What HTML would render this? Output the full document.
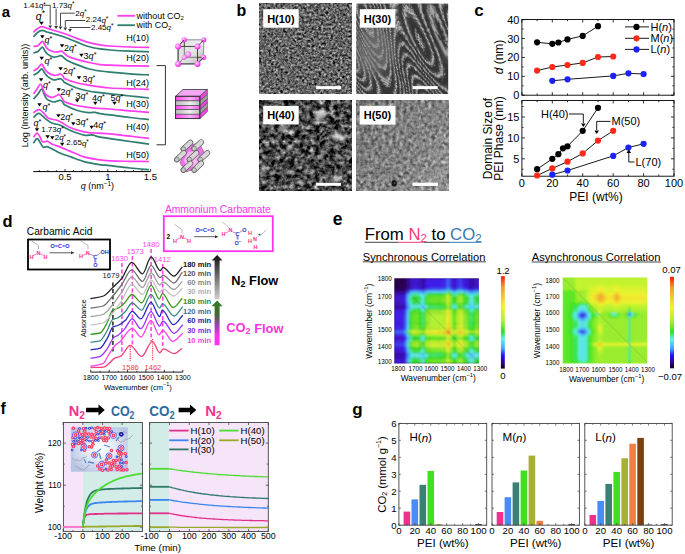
<!DOCTYPE html><html><head><meta charset="utf-8"><style>html,body{margin:0;padding:0;background:#fff}svg{display:block;font-family:"Liberation Sans",sans-serif}</style></head><body><svg width="685" height="554" viewBox="0 0 685 554"><text x="1.8" y="11.6" font-size="15" text-anchor="start" fill="#000" font-weight="bold" font-style="normal" dominant-baseline="central" >a</text><path d="M33.40,37.00 C34.00,36.33 35.62,34.10 37.00,33.00 C38.38,31.90 40.03,30.57 41.70,30.40 C43.37,30.23 45.05,31.45 47.00,32.00 C48.95,32.55 50.40,32.83 53.40,33.70 C56.40,34.57 61.12,35.83 65.00,37.20 C68.88,38.57 72.80,40.35 76.70,41.90 C80.60,43.45 84.52,45.33 88.40,46.50 C92.28,47.67 96.40,48.32 100.00,48.90 C103.60,49.48 105.00,49.62 110.00,50.00 C115.00,50.38 123.50,50.90 130.00,51.20 C136.50,51.50 145.83,51.70 149.00,51.80" stroke="#2e7d70" stroke-width="1.7" fill="none" stroke-linejoin="round"/><path d="M33.40,32.50 C34.00,31.92 35.62,29.98 37.00,29.00 C38.38,28.02 40.03,26.73 41.70,26.60 C43.37,26.47 45.05,27.60 47.00,28.20 C48.95,28.80 50.40,29.28 53.40,30.20 C56.40,31.12 61.12,32.33 65.00,33.70 C68.88,35.07 72.80,36.95 76.70,38.40 C80.60,39.85 84.52,41.33 88.40,42.40 C92.28,43.47 96.40,44.20 100.00,44.80 C103.60,45.40 105.00,45.63 110.00,46.00 C115.00,46.37 123.50,46.77 130.00,47.00 C136.50,47.23 145.83,47.33 149.00,47.40" stroke="#ff3cf0" stroke-width="1.7" fill="none" stroke-linejoin="round"/><path d="M33.40,53.00 C34.17,52.75 36.52,52.48 38.00,51.50 C39.48,50.52 41.13,47.18 42.30,47.10 C43.47,47.02 44.13,49.83 45.00,51.00 C45.87,52.17 46.10,53.10 47.50,54.10 C48.90,55.10 51.65,56.60 53.40,57.00 C55.15,57.40 56.65,56.68 58.00,56.50 C59.35,56.32 59.93,55.23 61.50,55.90 C63.07,56.57 64.87,59.05 67.40,60.50 C69.93,61.95 73.20,63.23 76.70,64.60 C80.20,65.97 84.52,67.63 88.40,68.70 C92.28,69.77 96.40,70.42 100.00,71.00 C103.60,71.58 105.00,71.73 110.00,72.20 C115.00,72.67 123.50,73.35 130.00,73.80 C136.50,74.25 145.83,74.72 149.00,74.90" stroke="#2e7d70" stroke-width="1.7" fill="none" stroke-linejoin="round"/><path d="M33.40,46.50 C34.20,46.32 36.72,46.27 38.20,45.40 C39.68,44.53 41.17,41.37 42.30,41.30 C43.43,41.23 44.13,43.73 45.00,45.00 C45.87,46.27 46.10,47.77 47.50,48.90 C48.90,50.03 51.65,51.32 53.40,51.80 C55.15,52.28 56.65,51.93 58.00,51.80 C59.35,51.67 60.75,51.05 61.50,51.00 C62.25,50.95 61.52,50.68 62.50,51.50 C63.48,52.32 65.03,54.58 67.40,55.90 C69.77,57.22 73.20,58.33 76.70,59.40 C80.20,60.47 84.52,61.43 88.40,62.30 C92.28,63.17 96.40,64.12 100.00,64.60 C103.60,65.08 105.00,65.00 110.00,65.20 C115.00,65.40 123.50,65.63 130.00,65.80 C136.50,65.97 145.83,66.13 149.00,66.20" stroke="#ff3cf0" stroke-width="1.7" fill="none" stroke-linejoin="round"/><path d="M33.50,75.20 C34.25,74.75 36.63,73.57 38.00,72.50 C39.37,71.43 40.62,68.75 41.70,68.80 C42.78,68.85 43.53,71.53 44.50,72.80 C45.47,74.07 46.02,75.22 47.50,76.40 C48.98,77.58 51.65,79.43 53.40,79.90 C55.15,80.37 56.83,79.40 58.00,79.20 C59.17,79.00 59.57,78.48 60.40,78.70 C61.23,78.92 62.23,79.82 63.00,80.50 C63.77,81.18 62.72,81.55 65.00,82.80 C67.28,84.05 72.80,86.63 76.70,88.00 C80.60,89.37 84.52,90.22 88.40,91.00 C92.28,91.78 96.40,92.22 100.00,92.70 C103.60,93.18 105.00,93.35 110.00,93.90 C115.00,94.45 123.50,95.32 130.00,96.00 C136.50,96.68 145.83,97.67 149.00,98.00" stroke="#2e7d70" stroke-width="1.7" fill="none" stroke-linejoin="round"/><path d="M33.50,71.10 C34.25,70.58 36.63,69.17 38.00,68.00 C39.37,66.83 40.62,64.02 41.70,64.10 C42.78,64.18 43.53,67.13 44.50,68.50 C45.47,69.87 46.02,71.18 47.50,72.30 C48.98,73.42 51.65,74.78 53.40,75.20 C55.15,75.62 56.83,75.00 58.00,74.80 C59.17,74.60 59.57,73.80 60.40,74.00 C61.23,74.20 62.23,75.22 63.00,76.00 C63.77,76.78 62.72,77.57 65.00,78.70 C67.28,79.83 72.80,81.73 76.70,82.80 C80.60,83.87 84.52,84.42 88.40,85.10 C92.28,85.78 96.40,86.42 100.00,86.90 C103.60,87.38 105.00,87.68 110.00,88.00 C115.00,88.32 123.50,88.58 130.00,88.80 C136.50,89.02 145.83,89.22 149.00,89.30" stroke="#ff3cf0" stroke-width="1.7" fill="none" stroke-linejoin="round"/><path d="M33.50,99.10 C34.25,98.25 36.63,95.65 38.00,94.00 C39.37,92.35 40.62,89.03 41.70,89.20 C42.78,89.37 43.53,93.25 44.50,95.00 C45.47,96.75 46.02,98.53 47.50,99.70 C48.98,100.87 51.73,101.78 53.40,102.00 C55.07,102.22 56.33,101.28 57.50,101.00 C58.67,100.72 59.48,100.05 60.40,100.30 C61.32,100.55 62.23,101.72 63.00,102.50 C63.77,103.28 62.72,103.72 65.00,105.00 C67.28,106.28 72.80,108.93 76.70,110.20 C80.60,111.47 85.35,112.25 88.40,112.60 C91.45,112.95 93.07,112.12 95.00,112.30 C96.93,112.48 97.50,113.27 100.00,113.70 C102.50,114.13 105.00,114.27 110.00,114.90 C115.00,115.53 123.50,116.72 130.00,117.50 C136.50,118.28 145.83,119.25 149.00,119.60" stroke="#2e7d70" stroke-width="1.7" fill="none" stroke-linejoin="round"/><path d="M33.50,93.90 C34.08,93.08 35.83,90.65 37.00,89.00 C38.17,87.35 39.50,84.00 40.50,84.00 C41.50,84.00 42.22,87.35 43.00,89.00 C43.78,90.65 43.87,92.50 45.20,93.90 C46.53,95.30 49.20,97.05 51.00,97.40 C52.80,97.75 54.63,96.48 56.00,96.00 C57.37,95.52 58.20,94.17 59.20,94.50 C60.20,94.83 61.03,96.75 62.00,98.00 C62.97,99.25 62.55,100.75 65.00,102.00 C67.45,103.25 72.80,104.62 76.70,105.50 C80.60,106.38 84.52,106.80 88.40,107.30 C92.28,107.80 96.40,108.22 100.00,108.50 C103.60,108.78 105.00,108.62 110.00,109.00 C115.00,109.38 123.50,110.23 130.00,110.80 C136.50,111.37 145.83,112.13 149.00,112.40" stroke="#ff3cf0" stroke-width="1.7" fill="none" stroke-linejoin="round"/><path d="M33.40,117.60 C33.92,117.08 35.48,115.18 36.50,114.50 C37.52,113.82 38.10,112.87 39.50,113.50 C40.90,114.13 43.10,116.83 44.90,118.30 C46.70,119.77 48.62,121.35 50.30,122.30 C51.98,123.25 53.42,123.55 55.00,124.00 C56.58,124.45 57.20,123.92 59.80,125.00 C62.40,126.08 66.55,128.80 70.60,130.50 C74.65,132.20 80.53,134.48 84.10,135.20 C87.67,135.92 89.73,134.57 92.00,134.80 C94.27,135.03 94.70,135.97 97.70,136.60 C100.70,137.23 104.62,137.78 110.00,138.60 C115.38,139.42 123.50,140.57 130.00,141.50 C136.50,142.43 145.83,143.75 149.00,144.20" stroke="#2e7d70" stroke-width="1.7" fill="none" stroke-linejoin="round"/><path d="M33.40,112.90 C33.92,112.50 35.48,111.03 36.50,110.50 C37.52,109.97 38.33,109.30 39.50,109.70 C40.67,110.10 42.15,111.58 43.50,112.90 C44.85,114.22 46.18,116.53 47.60,117.60 C49.02,118.67 50.42,118.85 52.00,119.30 C53.58,119.75 55.58,119.80 57.10,120.30 C58.62,120.80 58.85,121.07 61.10,122.30 C63.35,123.53 66.77,126.12 70.60,127.70 C74.43,129.28 79.58,130.88 84.10,131.80 C88.62,132.72 93.38,132.87 97.70,133.20 C102.02,133.53 104.62,133.30 110.00,133.80 C115.38,134.30 123.50,135.43 130.00,136.20 C136.50,136.97 145.83,138.03 149.00,138.40" stroke="#ff3cf0" stroke-width="1.7" fill="none" stroke-linejoin="round"/><path d="M33.40,143.30 C33.75,142.75 34.83,140.78 35.50,140.00 C36.17,139.22 36.73,138.35 37.40,138.60 C38.07,138.85 38.58,140.10 39.50,141.50 C40.42,142.90 42.07,146.05 42.90,147.00 C43.73,147.95 43.83,147.25 44.50,147.20 C45.17,147.15 45.70,146.45 46.90,146.70 C48.10,146.95 50.18,147.98 51.70,148.70 C53.22,149.42 54.43,150.20 56.00,151.00 C57.57,151.80 58.67,152.52 61.10,153.50 C63.53,154.48 66.77,155.55 70.60,156.90 C74.43,158.25 79.58,160.37 84.10,161.60 C88.62,162.83 93.38,163.62 97.70,164.30 C102.02,164.98 104.62,165.08 110.00,165.70 C115.38,166.32 123.50,167.35 130.00,168.00 C136.50,168.65 145.83,169.33 149.00,169.60" stroke="#2e7d70" stroke-width="1.7" fill="none" stroke-linejoin="round"/><path d="M33.40,137.20 C33.75,136.75 34.83,135.17 35.50,134.50 C36.17,133.83 36.73,132.95 37.40,133.20 C38.07,133.45 38.70,134.62 39.50,136.00 C40.30,137.38 41.37,140.53 42.20,141.50 C43.03,142.47 43.60,141.83 44.50,141.80 C45.40,141.77 46.40,140.93 47.60,141.30 C48.80,141.67 50.30,143.30 51.70,144.00 C53.10,144.70 54.43,144.93 56.00,145.50 C57.57,146.07 58.67,146.42 61.10,147.40 C63.53,148.38 66.77,149.82 70.60,151.40 C74.43,152.98 79.58,155.53 84.10,156.90 C88.62,158.27 93.38,158.93 97.70,159.60 C102.02,160.27 104.62,160.62 110.00,160.90 C115.38,161.18 123.50,161.20 130.00,161.30 C136.50,161.40 145.83,161.47 149.00,161.50" stroke="#ff3cf0" stroke-width="1.7" fill="none" stroke-linejoin="round"/><text x="149.0" y="37.5" font-size="9.1" text-anchor="end" fill="#000" font-weight="normal" font-style="normal" dominant-baseline="central" >H(10)</text><text x="149.0" y="58.0" font-size="9.1" text-anchor="end" fill="#000" font-weight="normal" font-style="normal" dominant-baseline="central" >H(20)</text><text x="149.0" y="82.5" font-size="9.1" text-anchor="end" fill="#000" font-weight="normal" font-style="normal" dominant-baseline="central" >H(24)</text><text x="149.0" y="104.0" font-size="9.1" text-anchor="end" fill="#000" font-weight="normal" font-style="normal" dominant-baseline="central" >H(30)</text><text x="149.0" y="127.0" font-size="9.1" text-anchor="end" fill="#000" font-weight="normal" font-style="normal" dominant-baseline="central" >H(40)</text><text x="149.0" y="154.5" font-size="9.1" text-anchor="end" fill="#000" font-weight="normal" font-style="normal" dominant-baseline="central" >H(50)</text><line x1="33.3" y1="171.6" x2="150.3" y2="171.6" stroke="#000" stroke-width="1" /><line x1="39.3" y1="171.6" x2="39.3" y2="170.1" stroke="#000" stroke-width="0.8" /><line x1="47.9" y1="171.6" x2="47.9" y2="170.1" stroke="#000" stroke-width="0.8" /><line x1="56.4" y1="171.6" x2="56.4" y2="170.1" stroke="#000" stroke-width="0.8" /><line x1="65.0" y1="171.6" x2="65.0" y2="169.1" stroke="#000" stroke-width="0.8" /><line x1="73.6" y1="171.6" x2="73.6" y2="170.1" stroke="#000" stroke-width="0.8" /><line x1="82.1" y1="171.6" x2="82.1" y2="170.1" stroke="#000" stroke-width="0.8" /><line x1="90.7" y1="171.6" x2="90.7" y2="170.1" stroke="#000" stroke-width="0.8" /><line x1="99.2" y1="171.6" x2="99.2" y2="170.1" stroke="#000" stroke-width="0.8" /><line x1="107.8" y1="171.6" x2="107.8" y2="169.1" stroke="#000" stroke-width="0.8" /><line x1="116.4" y1="171.6" x2="116.4" y2="170.1" stroke="#000" stroke-width="0.8" /><line x1="124.9" y1="171.6" x2="124.9" y2="170.1" stroke="#000" stroke-width="0.8" /><line x1="133.5" y1="171.6" x2="133.5" y2="170.1" stroke="#000" stroke-width="0.8" /><line x1="142.0" y1="171.6" x2="142.0" y2="170.1" stroke="#000" stroke-width="0.8" /><line x1="150.6" y1="171.6" x2="150.6" y2="169.1" stroke="#000" stroke-width="0.8" /><text x="65.0" y="176.6" font-size="9.5" text-anchor="middle" fill="#000" font-weight="normal" font-style="normal" dominant-baseline="central" >0.5</text><text x="107.8" y="176.6" font-size="9.5" text-anchor="middle" fill="#000" font-weight="normal" font-style="normal" dominant-baseline="central" >1</text><text x="150.4" y="176.6" font-size="9.5" text-anchor="middle" fill="#000" font-weight="normal" font-style="normal" dominant-baseline="central" >1.5</text><text x="97.4" y="186" font-size="9" text-anchor="middle" dominant-baseline="central"><tspan font-style="italic">q</tspan> (nm<tspan font-size="6.5" dy="-3.5">−1</tspan><tspan dy="3.5">)</tspan></text><text transform="translate(24.5,95.5) rotate(-90)" font-size="9.1" text-anchor="middle" dominant-baseline="central">Log (Intensity (arb. units))</text><line x1="117.4" y1="15.8" x2="135.0" y2="15.8" stroke="#ff3cf0" stroke-width="1.8" /><text x="136.5" y="15.8" font-size="8.9" text-anchor="start" fill="#000" font-weight="normal" font-style="normal" dominant-baseline="central" >without CO<tspan font-size="6" dy="2.5">2</tspan></text><line x1="117.4" y1="25.2" x2="135.0" y2="25.2" stroke="#2e7d70" stroke-width="1.8" /><text x="136.5" y="25.2" font-size="8.9" text-anchor="start" fill="#000" font-weight="normal" font-style="normal" dominant-baseline="central" >with CO<tspan font-size="6" dy="2.5">2</tspan></text><text x="35.8" y="15.5" font-size="10.5" dominant-baseline="central"><tspan font-style="italic">q</tspan><tspan font-size="8.4" dy="-2.3">*</tspan></text><path d="M39.3,21.7 L43.7,21.7 L41.5,25.0Z" fill="#000"/><g fill="#555" font-size="8.5"></g><text x="23.3" y="5.3" font-size="8" dominant-baseline="central">1.41<tspan font-style="italic">q</tspan><tspan font-size="6.4" dy="-1.8">*</tspan></text><text x="52.0" y="5.0" font-size="8" dominant-baseline="central">1.73<tspan font-style="italic">q</tspan><tspan font-size="6.4" dy="-1.8">*</tspan></text><text x="75.3" y="13.2" font-size="8" dominant-baseline="central">2<tspan font-style="italic">q</tspan><tspan font-size="6.4" dy="-1.8">*</tspan></text><text x="85.8" y="19.6" font-size="8" dominant-baseline="central">2.24<tspan font-style="italic">q</tspan><tspan font-size="6.4" dy="-1.8">*</tspan></text><text x="91.0" y="27.2" font-size="8" dominant-baseline="central">2.45<tspan font-style="italic">q</tspan><tspan font-size="6.4" dy="-1.8">*</tspan></text><line x1="44.0" y1="5.3" x2="50.2" y2="5.3" stroke="#333" stroke-width="0.9" /><line x1="50.2" y1="5.3" x2="50.2" y2="24.5" stroke="#333" stroke-width="0.9" /><path d="M48.3,25.4 L52.1,25.4 L50.2,28.2Z" fill="#333"/><line x1="56.1" y1="8.5" x2="56.1" y2="25.5" stroke="#333" stroke-width="0.9" /><path d="M54.2,26.1 L58.0,26.1 L56.1,29.0Z" fill="#333"/><line x1="60.5" y1="13.2" x2="74.8" y2="13.2" stroke="#333" stroke-width="0.9" /><line x1="60.5" y1="13.2" x2="60.5" y2="26.0" stroke="#333" stroke-width="0.9" /><path d="M58.6,26.6 L62.4,26.6 L60.5,29.5Z" fill="#333"/><line x1="65.3" y1="20.5" x2="85.2" y2="20.5" stroke="#333" stroke-width="0.9" /><line x1="65.3" y1="20.5" x2="65.3" y2="27.0" stroke="#333" stroke-width="0.9" /><path d="M63.4,27.6 L67.2,27.6 L65.3,30.5Z" fill="#333"/><line x1="70.0" y1="27.5" x2="90.5" y2="27.5" stroke="#333" stroke-width="0.9" /><line x1="70.0" y1="27.5" x2="70.0" y2="28.5" stroke="#333" stroke-width="0.9" /><path d="M68.1,29.1 L71.9,29.1 L70.0,32.0Z" fill="#333"/><path d="M40.1,35.2 L44.5,35.2 L42.3,38.5Z" fill="#000"/><text x="44.6" y="39.5" font-size="9" dominant-baseline="central"><tspan font-style="italic">q</tspan><tspan font-size="7.2" dy="-2.0">*</tspan></text><path d="M59.9,44.2 L64.3,44.2 L62.1,47.5Z" fill="#000"/><text x="64.0" y="47.5" font-size="9" dominant-baseline="central">2<tspan font-style="italic">q</tspan><tspan font-size="7.2" dy="-2.0">*</tspan></text><path d="M79.2,53.7 L83.6,53.7 L81.4,57.0Z" fill="#000"/><text x="83.6" y="56.0" font-size="9" dominant-baseline="central">3<tspan font-style="italic">q</tspan><tspan font-size="7.2" dy="-2.0">*</tspan></text><path d="M39.5,56.7 L43.9,56.7 L41.7,60.0Z" fill="#000"/><text x="44.6" y="61.0" font-size="9" dominant-baseline="central"><tspan font-style="italic">q</tspan><tspan font-size="7.2" dy="-2.0">*</tspan></text><path d="M58.4,67.2 L62.8,67.2 L60.6,70.5Z" fill="#000"/><text x="63.0" y="71.0" font-size="9" dominant-baseline="central">2<tspan font-style="italic">q</tspan><tspan font-size="7.2" dy="-2.0">*</tspan></text><path d="M76.8,76.2 L81.2,76.2 L79.0,79.5Z" fill="#000"/><text x="82.5" y="78.5" font-size="9" dominant-baseline="central">3<tspan font-style="italic">q</tspan><tspan font-size="7.2" dy="-2.0">*</tspan></text><path d="M38.9,78.2 L43.3,78.2 L41.1,81.5Z" fill="#000"/><text x="43.0" y="84.5" font-size="9" dominant-baseline="central"><tspan font-style="italic">q</tspan><tspan font-size="7.2" dy="-2.0">*</tspan></text><path d="M56.6,88.2 L61.0,88.2 L58.8,91.5Z" fill="#000"/><text x="60.5" y="92.0" font-size="9" dominant-baseline="central">2<tspan font-style="italic">q</tspan><tspan font-size="7.2" dy="-2.0">*</tspan></text><text x="75.5" y="95.5" font-size="9" dominant-baseline="central">3<tspan font-style="italic">q</tspan><tspan font-size="7.2" dy="-2.0">*</tspan></text><path d="M75.0,99.2 L79.4,99.2 L77.2,102.5Z" fill="#000"/><text x="92.0" y="98.0" font-size="9" dominant-baseline="central">4<tspan font-style="italic">q</tspan><tspan font-size="7.2" dy="-2.0">*</tspan></text><path d="M93.1,101.7 L97.5,101.7 L95.3,105.0Z" fill="#000"/><text x="110.5" y="97.5" font-size="9" dominant-baseline="central">5<tspan font-style="italic">q</tspan><tspan font-size="7.2" dy="-2.0">*</tspan></text><path d="M112.3,101.7 L116.7,101.7 L114.5,105.0Z" fill="#000"/><path d="M37.3,103.2 L41.7,103.2 L39.5,106.5Z" fill="#000"/><text x="42.4" y="107.0" font-size="9" dominant-baseline="central"><tspan font-style="italic">q</tspan><tspan font-size="7.2" dy="-2.0">*</tspan></text><path d="M56.2,114.2 L60.6,114.2 L58.4,117.5Z" fill="#000"/><text x="60.3" y="116.5" font-size="9" dominant-baseline="central">2<tspan font-style="italic">q</tspan><tspan font-size="7.2" dy="-2.0">*</tspan></text><path d="M71.1,122.2 L75.5,122.2 L73.3,125.5Z" fill="#000"/><text x="75.6" y="121.7" font-size="9" dominant-baseline="central">3<tspan font-style="italic">q</tspan><tspan font-size="7.2" dy="-2.0">*</tspan></text><path d="M89.4,125.7 L93.8,125.7 L91.6,129.0Z" fill="#000"/><text x="93.2" y="125.0" font-size="9" dominant-baseline="central">4<tspan font-style="italic">q</tspan><tspan font-size="7.2" dy="-2.0">*</tspan></text><text x="33.6" y="123.0" font-size="9" dominant-baseline="central"><tspan font-style="italic">q</tspan><tspan font-size="7.2" dy="-2.0">*</tspan></text><path d="M34.8,128.2 L39.2,128.2 L37.0,131.5Z" fill="#000"/><text x="41.2" y="129.3" font-size="8" dominant-baseline="central">1.73<tspan font-style="italic">q</tspan><tspan font-size="6.4" dy="-1.8">*</tspan></text><path d="M45.4,135.2 L49.8,135.2 L47.6,138.5Z" fill="#000"/><path d="M50.1,136.2 L54.5,136.2 L52.3,139.5Z" fill="#000"/><text x="54.7" y="137.3" font-size="8" dominant-baseline="central">2<tspan font-style="italic">q</tspan><tspan font-size="6.4" dy="-1.8">*</tspan></text><text x="66.3" y="142.6" font-size="8" dominant-baseline="central">2.65<tspan font-style="italic">q</tspan><tspan font-size="6.4" dy="-1.8">*</tspan></text><path d="M60.0,142.7 L64.4,142.7 L62.2,146.0Z" fill="#000"/><line x1="156.5" y1="65.6" x2="165.4" y2="65.6" stroke="#333" stroke-width="1" /><line x1="165.4" y1="65.6" x2="165.4" y2="144.8" stroke="#333" stroke-width="1" /><line x1="156.5" y1="144.8" x2="165.4" y2="144.8" stroke="#333" stroke-width="1" /><defs><radialGradient id="sph" cx="40%" cy="40%" r="60%"><stop offset="0" stop-color="#ffe6ff"/><stop offset="0.5" stop-color="#ff7af5"/><stop offset="1" stop-color="#ee22e6"/></radialGradient><linearGradient id="cubeg" x1="0" y1="0" x2="1" y2="1"><stop offset="0" stop-color="#d8d8d8"/><stop offset="0.5" stop-color="#f0f0f0"/><stop offset="1" stop-color="#a8a8a8"/></linearGradient><linearGradient id="lamp" x1="0" y1="0" x2="1" y2="0"><stop offset="0" stop-color="#ff44ee"/><stop offset="0.6" stop-color="#f8b0f4"/><stop offset="1" stop-color="#ff55ee"/></linearGradient><linearGradient id="lamg" x1="0" y1="0" x2="1" y2="0"><stop offset="0" stop-color="#b8b8b8"/><stop offset="0.6" stop-color="#eeeeee"/><stop offset="1" stop-color="#c0c0c0"/></linearGradient><linearGradient id="cylg" x1="0" y1="0" x2="1" y2="1"><stop offset="0" stop-color="#f4f4f4"/><stop offset="1" stop-color="#a8a8a8"/></linearGradient></defs><path d="M178.1,46.4 L184.29999999999998,39.8 L203.7,39.8 L203.7,57.3 L197.5,63.9 L178.1,63.9Z" fill="url(#cubeg)" stroke="#777" stroke-width="0.8"/><line x1="184.3" y1="39.8" x2="184.3" y2="57.3" stroke="#333" stroke-width="0.9" /><line x1="184.3" y1="57.3" x2="203.7" y2="57.3" stroke="#333" stroke-width="0.9" /><line x1="184.3" y1="57.3" x2="178.1" y2="63.9" stroke="#333" stroke-width="0.9" /><circle cx="184.3" cy="39.8" r="2.6" fill="url(#sph)" stroke="none" stroke-width="1" /><circle cx="203.7" cy="39.8" r="2.6" fill="url(#sph)" stroke="none" stroke-width="1" /><circle cx="203.7" cy="57.3" r="2.6" fill="url(#sph)" stroke="none" stroke-width="1" /><circle cx="184.3" cy="57.3" r="2.6" fill="url(#sph)" stroke="none" stroke-width="1" /><circle cx="188.2" cy="54.3" r="3.1" fill="url(#sph)" stroke="none" stroke-width="1" /><rect x="178.1" y="46.4" width="19.4" height="17.5" fill="#d8d8d8" fill-opacity="0.35" stroke="#333" stroke-width="0.9"/><line x1="197.5" y1="46.4" x2="203.7" y2="39.8" stroke="#333" stroke-width="0.9" /><line x1="178.1" y1="46.4" x2="184.3" y2="39.8" stroke="#333" stroke-width="0.9" /><line x1="197.5" y1="63.9" x2="203.7" y2="57.3" stroke="#333" stroke-width="0.9" /><circle cx="178.1" cy="46.4" r="3.0" fill="url(#sph)" stroke="none" stroke-width="1" /><circle cx="197.5" cy="46.4" r="3.0" fill="url(#sph)" stroke="none" stroke-width="1" /><circle cx="178.1" cy="63.9" r="3.0" fill="url(#sph)" stroke="none" stroke-width="1" /><circle cx="197.5" cy="63.9" r="3.0" fill="url(#sph)" stroke="none" stroke-width="1" /><path d="M175.5,96.3 L183.0,89.5 L207.4,89.5 L199.9,96.3Z" fill="#f6a6f2" stroke="#333" stroke-width="0.8"/><rect x="175.5" y="96.3" width="24.4" height="4.6" fill="url(#lamp)" stroke="#444" stroke-width="0.6" /><path d="M199.9,96.3 L207.4,89.5 L207.4,94.10000000000001 L199.9,100.9Z" fill="#ee44e8" stroke="#444" stroke-width="0.6"/><rect x="175.5" y="100.9" width="24.4" height="4.7" fill="url(#lamg)" stroke="#444" stroke-width="0.6" /><path d="M199.9,100.9 L207.4,94.10000000000001 L207.4,98.8 L199.9,105.6Z" fill="#a0a0a0" stroke="#444" stroke-width="0.6"/><rect x="175.5" y="105.6" width="24.4" height="4.1" fill="url(#lamp)" stroke="#444" stroke-width="0.6" /><path d="M199.9,105.6 L207.4,98.8 L207.4,102.9 L199.9,109.7Z" fill="#ee44e8" stroke="#444" stroke-width="0.6"/><rect x="175.5" y="109.7" width="24.4" height="4.5" fill="url(#lamg)" stroke="#444" stroke-width="0.6" /><path d="M199.9,109.7 L207.4,102.9 L207.4,107.4 L199.9,114.2Z" fill="#a0a0a0" stroke="#444" stroke-width="0.6"/><rect x="175.5" y="114.2" width="24.4" height="4.4" fill="url(#lamp)" stroke="#444" stroke-width="0.6" /><path d="M199.9,114.2 L207.4,107.4 L207.4,111.8 L199.9,118.6Z" fill="#ee44e8" stroke="#444" stroke-width="0.6"/><rect x="175.5" y="96.3" width="24.4" height="22.3" fill="none" stroke="#333" stroke-width="0.9" /><path d="M186,146 L199,143 L204,152 L199,167 L186,172 L180,163Z" fill="#f070ec" stroke="#555" stroke-width="0.5"/><path d="M188,152 L197,150 L200,158 L196,166 L187,168 L184,160Z" fill="#f8b4f4"/><line x1="183.4" y1="149.0" x2="190.4" y2="142.5" stroke="#555" stroke-width="5.6" stroke-linecap="round"/><line x1="183.4" y1="149.0" x2="190.4" y2="142.5" stroke="#d8d8d8" stroke-width="4.4" stroke-linecap="round"/><circle cx="183.4" cy="149.0" r="2.3" fill="#c8c8c8" stroke="#555" stroke-width="0.6" /><line x1="194.2" y1="148.6" x2="201.2" y2="142.1" stroke="#555" stroke-width="5.6" stroke-linecap="round"/><line x1="194.2" y1="148.6" x2="201.2" y2="142.1" stroke="#d8d8d8" stroke-width="4.4" stroke-linecap="round"/><circle cx="194.2" cy="148.6" r="2.3" fill="#c8c8c8" stroke="#555" stroke-width="0.6" /><line x1="176.9" y1="159.5" x2="183.9" y2="153.0" stroke="#555" stroke-width="5.6" stroke-linecap="round"/><line x1="176.9" y1="159.5" x2="183.9" y2="153.0" stroke="#d8d8d8" stroke-width="4.4" stroke-linecap="round"/><circle cx="176.9" cy="159.5" r="2.3" fill="#c8c8c8" stroke="#555" stroke-width="0.6" /><line x1="189.5" y1="159.5" x2="196.5" y2="153.0" stroke="#555" stroke-width="5.6" stroke-linecap="round"/><line x1="189.5" y1="159.5" x2="196.5" y2="153.0" stroke="#d8d8d8" stroke-width="4.4" stroke-linecap="round"/><circle cx="189.5" cy="159.5" r="2.3" fill="#c8c8c8" stroke="#555" stroke-width="0.6" /><line x1="200.3" y1="159.5" x2="207.3" y2="153.0" stroke="#555" stroke-width="5.6" stroke-linecap="round"/><line x1="200.3" y1="159.5" x2="207.3" y2="153.0" stroke="#d8d8d8" stroke-width="4.4" stroke-linecap="round"/><circle cx="200.3" cy="159.5" r="2.3" fill="#c8c8c8" stroke="#555" stroke-width="0.6" /><line x1="183.4" y1="170.0" x2="190.4" y2="163.5" stroke="#555" stroke-width="5.6" stroke-linecap="round"/><line x1="183.4" y1="170.0" x2="190.4" y2="163.5" stroke="#d8d8d8" stroke-width="4.4" stroke-linecap="round"/><circle cx="183.4" cy="170.0" r="2.3" fill="#c8c8c8" stroke="#555" stroke-width="0.6" /><line x1="194.2" y1="170.0" x2="201.2" y2="163.5" stroke="#555" stroke-width="5.6" stroke-linecap="round"/><line x1="194.2" y1="170.0" x2="201.2" y2="163.5" stroke="#d8d8d8" stroke-width="4.4" stroke-linecap="round"/><circle cx="194.2" cy="170.0" r="2.3" fill="#c8c8c8" stroke="#555" stroke-width="0.6" /><text x="236.5" y="10.5" font-size="16" text-anchor="start" fill="#000" font-weight="bold" font-style="normal" dominant-baseline="central" >b</text><defs><filter id="tem1" x="0" y="0" width="1" height="1" color-interpolation-filters="sRGB"><feTurbulence type="fractalNoise" baseFrequency="0.42" numOctaves="2" seed="4"/><feColorMatrix type="matrix" values="0.33 0.33 0.33 0 0 0.33 0.33 0.33 0 0 0.33 0.33 0.33 0 0 0 0 0 0 1"/><feComponentTransfer><feFuncR type="linear" slope="1.8" intercept="-0.5"/><feFuncG type="linear" slope="1.8" intercept="-0.5"/><feFuncB type="linear" slope="1.8" intercept="-0.5"/></feComponentTransfer></filter><filter id="tem3" x="0" y="0" width="1" height="1" color-interpolation-filters="sRGB"><feTurbulence type="fractalNoise" baseFrequency="0.007 0.03" numOctaves="1" seed="9"/><feColorMatrix type="matrix" values="1 0 0 0 0 1 0 0 0 0 1 0 0 0 0 0 0 0 0 1"/><feComponentTransfer><feFuncR type="table" tableValues="0.2 0.74 0.3 0.2 0.2 0.74 0.3 0.2 0.2 0.74 0.3 0.2 0.2 0.74 0.3 0.2 0.2 0.74 0.3 0.2 0.2 0.74 0.3 0.2 0.2 0.74 0.3 0.2 0.2 0.74 0.3 0.2 0.2 0.74 0.3 0.2 0.2 0.74 0.3 0.2 0.2 0.74 0.3 0.2 0.2 0.74 0.3 0.2 0.2 0.74 0.3 0.2 0.2 0.74 0.3 0.2 0.2 0.74 0.3 0.2 0.2 0.74 0.3 0.2 0.2 0.74 0.3 0.2 0.2 0.74 0.3 0.2 0.2 0.74 0.3 0.2 0.2 0.74 0.3 0.2 0.2 0.74 0.3 0.2 0.2 0.74 0.3 0.2 0.2 0.74 0.3 0.2 0.2 0.74 0.3 0.2 0.2 0.74 0.3 0.2 0.2 0.74 0.3 0.2 0.2 0.74 0.3 0.2 0.2 0.74 0.3 0.2"/><feFuncG type="table" tableValues="0.2 0.74 0.3 0.2 0.2 0.74 0.3 0.2 0.2 0.74 0.3 0.2 0.2 0.74 0.3 0.2 0.2 0.74 0.3 0.2 0.2 0.74 0.3 0.2 0.2 0.74 0.3 0.2 0.2 0.74 0.3 0.2 0.2 0.74 0.3 0.2 0.2 0.74 0.3 0.2 0.2 0.74 0.3 0.2 0.2 0.74 0.3 0.2 0.2 0.74 0.3 0.2 0.2 0.74 0.3 0.2 0.2 0.74 0.3 0.2 0.2 0.74 0.3 0.2 0.2 0.74 0.3 0.2 0.2 0.74 0.3 0.2 0.2 0.74 0.3 0.2 0.2 0.74 0.3 0.2 0.2 0.74 0.3 0.2 0.2 0.74 0.3 0.2 0.2 0.74 0.3 0.2 0.2 0.74 0.3 0.2 0.2 0.74 0.3 0.2 0.2 0.74 0.3 0.2 0.2 0.74 0.3 0.2 0.2 0.74 0.3 0.2"/><feFuncB type="table" tableValues="0.2 0.74 0.3 0.2 0.2 0.74 0.3 0.2 0.2 0.74 0.3 0.2 0.2 0.74 0.3 0.2 0.2 0.74 0.3 0.2 0.2 0.74 0.3 0.2 0.2 0.74 0.3 0.2 0.2 0.74 0.3 0.2 0.2 0.74 0.3 0.2 0.2 0.74 0.3 0.2 0.2 0.74 0.3 0.2 0.2 0.74 0.3 0.2 0.2 0.74 0.3 0.2 0.2 0.74 0.3 0.2 0.2 0.74 0.3 0.2 0.2 0.74 0.3 0.2 0.2 0.74 0.3 0.2 0.2 0.74 0.3 0.2 0.2 0.74 0.3 0.2 0.2 0.74 0.3 0.2 0.2 0.74 0.3 0.2 0.2 0.74 0.3 0.2 0.2 0.74 0.3 0.2 0.2 0.74 0.3 0.2 0.2 0.74 0.3 0.2 0.2 0.74 0.3 0.2 0.2 0.74 0.3 0.2 0.2 0.74 0.3 0.2"/></feComponentTransfer><feGaussianBlur stdDeviation="0.4"/></filter><filter id="tem4" x="0" y="0" width="1" height="1" color-interpolation-filters="sRGB"><feTurbulence type="fractalNoise" baseFrequency="0.2" numOctaves="3" seed="12"/><feColorMatrix type="matrix" values="0.33 0.33 0.33 0 0 0.33 0.33 0.33 0 0 0.33 0.33 0.33 0 0 0 0 0 0 1"/><feComponentTransfer><feFuncR type="linear" slope="2.4" intercept="-0.9"/><feFuncG type="linear" slope="2.4" intercept="-0.9"/><feFuncB type="linear" slope="2.4" intercept="-0.9"/></feComponentTransfer></filter><filter id="tem5" x="0" y="0" width="1" height="1" color-interpolation-filters="sRGB"><feTurbulence type="fractalNoise" baseFrequency="0.28" numOctaves="2" seed="21"/><feColorMatrix type="matrix" values="0.33 0.33 0.33 0 0 0.33 0.33 0.33 0 0 0.33 0.33 0.33 0 0 0 0 0 0 1"/><feComponentTransfer><feFuncR type="linear" slope="1.3" intercept="-0.12"/><feFuncG type="linear" slope="1.3" intercept="-0.12"/><feFuncB type="linear" slope="1.3" intercept="-0.12"/></feComponentTransfer></filter></defs><clipPath id="cp30"><rect x="356.2" y="3.4" width="92" height="90.6"/></clipPath><rect x="259.6" y="3.4" width="92.0" height="90.6" fill="#888" stroke="none" stroke-width="1" filter="url(#tem1)"/><rect x="263.2" y="9.2" width="35.5" height="18.5" fill="#fff" stroke="none" stroke-width="1" /><text x="280.9" y="18.7" font-size="11" text-anchor="middle" fill="#000" font-weight="bold" font-style="normal" dominant-baseline="central" >H(10)</text><rect x="316.1" y="86.1" width="25.0" height="3.0" fill="#fff" stroke="none" stroke-width="1" /><g clip-path="url(#cp30)"><g transform="rotate(64 402 48)"><rect x="330.0" y="-25.0" width="150.0" height="150.0" fill="#888" stroke="none" stroke-width="1" filter="url(#tem3)"/></g><defs><filter id="sb2" x="-60%" y="-60%" width="220%" height="220%"><feGaussianBlur stdDeviation="6"/></filter></defs><ellipse cx="374" cy="50" rx="20" ry="26" fill="#8a8a8a" fill-opacity="0.55" filter="url(#sb2)"/></g><rect x="359.8" y="9.2" width="35.5" height="18.5" fill="#fff" stroke="none" stroke-width="1" /><text x="377.5" y="18.7" font-size="11" text-anchor="middle" fill="#000" font-weight="bold" font-style="normal" dominant-baseline="central" >H(30)</text><rect x="412.7" y="86.1" width="25.0" height="3.0" fill="#fff" stroke="none" stroke-width="1" /><rect x="259.6" y="100.1" width="92.0" height="90.6" fill="#888" stroke="none" stroke-width="1" filter="url(#tem4)"/><rect x="263.2" y="105.9" width="35.5" height="18.5" fill="#fff" stroke="none" stroke-width="1" /><text x="280.9" y="115.4" font-size="11" text-anchor="middle" fill="#000" font-weight="bold" font-style="normal" dominant-baseline="central" >H(40)</text><rect x="316.1" y="182.8" width="25.0" height="3.0" fill="#fff" stroke="none" stroke-width="1" /><rect x="356.2" y="100.1" width="92.0" height="90.6" fill="#888" stroke="none" stroke-width="1" filter="url(#tem5)"/><rect x="359.8" y="105.9" width="35.5" height="18.5" fill="#fff" stroke="none" stroke-width="1" /><text x="377.5" y="115.4" font-size="11" text-anchor="middle" fill="#000" font-weight="bold" font-style="normal" dominant-baseline="central" >H(50)</text><rect x="412.7" y="182.8" width="25.0" height="3.0" fill="#fff" stroke="none" stroke-width="1" /><defs><linearGradient id="h50g" x1="0" y1="0" x2="1" y2="0.6"><stop offset="0" stop-color="#000" stop-opacity="0.14"/><stop offset="0.55" stop-color="#000" stop-opacity="0.03"/><stop offset="1" stop-color="#fff" stop-opacity="0.1"/></linearGradient></defs><rect x="356.2" y="100.1" width="92.0" height="90.6" fill="url(#h50g)" stroke="none" stroke-width="1" /><rect x="359.8" y="105.9" width="35.5" height="18.5" fill="#fff" stroke="none" stroke-width="1" /><text x="377.5" y="115.4" font-size="11" text-anchor="middle" fill="#000" font-weight="bold" font-style="normal" dominant-baseline="central" >H(50)</text><rect x="412.7" y="182.8" width="25.0" height="3.0" fill="#fff" stroke="none" stroke-width="1" /><ellipse cx="394.2" cy="183.3" rx="2.6" ry="3.2" fill="#151515"/><circle cx="394.6" cy="183" r="0.8" fill="#777"/><defs><filter id="sb" x="-50%" y="-50%" width="200%" height="200%"><feGaussianBlur stdDeviation="1.5"/></filter></defs><ellipse cx="321" cy="115" rx="7" ry="4" transform="rotate(-30 321 115)" fill="#f0f0f0" fill-opacity="0.75" filter="url(#sb)"/><ellipse cx="339" cy="137" rx="7" ry="3.5" transform="rotate(10 339 137)" fill="#f0f0f0" fill-opacity="0.7" filter="url(#sb)"/><ellipse cx="337" cy="179" rx="4" ry="3" transform="rotate(0 337 179)" fill="#f0f0f0" fill-opacity="0.75" filter="url(#sb)"/><ellipse cx="284" cy="128" rx="6" ry="3" transform="rotate(-20 284 128)" fill="#f0f0f0" fill-opacity="0.6" filter="url(#sb)"/><ellipse cx="290" cy="148" rx="4" ry="2.5" transform="rotate(0 290 148)" fill="#f0f0f0" fill-opacity="0.5" filter="url(#sb)"/><ellipse cx="264" cy="170" rx="3" ry="4" transform="rotate(0 264 170)" fill="#f0f0f0" fill-opacity="0.5" filter="url(#sb)"/><ellipse cx="300" cy="182" rx="3" ry="2" transform="rotate(0 300 182)" fill="#f0f0f0" fill-opacity="0.5" filter="url(#sb)"/><ellipse cx="290" cy="163" rx="4" ry="3" fill="#111" fill-opacity="0.7" filter="url(#sb)"/><text x="474.3" y="10.6" font-size="17" text-anchor="start" fill="#000" font-weight="bold" font-style="normal" dominant-baseline="central" >c</text><rect x="521.9" y="19.5" width="152.1" height="75.7" fill="none" stroke="#000" stroke-width="0.9" /><line x1="521.9" y1="95.2" x2="524.9" y2="95.2" stroke="#000" stroke-width="0.8" /><line x1="674.0" y1="95.2" x2="671.0" y2="95.2" stroke="#000" stroke-width="0.8" /><text x="519.4" y="95.2" font-size="11" text-anchor="end" fill="#000" font-weight="normal" font-style="normal" dominant-baseline="central" >0</text><line x1="521.9" y1="76.3" x2="524.9" y2="76.3" stroke="#000" stroke-width="0.8" /><line x1="674.0" y1="76.3" x2="671.0" y2="76.3" stroke="#000" stroke-width="0.8" /><text x="519.4" y="76.3" font-size="11" text-anchor="end" fill="#000" font-weight="normal" font-style="normal" dominant-baseline="central" >10</text><line x1="521.9" y1="57.4" x2="524.9" y2="57.4" stroke="#000" stroke-width="0.8" /><line x1="674.0" y1="57.4" x2="671.0" y2="57.4" stroke="#000" stroke-width="0.8" /><text x="519.4" y="57.4" font-size="11" text-anchor="end" fill="#000" font-weight="normal" font-style="normal" dominant-baseline="central" >20</text><line x1="521.9" y1="38.5" x2="524.9" y2="38.5" stroke="#000" stroke-width="0.8" /><line x1="674.0" y1="38.5" x2="671.0" y2="38.5" stroke="#000" stroke-width="0.8" /><text x="519.4" y="38.5" font-size="11" text-anchor="end" fill="#000" font-weight="normal" font-style="normal" dominant-baseline="central" >30</text><line x1="521.9" y1="19.6" x2="524.9" y2="19.6" stroke="#000" stroke-width="0.8" /><line x1="674.0" y1="19.6" x2="671.0" y2="19.6" stroke="#000" stroke-width="0.8" /><text x="519.4" y="19.6" font-size="11" text-anchor="end" fill="#000" font-weight="normal" font-style="normal" dominant-baseline="central" >40</text><line x1="521.9" y1="85.8" x2="523.6" y2="85.8" stroke="#000" stroke-width="0.7" /><line x1="674.0" y1="85.8" x2="672.3" y2="85.8" stroke="#000" stroke-width="0.7" /><line x1="521.9" y1="66.9" x2="523.6" y2="66.9" stroke="#000" stroke-width="0.7" /><line x1="674.0" y1="66.9" x2="672.3" y2="66.9" stroke="#000" stroke-width="0.7" /><line x1="521.9" y1="48.0" x2="523.6" y2="48.0" stroke="#000" stroke-width="0.7" /><line x1="674.0" y1="48.0" x2="672.3" y2="48.0" stroke="#000" stroke-width="0.7" /><line x1="521.9" y1="29.1" x2="523.6" y2="29.1" stroke="#000" stroke-width="0.7" /><line x1="674.0" y1="29.1" x2="672.3" y2="29.1" stroke="#000" stroke-width="0.7" /><line x1="521.9" y1="95.2" x2="521.9" y2="92.2" stroke="#000" stroke-width="0.8" /><line x1="521.9" y1="19.5" x2="521.9" y2="22.5" stroke="#000" stroke-width="0.8" /><line x1="537.1" y1="95.2" x2="537.1" y2="93.5" stroke="#000" stroke-width="0.8" /><line x1="537.1" y1="19.5" x2="537.1" y2="21.2" stroke="#000" stroke-width="0.8" /><line x1="552.3" y1="95.2" x2="552.3" y2="92.2" stroke="#000" stroke-width="0.8" /><line x1="552.3" y1="19.5" x2="552.3" y2="22.5" stroke="#000" stroke-width="0.8" /><line x1="567.5" y1="95.2" x2="567.5" y2="93.5" stroke="#000" stroke-width="0.8" /><line x1="567.5" y1="19.5" x2="567.5" y2="21.2" stroke="#000" stroke-width="0.8" /><line x1="582.7" y1="95.2" x2="582.7" y2="92.2" stroke="#000" stroke-width="0.8" /><line x1="582.7" y1="19.5" x2="582.7" y2="22.5" stroke="#000" stroke-width="0.8" /><line x1="598.0" y1="95.2" x2="598.0" y2="93.5" stroke="#000" stroke-width="0.8" /><line x1="598.0" y1="19.5" x2="598.0" y2="21.2" stroke="#000" stroke-width="0.8" /><line x1="613.2" y1="95.2" x2="613.2" y2="92.2" stroke="#000" stroke-width="0.8" /><line x1="613.2" y1="19.5" x2="613.2" y2="22.5" stroke="#000" stroke-width="0.8" /><line x1="628.4" y1="95.2" x2="628.4" y2="93.5" stroke="#000" stroke-width="0.8" /><line x1="628.4" y1="19.5" x2="628.4" y2="21.2" stroke="#000" stroke-width="0.8" /><line x1="643.6" y1="95.2" x2="643.6" y2="92.2" stroke="#000" stroke-width="0.8" /><line x1="643.6" y1="19.5" x2="643.6" y2="22.5" stroke="#000" stroke-width="0.8" /><line x1="658.8" y1="95.2" x2="658.8" y2="93.5" stroke="#000" stroke-width="0.8" /><line x1="658.8" y1="19.5" x2="658.8" y2="21.2" stroke="#000" stroke-width="0.8" /><line x1="674.0" y1="95.2" x2="674.0" y2="92.2" stroke="#000" stroke-width="0.8" /><line x1="674.0" y1="19.5" x2="674.0" y2="22.5" stroke="#000" stroke-width="0.8" /><polyline points="537.1,42.3 552.3,43.8 558.4,42.5 567.5,39.4 582.7,35.9 598.0,26.2" fill="none" stroke="#000" stroke-width="0.9"/><circle cx="537.1" cy="42.3" r="3.1" fill="#000" stroke="none" stroke-width="1" /><circle cx="552.3" cy="43.8" r="3.1" fill="#000" stroke="none" stroke-width="1" /><circle cx="558.4" cy="42.5" r="3.1" fill="#000" stroke="none" stroke-width="1" /><circle cx="567.5" cy="39.4" r="3.1" fill="#000" stroke="none" stroke-width="1" /><circle cx="582.7" cy="35.9" r="3.1" fill="#000" stroke="none" stroke-width="1" /><circle cx="598.0" cy="26.2" r="3.1" fill="#000" stroke="none" stroke-width="1" /><polyline points="537.1,70.6 552.3,67.0 567.5,65.0 582.7,62.9 598.0,57.0 613.2,56.5" fill="none" stroke="#000" stroke-width="0.9"/><circle cx="537.1" cy="70.6" r="3.1" fill="#ff2a1a" stroke="none" stroke-width="1" /><circle cx="552.3" cy="67.0" r="3.1" fill="#ff2a1a" stroke="none" stroke-width="1" /><circle cx="567.5" cy="65.0" r="3.1" fill="#ff2a1a" stroke="none" stroke-width="1" /><circle cx="582.7" cy="62.9" r="3.1" fill="#ff2a1a" stroke="none" stroke-width="1" /><circle cx="598.0" cy="57.0" r="3.1" fill="#ff2a1a" stroke="none" stroke-width="1" /><circle cx="613.2" cy="56.5" r="3.1" fill="#ff2a1a" stroke="none" stroke-width="1" /><polyline points="552.3,80.8 567.5,79.3 613.2,75.9 628.4,73.3 643.6,74.0" fill="none" stroke="#000" stroke-width="0.9"/><circle cx="552.3" cy="80.8" r="3.1" fill="#1a22ff" stroke="none" stroke-width="1" /><circle cx="567.5" cy="79.3" r="3.1" fill="#1a22ff" stroke="none" stroke-width="1" /><circle cx="613.2" cy="75.9" r="3.1" fill="#1a22ff" stroke="none" stroke-width="1" /><circle cx="628.4" cy="73.3" r="3.1" fill="#1a22ff" stroke="none" stroke-width="1" /><circle cx="643.6" cy="74.0" r="3.1" fill="#1a22ff" stroke="none" stroke-width="1" /><line x1="625.0" y1="26.9" x2="649.0" y2="26.9" stroke="#000" stroke-width="0.9" /><circle cx="636.5" cy="26.9" r="3.1" fill="#000" stroke="none" stroke-width="1" /><text x="650.5" y="26.9" font-size="11" text-anchor="start" fill="#000" font-weight="normal" font-style="normal" dominant-baseline="central" >H(<tspan font-style="italic">n</tspan>)</text><line x1="625.0" y1="38.3" x2="649.0" y2="38.3" stroke="#000" stroke-width="0.9" /><circle cx="636.5" cy="38.3" r="3.1" fill="#ff2a1a" stroke="none" stroke-width="1" /><text x="650.5" y="38.3" font-size="11" text-anchor="start" fill="#000" font-weight="normal" font-style="normal" dominant-baseline="central" >M(<tspan font-style="italic">n</tspan>)</text><line x1="625.0" y1="49.4" x2="649.0" y2="49.4" stroke="#000" stroke-width="0.9" /><circle cx="636.5" cy="49.4" r="3.1" fill="#1a22ff" stroke="none" stroke-width="1" /><text x="650.5" y="49.4" font-size="11" text-anchor="start" fill="#000" font-weight="normal" font-style="normal" dominant-baseline="central" >L(<tspan font-style="italic">n</tspan>)</text><text transform="translate(499,57) rotate(-90)" font-size="12" text-anchor="middle" dominant-baseline="central"><tspan font-style="italic">d</tspan> (nm)</text><rect x="521.9" y="100.5" width="152.1" height="75.7" fill="none" stroke="#000" stroke-width="0.9" /><line x1="521.9" y1="158.8" x2="524.9" y2="158.8" stroke="#000" stroke-width="0.8" /><line x1="674.0" y1="158.8" x2="671.0" y2="158.8" stroke="#000" stroke-width="0.8" /><text x="519.4" y="158.8" font-size="11" text-anchor="end" fill="#000" font-weight="normal" font-style="normal" dominant-baseline="central" >5</text><line x1="521.9" y1="137.9" x2="524.9" y2="137.9" stroke="#000" stroke-width="0.8" /><line x1="674.0" y1="137.9" x2="671.0" y2="137.9" stroke="#000" stroke-width="0.8" /><text x="519.4" y="137.9" font-size="11" text-anchor="end" fill="#000" font-weight="normal" font-style="normal" dominant-baseline="central" >10</text><line x1="521.9" y1="117.0" x2="524.9" y2="117.0" stroke="#000" stroke-width="0.8" /><line x1="674.0" y1="117.0" x2="671.0" y2="117.0" stroke="#000" stroke-width="0.8" /><text x="519.4" y="117.0" font-size="11" text-anchor="end" fill="#000" font-weight="normal" font-style="normal" dominant-baseline="central" >15</text><line x1="521.9" y1="169.2" x2="523.6" y2="169.2" stroke="#000" stroke-width="0.7" /><line x1="674.0" y1="169.2" x2="672.3" y2="169.2" stroke="#000" stroke-width="0.7" /><line x1="521.9" y1="148.3" x2="523.6" y2="148.3" stroke="#000" stroke-width="0.7" /><line x1="674.0" y1="148.3" x2="672.3" y2="148.3" stroke="#000" stroke-width="0.7" /><line x1="521.9" y1="127.4" x2="523.6" y2="127.4" stroke="#000" stroke-width="0.7" /><line x1="674.0" y1="127.4" x2="672.3" y2="127.4" stroke="#000" stroke-width="0.7" /><line x1="521.9" y1="106.5" x2="523.6" y2="106.5" stroke="#000" stroke-width="0.7" /><line x1="674.0" y1="106.5" x2="672.3" y2="106.5" stroke="#000" stroke-width="0.7" /><line x1="521.9" y1="176.2" x2="521.9" y2="173.2" stroke="#000" stroke-width="0.8" /><line x1="521.9" y1="100.5" x2="521.9" y2="103.5" stroke="#000" stroke-width="0.8" /><text x="521.9" y="182.6" font-size="11" text-anchor="middle" fill="#000" font-weight="normal" font-style="normal" dominant-baseline="central" >0</text><line x1="537.1" y1="176.2" x2="537.1" y2="174.5" stroke="#000" stroke-width="0.8" /><line x1="537.1" y1="100.5" x2="537.1" y2="102.2" stroke="#000" stroke-width="0.8" /><line x1="552.3" y1="176.2" x2="552.3" y2="173.2" stroke="#000" stroke-width="0.8" /><line x1="552.3" y1="100.5" x2="552.3" y2="103.5" stroke="#000" stroke-width="0.8" /><text x="552.3" y="182.6" font-size="11" text-anchor="middle" fill="#000" font-weight="normal" font-style="normal" dominant-baseline="central" >20</text><line x1="567.5" y1="176.2" x2="567.5" y2="174.5" stroke="#000" stroke-width="0.8" /><line x1="567.5" y1="100.5" x2="567.5" y2="102.2" stroke="#000" stroke-width="0.8" /><line x1="582.7" y1="176.2" x2="582.7" y2="173.2" stroke="#000" stroke-width="0.8" /><line x1="582.7" y1="100.5" x2="582.7" y2="103.5" stroke="#000" stroke-width="0.8" /><text x="582.7" y="182.6" font-size="11" text-anchor="middle" fill="#000" font-weight="normal" font-style="normal" dominant-baseline="central" >40</text><line x1="598.0" y1="176.2" x2="598.0" y2="174.5" stroke="#000" stroke-width="0.8" /><line x1="598.0" y1="100.5" x2="598.0" y2="102.2" stroke="#000" stroke-width="0.8" /><line x1="613.2" y1="176.2" x2="613.2" y2="173.2" stroke="#000" stroke-width="0.8" /><line x1="613.2" y1="100.5" x2="613.2" y2="103.5" stroke="#000" stroke-width="0.8" /><text x="613.2" y="182.6" font-size="11" text-anchor="middle" fill="#000" font-weight="normal" font-style="normal" dominant-baseline="central" >60</text><line x1="628.4" y1="176.2" x2="628.4" y2="174.5" stroke="#000" stroke-width="0.8" /><line x1="628.4" y1="100.5" x2="628.4" y2="102.2" stroke="#000" stroke-width="0.8" /><line x1="643.6" y1="176.2" x2="643.6" y2="173.2" stroke="#000" stroke-width="0.8" /><line x1="643.6" y1="100.5" x2="643.6" y2="103.5" stroke="#000" stroke-width="0.8" /><text x="643.6" y="182.6" font-size="11" text-anchor="middle" fill="#000" font-weight="normal" font-style="normal" dominant-baseline="central" >80</text><line x1="658.8" y1="176.2" x2="658.8" y2="174.5" stroke="#000" stroke-width="0.8" /><line x1="658.8" y1="100.5" x2="658.8" y2="102.2" stroke="#000" stroke-width="0.8" /><line x1="674.0" y1="176.2" x2="674.0" y2="173.2" stroke="#000" stroke-width="0.8" /><line x1="674.0" y1="100.5" x2="674.0" y2="103.5" stroke="#000" stroke-width="0.8" /><text x="674.0" y="182.6" font-size="11" text-anchor="middle" fill="#000" font-weight="normal" font-style="normal" dominant-baseline="central" >100</text><polyline points="537.1,169.2 552.3,158.8 558.4,154.2 563.0,148.3 567.5,146.3 582.7,130.8 598.0,107.8" fill="none" stroke="#000" stroke-width="0.9"/><circle cx="537.1" cy="169.2" r="3.1" fill="#000" stroke="none" stroke-width="1" /><circle cx="552.3" cy="158.8" r="3.1" fill="#000" stroke="none" stroke-width="1" /><circle cx="558.4" cy="154.2" r="3.1" fill="#000" stroke="none" stroke-width="1" /><circle cx="563.0" cy="148.3" r="3.1" fill="#000" stroke="none" stroke-width="1" /><circle cx="567.5" cy="146.3" r="3.1" fill="#000" stroke="none" stroke-width="1" /><circle cx="582.7" cy="130.8" r="3.1" fill="#000" stroke="none" stroke-width="1" /><circle cx="598.0" cy="107.8" r="3.1" fill="#000" stroke="none" stroke-width="1" /><polyline points="537.1,175.5 552.3,168.4 567.5,161.7 582.7,153.4 598.0,140.6 613.2,130.8" fill="none" stroke="#000" stroke-width="0.9"/><circle cx="537.1" cy="175.5" r="3.1" fill="#ff2a1a" stroke="none" stroke-width="1" /><circle cx="552.3" cy="168.4" r="3.1" fill="#ff2a1a" stroke="none" stroke-width="1" /><circle cx="567.5" cy="161.7" r="3.1" fill="#ff2a1a" stroke="none" stroke-width="1" /><circle cx="582.7" cy="153.4" r="3.1" fill="#ff2a1a" stroke="none" stroke-width="1" /><circle cx="598.0" cy="140.6" r="3.1" fill="#ff2a1a" stroke="none" stroke-width="1" /><circle cx="613.2" cy="130.8" r="3.1" fill="#ff2a1a" stroke="none" stroke-width="1" /><polyline points="552.3,174.7 567.5,170.5 613.2,155.9 628.4,147.5 643.6,143.8" fill="none" stroke="#000" stroke-width="0.9"/><circle cx="552.3" cy="174.7" r="3.1" fill="#1a22ff" stroke="none" stroke-width="1" /><circle cx="567.5" cy="170.5" r="3.1" fill="#1a22ff" stroke="none" stroke-width="1" /><circle cx="613.2" cy="155.9" r="3.1" fill="#1a22ff" stroke="none" stroke-width="1" /><circle cx="628.4" cy="147.5" r="3.1" fill="#1a22ff" stroke="none" stroke-width="1" /><circle cx="643.6" cy="143.8" r="3.1" fill="#1a22ff" stroke="none" stroke-width="1" /><text x="541.0" y="114.0" font-size="11" text-anchor="start" fill="#000" font-weight="normal" font-style="normal" dominant-baseline="central" >H(40)</text><line x1="569.0" y1="114.0" x2="583.3" y2="114.0" stroke="#000" stroke-width="0.9" /><line x1="583.3" y1="114.0" x2="583.3" y2="123.0" stroke="#000" stroke-width="0.9" /><path d="M581.0,123.5 L585.6,123.5 L583.3,127.0Z" fill="#000"/><text x="611.5" y="121.4" font-size="11" text-anchor="start" fill="#000" font-weight="normal" font-style="normal" dominant-baseline="central" >M(50)</text><line x1="596.7" y1="121.4" x2="610.5" y2="121.4" stroke="#000" stroke-width="0.9" /><line x1="596.7" y1="121.4" x2="596.7" y2="130.0" stroke="#000" stroke-width="0.9" /><path d="M594.4,130.6 L599.0,130.6 L596.7,134.0Z" fill="#000"/><text x="635.5" y="162.0" font-size="11" text-anchor="start" fill="#000" font-weight="normal" font-style="normal" dominant-baseline="central" >L(70)</text><line x1="628.8" y1="162.0" x2="634.5" y2="162.0" stroke="#000" stroke-width="0.9" /><line x1="628.8" y1="162.0" x2="628.8" y2="153.0" stroke="#000" stroke-width="0.9" /><path d="M626.5,152.9 L631.1,152.9 L628.8,149.5Z" fill="#000"/><text transform="translate(487.5,138.5) rotate(-90)" font-size="12" text-anchor="middle" dominant-baseline="central">Domain Size of</text><text transform="translate(499,138.5) rotate(-90)" font-size="12" text-anchor="middle" dominant-baseline="central">PEI Phase (nm)</text><text x="596.0" y="196.5" font-size="12" text-anchor="middle" fill="#000" font-weight="normal" font-style="normal" dominant-baseline="central" >PEI (wt%)</text><text x="2.4" y="221.0" font-size="16.5" text-anchor="start" fill="#000" font-weight="bold" font-style="normal" dominant-baseline="central" >d</text><text x="26.8" y="231.7" font-size="10.2" text-anchor="start" fill="#000" font-weight="normal" font-style="normal" dominant-baseline="central" >Carbamic Acid</text><rect x="28.0" y="239.5" width="82.0" height="30.0" fill="#fff" stroke="#000" stroke-width="1.8" /><path d="M31.0,240.5 L38.5,245.5 L38.5,249.5" stroke="#888" stroke-width="0.6" fill="none"/><text x="38.5" y="252.5" font-size="5.5" text-anchor="middle" fill="#ff2a8a" font-weight="bold" font-style="normal" dominant-baseline="central" >N</text><text x="31.5" y="256.5" font-size="5.5" text-anchor="middle" fill="#ff2a8a" font-weight="bold" font-style="normal" dominant-baseline="central" >H</text><text x="45.5" y="256.5" font-size="5.5" text-anchor="middle" fill="#ff2a8a" font-weight="bold" font-style="normal" dominant-baseline="central" >H</text><line x1="36.7" y1="254.0" x2="33.0" y2="255.5" stroke="#ff2a8a" stroke-width="0.6" /><line x1="40.3" y1="254.0" x2="44.0" y2="255.5" stroke="#ff2a8a" stroke-width="0.6" /><text x="60.0" y="246.4" font-size="5.5" text-anchor="middle" fill="#2a2ad0" font-weight="bold" font-style="normal" dominant-baseline="central" >O=C=O</text><line x1="49.5" y1="252.8" x2="72.0" y2="252.8" stroke="#333" stroke-width="0.8" /><path d="M74.5,252.8 L71,251.3 L71,254.3Z" fill="#333"/><path d="M80.3,240.5 L88,245.4 L88,249.5" stroke="#888" stroke-width="0.6" fill="none"/><text x="87.8" y="252.5" font-size="5.5" text-anchor="middle" fill="#ff2a8a" font-weight="bold" font-style="normal" dominant-baseline="central" >N</text><text x="81.0" y="256.0" font-size="5.5" text-anchor="middle" fill="#ff2a8a" font-weight="bold" font-style="normal" dominant-baseline="central" >H</text><line x1="86.0" y1="254.0" x2="82.5" y2="255.5" stroke="#ff2a8a" stroke-width="0.6" /><line x1="89.5" y1="254.0" x2="94.0" y2="256.0" stroke="#555" stroke-width="0.6" /><text x="95.3" y="257.0" font-size="5.5" text-anchor="middle" fill="#2a2ad0" font-weight="bold" font-style="normal" dominant-baseline="central" >C</text><line x1="97.0" y1="255.5" x2="100.5" y2="253.0" stroke="#555" stroke-width="0.6" /><text x="104.5" y="252.0" font-size="5.5" text-anchor="middle" fill="#2a2ad0" font-weight="bold" font-style="normal" dominant-baseline="central" >OH</text><line x1="94.8" y1="259.0" x2="94.8" y2="262.5" stroke="#2a2ad0" stroke-width="0.6" /><line x1="95.8" y1="259.0" x2="95.8" y2="262.5" stroke="#2a2ad0" stroke-width="0.6" /><text x="95.3" y="265.0" font-size="5.5" text-anchor="middle" fill="#2a2ad0" font-weight="bold" font-style="normal" dominant-baseline="central" >O</text><text x="164.9" y="209.3" font-size="10.3" text-anchor="start" fill="#ff33ee" font-weight="normal" font-style="normal" dominant-baseline="central" >Ammonium Carbamate</text><rect x="163.8" y="216.2" width="109.0" height="35.0" fill="#fff" stroke="#ff33ee" stroke-width="1.8" /><text x="166.5" y="236.7" font-size="6.5" text-anchor="start" fill="#000" font-weight="bold" font-style="normal" dominant-baseline="central" >2</text><path d="M174.5,224.5 L182,229.5 L182,233.5" stroke="#888" stroke-width="0.6" fill="none"/><text x="182.0" y="236.5" font-size="5.5" text-anchor="middle" fill="#ff2a8a" font-weight="bold" font-style="normal" dominant-baseline="central" >N</text><text x="175.0" y="240.5" font-size="5.5" text-anchor="middle" fill="#ff2a8a" font-weight="bold" font-style="normal" dominant-baseline="central" >H</text><text x="189.0" y="240.5" font-size="5.5" text-anchor="middle" fill="#ff2a8a" font-weight="bold" font-style="normal" dominant-baseline="central" >H</text><line x1="180.2" y1="238.0" x2="176.5" y2="239.5" stroke="#ff2a8a" stroke-width="0.6" /><line x1="183.8" y1="238.0" x2="187.5" y2="239.5" stroke="#ff2a8a" stroke-width="0.6" /><text x="205.0" y="230.2" font-size="5.5" text-anchor="middle" fill="#2a2ad0" font-weight="bold" font-style="normal" dominant-baseline="central" >O=C=O</text><line x1="194.2" y1="236.7" x2="215.5" y2="236.7" stroke="#333" stroke-width="0.8" /><path d="M218.5,236.7 L215,235.2 L215,238.2Z" fill="#333"/><path d="M222,222 L226.5,225 L230,229" stroke="#999" stroke-width="0.6" fill="none"/><text x="230.5" y="230.0" font-size="5.5" text-anchor="middle" fill="#ff2a8a" font-weight="bold" font-style="normal" dominant-baseline="central" >N</text><text x="223.5" y="233.5" font-size="5.5" text-anchor="middle" fill="#ff2a8a" font-weight="bold" font-style="normal" dominant-baseline="central" >H</text><line x1="228.5" y1="231.5" x2="225.5" y2="233.0" stroke="#ff2a8a" stroke-width="0.6" /><line x1="232.5" y1="231.8" x2="236.0" y2="233.0" stroke="#555" stroke-width="0.6" /><text x="237.5" y="233.8" font-size="5.5" text-anchor="middle" fill="#2a2ad0" font-weight="bold" font-style="normal" dominant-baseline="central" >C</text><line x1="239.5" y1="232.5" x2="242.5" y2="230.5" stroke="#555" stroke-width="0.6" /><text x="244.5" y="229.5" font-size="5.5" text-anchor="middle" fill="#2a2ad0" font-weight="bold" font-style="normal" dominant-baseline="central" >O</text><line x1="237.1" y1="236.0" x2="237.1" y2="239.5" stroke="#2a2ad0" stroke-width="0.6" /><line x1="238.0" y1="236.0" x2="238.0" y2="239.5" stroke="#2a2ad0" stroke-width="0.6" /><text x="238.0" y="242.5" font-size="5.5" text-anchor="middle" fill="#2a2ad0" font-weight="bold" font-style="normal" dominant-baseline="central" >O<tspan font-size="4.5" dy="-2">−</tspan></text><text x="255.0" y="238.5" font-size="5.5" text-anchor="middle" fill="#ff2a8a" font-weight="bold" font-style="normal" dominant-baseline="central" >N</text><text x="250.0" y="233.0" font-size="5.5" text-anchor="middle" fill="#ff2a8a" font-weight="bold" font-style="normal" dominant-baseline="central" >H</text><text x="250.0" y="240.5" font-size="5.5" text-anchor="middle" fill="#ff2a8a" font-weight="bold" font-style="normal" dominant-baseline="central" >H</text><text x="255.5" y="246.5" font-size="5.5" text-anchor="middle" fill="#ff2a8a" font-weight="bold" font-style="normal" dominant-baseline="central" >H</text><text x="259.5" y="233.5" font-size="6" text-anchor="middle" fill="#333" font-weight="normal" font-style="normal" dominant-baseline="central" >+</text><path d="M257.5,237 L262,234 L266,230" stroke="#999" stroke-width="0.6" fill="none"/><line x1="90.5" y1="372.1" x2="182.8" y2="372.1" stroke="#000" stroke-width="0.9" /><line x1="90.8" y1="372.1" x2="90.8" y2="369.8" stroke="#000" stroke-width="0.8" /><line x1="100.0" y1="372.1" x2="100.0" y2="370.8" stroke="#000" stroke-width="0.7" /><text x="90.8" y="377.4" font-size="7" text-anchor="middle" fill="#000" font-weight="normal" font-style="normal" dominant-baseline="central" >1800</text><line x1="109.2" y1="372.1" x2="109.2" y2="369.8" stroke="#000" stroke-width="0.8" /><line x1="118.4" y1="372.1" x2="118.4" y2="370.8" stroke="#000" stroke-width="0.7" /><text x="109.2" y="377.4" font-size="7" text-anchor="middle" fill="#000" font-weight="normal" font-style="normal" dominant-baseline="central" >1700</text><line x1="127.6" y1="372.1" x2="127.6" y2="369.8" stroke="#000" stroke-width="0.8" /><line x1="136.8" y1="372.1" x2="136.8" y2="370.8" stroke="#000" stroke-width="0.7" /><text x="127.6" y="377.4" font-size="7" text-anchor="middle" fill="#000" font-weight="normal" font-style="normal" dominant-baseline="central" >1600</text><line x1="146.0" y1="372.1" x2="146.0" y2="369.8" stroke="#000" stroke-width="0.8" /><line x1="155.2" y1="372.1" x2="155.2" y2="370.8" stroke="#000" stroke-width="0.7" /><text x="146.0" y="377.4" font-size="7" text-anchor="middle" fill="#000" font-weight="normal" font-style="normal" dominant-baseline="central" >1500</text><line x1="164.4" y1="372.1" x2="164.4" y2="369.8" stroke="#000" stroke-width="0.8" /><line x1="173.6" y1="372.1" x2="173.6" y2="370.8" stroke="#000" stroke-width="0.7" /><text x="164.4" y="377.4" font-size="7" text-anchor="middle" fill="#000" font-weight="normal" font-style="normal" dominant-baseline="central" >1400</text><line x1="182.8" y1="372.1" x2="182.8" y2="369.8" stroke="#000" stroke-width="0.8" /><text x="182.8" y="377.4" font-size="7" text-anchor="middle" fill="#000" font-weight="normal" font-style="normal" dominant-baseline="central" >1300</text><text x="137.9" y="387.3" font-size="7.5" text-anchor="middle" dominant-baseline="central">Wavenumber (cm<tspan font-size="5.5" dy="-3">−1</tspan><tspan dy="3">)</tspan></text><text transform="translate(84.2,318.2) rotate(-90)" font-size="7.1" text-anchor="middle" dominant-baseline="central">Absorbance</text><line x1="112.9" y1="282.5" x2="112.9" y2="352.5" stroke="#333" stroke-width="1.6" stroke-dasharray="4,2.5"/><line x1="121.9" y1="263.0" x2="121.9" y2="353.5" stroke="#ff44ee" stroke-width="1.6" stroke-dasharray="4,2.5"/><line x1="132.4" y1="256.0" x2="132.4" y2="344.5" stroke="#ff44ee" stroke-width="1.6" stroke-dasharray="4,2.5"/><line x1="151.1" y1="249.0" x2="151.1" y2="341.0" stroke="#ff44ee" stroke-width="1.6" stroke-dasharray="4,2.5"/><line x1="162.7" y1="264.0" x2="162.7" y2="348.0" stroke="#ff44ee" stroke-width="1.6" stroke-dasharray="4,2.5"/><line x1="130.3" y1="345.5" x2="130.3" y2="360.7" stroke="#ff3344" stroke-width="1.3" stroke-dasharray="0.9,0.9"/><line x1="152.6" y1="339.0" x2="152.6" y2="360.7" stroke="#ff3344" stroke-width="1.3" stroke-dasharray="0.9,0.9"/><text x="130.4" y="367.0" font-size="7.6" text-anchor="middle" fill="#ff3344" font-weight="normal" font-style="normal" dominant-baseline="central" >1586</text><text x="152.9" y="367.0" font-size="7.6" text-anchor="middle" fill="#ff3344" font-weight="normal" font-style="normal" dominant-baseline="central" >1462</text><text x="119.6" y="258.5" font-size="7.6" text-anchor="middle" fill="#ff44ee" font-weight="normal" font-style="normal" dominant-baseline="central" >1630</text><text x="135.2" y="251.0" font-size="7.6" text-anchor="middle" fill="#ff44ee" font-weight="normal" font-style="normal" dominant-baseline="central" >1573</text><text x="151.0" y="244.0" font-size="7.6" text-anchor="middle" fill="#ff44ee" font-weight="normal" font-style="normal" dominant-baseline="central" >1480</text><text x="162.2" y="259.0" font-size="7.6" text-anchor="middle" fill="#ff44ee" font-weight="normal" font-style="normal" dominant-baseline="central" >1412</text><text x="111.0" y="275.6" font-size="7.6" text-anchor="middle" fill="#222" font-weight="normal" font-style="normal" dominant-baseline="central" >1679</text><path d="M90.50,367.50 C94.97,367.40 99.43,367.43 103.90,367.20 C105.60,367.11 107.30,364.87 109.00,363.50 C110.93,361.94 112.87,359.16 114.80,358.20 C116.77,357.23 118.73,357.19 120.70,356.20 C123.87,354.61 127.03,345.30 130.20,345.30 C134.00,345.30 137.80,356.40 141.60,356.40 C145.20,356.40 148.80,341.30 152.40,341.30 C154.83,341.30 157.27,352.80 159.70,352.80 C160.90,352.80 162.10,348.90 163.30,348.90 C166.90,348.90 170.50,353.60 174.10,353.60 C176.77,353.60 179.43,350.20 182.10,348.50" stroke="#f2407a" stroke-width="1.3" fill="none" stroke-linejoin="round"/><path d="M90.50,366.20 C94.63,365.37 98.77,365.33 102.90,363.70 C104.77,362.96 106.63,357.81 108.50,355.00 C110.60,351.84 112.70,348.02 114.80,345.80 C116.77,343.72 118.73,342.73 120.70,340.90 C124.53,337.34 128.37,328.40 132.20,328.40 C135.10,328.40 138.00,337.00 140.90,337.00 C144.27,337.00 147.63,320.30 151.00,320.30 C153.67,320.30 156.33,334.80 159.00,334.80 C160.27,334.80 161.53,330.40 162.80,330.40 C166.10,330.40 169.40,341.30 172.70,341.30 C176.07,341.30 179.43,335.97 182.80,333.30" stroke="#ff44e4" stroke-width="1.3" fill="none" stroke-linejoin="round"/><path d="M90.50,358.20 C93.63,357.70 96.77,357.60 99.90,356.70 C102.53,355.95 105.17,351.43 107.80,347.80 C109.80,345.04 111.80,338.90 113.80,337.40 C115.13,336.40 116.47,336.25 117.80,335.40 C120.10,333.94 122.40,331.43 124.70,328.90 C127.20,326.15 129.70,318.90 132.20,318.90 C135.10,318.90 138.00,328.70 140.90,328.70 C144.27,328.70 147.63,311.70 151.00,311.70 C153.90,311.70 156.80,326.10 159.70,326.10 C160.73,326.10 161.77,321.00 162.80,321.00 C166.57,321.00 170.33,333.30 174.10,333.30 C177.00,333.30 179.90,327.57 182.80,324.70" stroke="#9b30ff" stroke-width="1.3" fill="none" stroke-linejoin="round"/><path d="M90.50,349.80 C93.63,349.30 96.77,349.22 99.90,348.30 C102.53,347.53 105.17,341.84 107.80,337.40 C109.47,334.59 111.13,327.87 112.80,327.00 C114.47,326.13 116.13,326.18 117.80,325.50 C120.43,324.43 123.07,322.43 125.70,320.00 C127.87,318.00 130.03,311.40 132.20,311.40 C135.10,311.40 138.00,318.90 140.90,318.90 C144.27,318.90 147.63,302.30 151.00,302.30 C153.90,302.30 156.80,316.70 159.70,316.70 C160.57,316.70 161.43,310.20 162.30,310.20 C166.00,310.20 169.70,324.70 173.40,324.70 C176.53,324.70 179.67,318.43 182.80,315.30" stroke="#2828c0" stroke-width="1.3" fill="none" stroke-linejoin="round"/><path d="M90.50,342.30 C93.67,341.80 96.83,341.73 100.00,340.80 C102.50,340.07 105.00,334.32 107.50,330.00 C109.17,327.12 110.83,320.38 112.50,319.50 C114.17,318.62 115.83,318.71 117.50,318.00 C120.00,316.94 122.50,314.44 125.00,312.00 C127.40,309.66 129.80,303.00 132.20,303.00 C135.33,303.00 138.47,310.20 141.60,310.20 C144.73,310.20 147.87,294.30 151.00,294.30 C153.90,294.30 156.80,308.10 159.70,308.10 C160.57,308.10 161.43,303.70 162.30,303.70 C166.23,303.70 170.17,316.00 174.10,316.00 C177.00,316.00 179.90,309.73 182.80,306.60" stroke="#3a8a88" stroke-width="1.3" fill="none" stroke-linejoin="round"/><path d="M90.50,334.40 C93.67,333.93 96.83,333.88 100.00,333.00 C102.50,332.31 105.00,326.59 107.50,322.00 C109.20,318.88 110.90,310.92 112.60,310.00 C114.23,309.12 115.87,309.20 117.50,308.50 C120.00,307.43 122.50,304.89 125.00,302.50 C127.27,300.33 129.53,294.50 131.80,294.50 C135.10,294.50 138.40,302.90 141.70,302.90 C144.87,302.90 148.03,285.30 151.20,285.30 C153.90,285.30 156.60,299.00 159.30,299.00 C160.33,299.00 161.37,293.70 162.40,293.70 C165.97,293.70 169.53,307.50 173.10,307.50 C176.17,307.50 179.23,301.37 182.30,298.30" stroke="#3a9a20" stroke-width="1.3" fill="none" stroke-linejoin="round"/><path d="M90.40,325.10 C94.60,324.40 98.80,324.25 103.00,323.00 C106.00,322.11 109.00,317.46 112.00,314.00 C115.17,310.35 118.33,305.67 121.50,301.00 C124.93,295.94 128.37,284.50 131.80,284.50 C135.37,284.50 138.93,294.50 142.50,294.50 C145.40,294.50 148.30,279.90 151.20,279.90 C154.07,279.90 156.93,292.00 159.80,292.00 C160.87,292.00 161.93,289.00 163.00,289.00 C166.63,289.00 170.27,296.00 173.90,296.00 C176.70,296.00 179.50,290.87 182.30,288.30" stroke="#c4c4c4" stroke-width="1.3" fill="none" stroke-linejoin="round"/><path d="M90.40,316.70 C94.60,315.97 98.80,315.80 103.00,314.50 C106.00,313.57 109.00,308.96 112.00,305.50 C115.17,301.85 118.33,297.06 121.50,292.50 C124.93,287.55 128.37,276.80 131.80,276.80 C135.37,276.80 138.93,287.60 142.50,287.60 C145.40,287.60 148.30,273.00 151.20,273.00 C154.07,273.00 156.93,285.00 159.80,285.00 C160.87,285.00 161.93,282.00 163.00,282.00 C166.63,282.00 170.27,289.50 173.90,289.50 C176.70,289.50 179.50,284.10 182.30,281.40" stroke="#a0a0a0" stroke-width="1.3" fill="none" stroke-linejoin="round"/><path d="M90.40,308.20 C94.60,307.47 98.80,307.30 103.00,306.00 C106.00,305.07 109.00,300.35 112.00,297.00 C115.17,293.47 118.33,289.29 121.50,285.00 C124.93,280.35 128.37,269.90 131.80,269.90 C135.37,269.90 138.93,281.40 142.50,281.40 C145.40,281.40 148.30,265.30 151.20,265.30 C154.17,265.30 157.13,277.60 160.10,277.60 C161.13,277.60 162.17,275.30 163.20,275.30 C166.77,275.30 170.33,283.00 173.90,283.00 C176.70,283.00 179.50,275.80 182.30,272.20" stroke="#6e6e6e" stroke-width="1.3" fill="none" stroke-linejoin="round"/><path d="M90.40,298.70 C94.73,297.80 99.07,297.52 103.40,296.00 C106.47,294.92 109.53,290.53 112.60,287.60 C115.67,284.67 118.73,282.17 121.80,278.40 C125.13,274.30 128.47,262.30 131.80,262.30 C135.37,262.30 138.93,273.80 142.50,273.80 C145.40,273.80 148.30,256.90 151.20,256.90 C154.17,256.90 157.13,270.70 160.10,270.70 C161.13,270.70 162.17,267.60 163.20,267.60 C166.77,267.60 170.33,276.10 173.90,276.10 C176.70,276.10 179.50,269.97 182.30,266.90" stroke="#1e1e1e" stroke-width="1.3" fill="none" stroke-linejoin="round"/><text x="211.2" y="264.3" font-size="7.6" text-anchor="end" fill="#111" font-weight="bold" font-style="normal" dominant-baseline="central" >180 min</text><text x="211.2" y="273.4" font-size="7.6" text-anchor="end" fill="#555" font-weight="bold" font-style="normal" dominant-baseline="central" >120 min</text><text x="211.2" y="282.4" font-size="7.6" text-anchor="end" fill="#888" font-weight="bold" font-style="normal" dominant-baseline="central" >60 min</text><text x="211.2" y="291.3" font-size="7.6" text-anchor="end" fill="#b0b0b0" font-weight="bold" font-style="normal" dominant-baseline="central" >30 min</text><text x="211.2" y="301.2" font-size="7.6" text-anchor="end" fill="#3f8a25" font-weight="bold" font-style="normal" dominant-baseline="central" >180 min</text><text x="211.2" y="311.1" font-size="7.6" text-anchor="end" fill="#3a6aa8" font-weight="bold" font-style="normal" dominant-baseline="central" >120 min</text><text x="211.2" y="320.9" font-size="7.6" text-anchor="end" fill="#2424b0" font-weight="bold" font-style="normal" dominant-baseline="central" >60 min</text><text x="211.2" y="330.4" font-size="7.6" text-anchor="end" fill="#7a2ee8" font-weight="bold" font-style="normal" dominant-baseline="central" >30 min</text><text x="211.2" y="340.3" font-size="7.6" text-anchor="end" fill="#ff44dd" font-weight="bold" font-style="normal" dominant-baseline="central" >10 min</text><defs><linearGradient id="n2g" x1="0" y1="0" x2="0" y2="1"><stop offset="0" stop-color="#111"/><stop offset="1" stop-color="#d0d0d0"/></linearGradient><linearGradient id="co2g" x1="0" y1="0" x2="0" y2="1"><stop offset="0" stop-color="#3a7a2a"/><stop offset="0.3" stop-color="#3a6a2a"/><stop offset="0.55" stop-color="#9a40b0"/><stop offset="0.8" stop-color="#ff33ee"/><stop offset="1" stop-color="#ff33ee"/></linearGradient></defs><path d="M217.1,255 L222.6,260.5 L219.6,260.5 L219.6,299.2 L214.6,299.2 L214.6,260.5 L211.6,260.5Z" fill="url(#n2g)"/><path d="M217.1,300.6 L222.6,306.2 L219.6,306.2 L219.6,345.2 L214.6,345.2 L214.6,306.2 L211.6,306.2Z" fill="url(#co2g)"/><text x="231.3" y="280.3" font-size="12.8" font-weight="bold" dominant-baseline="central">N<tspan font-size="9" dy="3.5">2</tspan><tspan dy="-3.5"> Flow</tspan></text><text x="226.2" y="327.6" font-size="12.9" font-weight="bold" fill="#ff33dd" dominant-baseline="central">CO<tspan font-size="9" dy="3.5">2</tspan><tspan dy="-3.5"> Flow</tspan></text><text x="332.8" y="219.2" font-size="17.5" text-anchor="start" fill="#000" font-weight="bold" font-style="normal" dominant-baseline="central" >e</text><text x="364.7" y="234.2" font-size="16.8" dominant-baseline="central" textLength="116.9" lengthAdjust="spacingAndGlyphs"><tspan>From </tspan><tspan fill="#f03c7a">N</tspan><tspan fill="#f03c7a" font-size="11.5" dy="4">2</tspan><tspan dy="-4"> to </tspan><tspan fill="#3a78b0">CO</tspan><tspan fill="#3a78b0" font-size="11.5" dy="4">2</tspan></text><line x1="364.7" y1="242.3" x2="398.0" y2="242.3" stroke="#444" stroke-width="1" /><line x1="398.0" y1="242.3" x2="424.0" y2="242.3" stroke="#f03c7a" stroke-width="1" /><line x1="424.0" y1="242.3" x2="449.0" y2="242.3" stroke="#444" stroke-width="1" /><line x1="449.0" y1="242.3" x2="481.6" y2="242.3" stroke="#3a78b0" stroke-width="1" /><text x="362.8" y="256.5" font-size="11.15" text-anchor="start" fill="#000" font-weight="normal" font-style="normal" dominant-baseline="central" >Synchronous Correlation</text><line x1="362.8" y1="261.8" x2="486.0" y2="261.8" stroke="#333" stroke-width="0.9" /><text x="531.7" y="257.3" font-size="11.2" text-anchor="start" fill="#000" font-weight="normal" font-style="normal" dominant-baseline="central" >Asynchronous Correlation</text><line x1="531.7" y1="262.0" x2="660.9" y2="262.0" stroke="#333" stroke-width="0.9" /><defs><linearGradient id="cbar" x1="0" y1="0" x2="0" y2="1"><stop offset="0" stop-color="#ff1a00"/><stop offset="0.12" stop-color="#f0a030"/><stop offset="0.33" stop-color="#f2f22a"/><stop offset="0.48" stop-color="#b0f030"/><stop offset="0.6" stop-color="#30e020"/><stop offset="0.68" stop-color="#60f0f0"/><stop offset="0.78" stop-color="#40a8ff"/><stop offset="0.86" stop-color="#2010ff"/><stop offset="0.94" stop-color="#300090"/><stop offset="1" stop-color="#100010"/></linearGradient><clipPath id="cps"><rect x="394.3" y="278.2" width="84.6" height="85.3"/></clipPath><clipPath id="cpa"><rect x="562.7" y="277.6" width="84.6" height="85.8"/></clipPath><filter id="bl1" x="-10%" y="-10%" width="120%" height="120%"><feGaussianBlur stdDeviation="0.9"/></filter><filter id="bl2" x="-10%" y="-10%" width="120%" height="120%"><feGaussianBlur stdDeviation="0.9"/></filter></defs><g clip-path="url(#cps)"><g filter="url(#bl1)"><rect x="391.3" y="275.2" width="91" height="91" fill="rgb(37, 2, 77)"/><path fill="#27034b" d="M394.3 278.2h2.85v2.85h-2.85zM394.3 280.7h2.85v2.85h-2.85zM394.3 283.2h2.85v2.85h-2.85zM396.8 278.2h2.85v2.85h-2.85zM396.8 280.7h2.85v2.85h-2.85zM396.8 283.2h2.85v2.85h-2.85zM399.3 278.2h2.85v2.85h-2.85zM399.3 280.7h2.85v2.85h-2.85zM399.3 283.2h2.85v2.85h-2.85z"/><path fill="#270351" d="M394.3 285.7h2.85v2.85h-2.85zM396.8 285.7h2.85v2.85h-2.85zM399.3 285.7h2.85v2.85h-2.85zM401.8 278.2h2.85v2.85h-2.85zM401.8 280.7h2.85v2.85h-2.85zM401.8 283.2h2.85v2.85h-2.85zM401.8 285.7h2.85v2.85h-2.85z"/><path fill="#2d035d" d="M394.3 288.2h2.85v2.85h-2.85zM396.8 288.2h2.85v2.85h-2.85zM399.3 288.2h2.85v2.85h-2.85zM401.8 288.2h2.85v2.85h-2.85zM404.3 278.2h2.85v2.85h-2.85zM404.3 280.7h2.85v2.85h-2.85zM404.3 283.2h2.85v2.85h-2.85zM404.3 285.7h2.85v2.85h-2.85z"/><path fill="#330987" d="M394.3 290.7h2.85v2.85h-2.85zM396.8 290.7h2.85v2.85h-2.85zM399.3 290.7h2.85v2.85h-2.85zM406.8 278.2h2.85v2.85h-2.85zM406.8 280.7h2.85v2.85h-2.85zM406.8 283.2h2.85v2.85h-2.85z"/><path fill="#3915b7" d="M394.3 293.2h2.85v2.85h-2.85zM396.8 293.2h2.85v2.85h-2.85zM399.3 293.2h2.85v2.85h-2.85zM401.8 355.7h2.85v2.85h-2.85zM409.3 278.2h2.85v2.85h-2.85zM409.3 280.7h2.85v2.85h-2.85zM409.3 283.2h2.85v2.85h-2.85zM471.8 285.7h2.85v2.85h-2.85z"/><path fill="#3f15cf" d="M394.3 295.7h2.85v2.85h-2.85zM394.3 298.2h2.85v2.85h-2.85zM394.3 308.2h2.85v2.85h-2.85zM394.3 335.7h2.85v2.85h-2.85zM394.3 338.2h2.85v2.85h-2.85zM394.3 358.2h2.85v2.85h-2.85zM394.3 360.7h2.85v2.85h-2.85zM396.8 295.7h2.85v2.85h-2.85zM396.8 298.2h2.85v2.85h-2.85zM396.8 308.2h2.85v2.85h-2.85zM396.8 335.7h2.85v2.85h-2.85zM396.8 338.2h2.85v2.85h-2.85zM396.8 358.2h2.85v2.85h-2.85zM396.8 360.7h2.85v2.85h-2.85zM399.3 295.7h2.85v2.85h-2.85zM399.3 298.2h2.85v2.85h-2.85zM399.3 308.2h2.85v2.85h-2.85zM399.3 335.7h2.85v2.85h-2.85zM399.3 338.2h2.85v2.85h-2.85zM399.3 358.2h2.85v2.85h-2.85zM399.3 360.7h2.85v2.85h-2.85zM401.8 300.7h2.85v2.85h-2.85zM401.8 350.7h2.85v2.85h-2.85zM401.8 358.2h2.85v2.85h-2.85zM411.8 278.2h2.85v2.85h-2.85zM411.8 280.7h2.85v2.85h-2.85zM411.8 283.2h2.85v2.85h-2.85zM414.3 278.2h2.85v2.85h-2.85zM414.3 280.7h2.85v2.85h-2.85zM414.3 283.2h2.85v2.85h-2.85zM416.8 285.7h2.85v2.85h-2.85zM424.3 278.2h2.85v2.85h-2.85zM424.3 280.7h2.85v2.85h-2.85zM424.3 283.2h2.85v2.85h-2.85zM451.8 278.2h2.85v2.85h-2.85zM451.8 280.7h2.85v2.85h-2.85zM451.8 283.2h2.85v2.85h-2.85zM454.3 278.2h2.85v2.85h-2.85zM454.3 280.7h2.85v2.85h-2.85zM454.3 283.2h2.85v2.85h-2.85zM466.8 285.7h2.85v2.85h-2.85zM474.3 278.2h2.85v2.85h-2.85zM474.3 280.7h2.85v2.85h-2.85zM474.3 283.2h2.85v2.85h-2.85zM474.3 285.7h2.85v2.85h-2.85zM476.8 278.2h2.85v2.85h-2.85zM476.8 280.7h2.85v2.85h-2.85zM476.8 283.2h2.85v2.85h-2.85z"/><path fill="#3f15c9" d="M394.3 300.7h2.85v2.85h-2.85zM396.8 300.7h2.85v2.85h-2.85zM399.3 300.7h2.85v2.85h-2.85zM416.8 278.2h2.85v2.85h-2.85zM416.8 280.7h2.85v2.85h-2.85zM416.8 283.2h2.85v2.85h-2.85z"/><path fill="#3915bd" d="M394.3 303.2h2.85v2.85h-2.85zM396.8 303.2h2.85v2.85h-2.85zM399.3 303.2h2.85v2.85h-2.85zM401.8 293.2h2.85v2.85h-2.85zM409.3 285.7h2.85v2.85h-2.85zM419.3 278.2h2.85v2.85h-2.85zM419.3 280.7h2.85v2.85h-2.85zM419.3 283.2h2.85v2.85h-2.85z"/><path fill="#390fab" d="M394.3 305.7h2.85v2.85h-2.85zM394.3 353.2h2.85v2.85h-2.85zM396.8 305.7h2.85v2.85h-2.85zM396.8 353.2h2.85v2.85h-2.85zM399.3 305.7h2.85v2.85h-2.85zM399.3 353.2h2.85v2.85h-2.85zM421.8 278.2h2.85v2.85h-2.85zM421.8 280.7h2.85v2.85h-2.85zM421.8 283.2h2.85v2.85h-2.85zM469.3 278.2h2.85v2.85h-2.85zM469.3 280.7h2.85v2.85h-2.85zM469.3 283.2h2.85v2.85h-2.85z"/><path fill="#3f1be7" d="M394.3 310.7h2.85v2.85h-2.85zM394.3 313.2h2.85v2.85h-2.85zM394.3 315.7h2.85v2.85h-2.85zM394.3 318.2h2.85v2.85h-2.85zM394.3 320.7h2.85v2.85h-2.85zM396.8 310.7h2.85v2.85h-2.85zM396.8 313.2h2.85v2.85h-2.85zM396.8 315.7h2.85v2.85h-2.85zM396.8 318.2h2.85v2.85h-2.85zM396.8 320.7h2.85v2.85h-2.85zM399.3 310.7h2.85v2.85h-2.85zM399.3 313.2h2.85v2.85h-2.85zM399.3 315.7h2.85v2.85h-2.85zM399.3 318.2h2.85v2.85h-2.85zM399.3 320.7h2.85v2.85h-2.85zM404.3 303.2h2.85v2.85h-2.85zM419.3 288.2h2.85v2.85h-2.85zM426.8 278.2h2.85v2.85h-2.85zM426.8 280.7h2.85v2.85h-2.85zM426.8 283.2h2.85v2.85h-2.85zM429.3 278.2h2.85v2.85h-2.85zM429.3 280.7h2.85v2.85h-2.85zM429.3 283.2h2.85v2.85h-2.85zM431.8 278.2h2.85v2.85h-2.85zM431.8 280.7h2.85v2.85h-2.85zM431.8 283.2h2.85v2.85h-2.85zM434.3 278.2h2.85v2.85h-2.85zM434.3 280.7h2.85v2.85h-2.85zM434.3 283.2h2.85v2.85h-2.85zM436.8 278.2h2.85v2.85h-2.85zM436.8 280.7h2.85v2.85h-2.85zM436.8 283.2h2.85v2.85h-2.85z"/><path fill="#3f1bed" d="M394.3 323.2h2.85v2.85h-2.85zM394.3 345.7h2.85v2.85h-2.85zM396.8 323.2h2.85v2.85h-2.85zM396.8 345.7h2.85v2.85h-2.85zM399.3 323.2h2.85v2.85h-2.85zM399.3 345.7h2.85v2.85h-2.85zM401.8 310.7h2.85v2.85h-2.85zM426.8 285.7h2.85v2.85h-2.85zM439.3 278.2h2.85v2.85h-2.85zM439.3 280.7h2.85v2.85h-2.85zM439.3 283.2h2.85v2.85h-2.85zM461.8 278.2h2.85v2.85h-2.85zM461.8 280.7h2.85v2.85h-2.85zM461.8 283.2h2.85v2.85h-2.85z"/><path fill="#3f21ed" d="M394.3 325.7h2.85v2.85h-2.85zM396.8 325.7h2.85v2.85h-2.85zM399.3 325.7h2.85v2.85h-2.85zM401.8 313.2h2.85v2.85h-2.85zM401.8 315.7h2.85v2.85h-2.85zM401.8 318.2h2.85v2.85h-2.85zM401.8 320.7h2.85v2.85h-2.85zM401.8 323.2h2.85v2.85h-2.85zM401.8 345.7h2.85v2.85h-2.85zM429.3 285.7h2.85v2.85h-2.85zM431.8 285.7h2.85v2.85h-2.85zM434.3 285.7h2.85v2.85h-2.85zM436.8 285.7h2.85v2.85h-2.85zM439.3 285.7h2.85v2.85h-2.85zM441.8 278.2h2.85v2.85h-2.85zM441.8 280.7h2.85v2.85h-2.85zM441.8 283.2h2.85v2.85h-2.85zM461.8 285.7h2.85v2.85h-2.85z"/><path fill="#3f2ded" d="M394.3 328.2h2.85v2.85h-2.85zM394.3 333.2h2.85v2.85h-2.85zM394.3 340.7h2.85v2.85h-2.85zM396.8 328.2h2.85v2.85h-2.85zM396.8 333.2h2.85v2.85h-2.85zM396.8 340.7h2.85v2.85h-2.85zM399.3 328.2h2.85v2.85h-2.85zM399.3 333.2h2.85v2.85h-2.85zM399.3 340.7h2.85v2.85h-2.85zM404.3 300.7h2.85v2.85h-2.85zM404.3 350.7h2.85v2.85h-2.85zM416.8 288.2h2.85v2.85h-2.85zM444.3 278.2h2.85v2.85h-2.85zM444.3 280.7h2.85v2.85h-2.85zM444.3 283.2h2.85v2.85h-2.85zM449.3 278.2h2.85v2.85h-2.85zM449.3 280.7h2.85v2.85h-2.85zM449.3 283.2h2.85v2.85h-2.85zM456.8 278.2h2.85v2.85h-2.85zM456.8 280.7h2.85v2.85h-2.85zM456.8 283.2h2.85v2.85h-2.85zM466.8 288.2h2.85v2.85h-2.85z"/><path fill="#3f69f9" d="M394.3 330.7h2.85v2.85h-2.85zM396.8 330.7h2.85v2.85h-2.85zM399.3 330.7h2.85v2.85h-2.85zM446.8 278.2h2.85v2.85h-2.85zM446.8 280.7h2.85v2.85h-2.85zM446.8 283.2h2.85v2.85h-2.85z"/><path fill="#3f3ff3" d="M394.3 343.2h2.85v2.85h-2.85zM396.8 343.2h2.85v2.85h-2.85zM399.3 343.2h2.85v2.85h-2.85zM459.3 278.2h2.85v2.85h-2.85zM459.3 280.7h2.85v2.85h-2.85zM459.3 283.2h2.85v2.85h-2.85z"/><path fill="#3f1bdb" d="M394.3 348.2h2.85v2.85h-2.85zM396.8 348.2h2.85v2.85h-2.85zM399.3 348.2h2.85v2.85h-2.85zM464.3 278.2h2.85v2.85h-2.85zM464.3 280.7h2.85v2.85h-2.85zM464.3 283.2h2.85v2.85h-2.85z"/><path fill="#3915c9" d="M394.3 350.7h2.85v2.85h-2.85zM396.8 350.7h2.85v2.85h-2.85zM399.3 350.7h2.85v2.85h-2.85zM466.8 278.2h2.85v2.85h-2.85zM466.8 280.7h2.85v2.85h-2.85zM466.8 283.2h2.85v2.85h-2.85z"/><path fill="#390fb1" d="M394.3 355.7h2.85v2.85h-2.85zM396.8 355.7h2.85v2.85h-2.85zM399.3 355.7h2.85v2.85h-2.85zM401.8 305.7h2.85v2.85h-2.85zM401.8 353.2h2.85v2.85h-2.85zM421.8 285.7h2.85v2.85h-2.85zM469.3 285.7h2.85v2.85h-2.85zM471.8 278.2h2.85v2.85h-2.85zM471.8 280.7h2.85v2.85h-2.85zM471.8 283.2h2.85v2.85h-2.85z"/><path fill="#33098d" d="M401.8 290.7h2.85v2.85h-2.85zM406.8 285.7h2.85v2.85h-2.85z"/><path fill="#3f15d5" d="M401.8 295.7h2.85v2.85h-2.85zM401.8 308.2h2.85v2.85h-2.85zM401.8 335.7h2.85v2.85h-2.85zM401.8 338.2h2.85v2.85h-2.85zM401.8 360.7h2.85v2.85h-2.85zM404.3 305.7h2.85v2.85h-2.85zM404.3 353.2h2.85v2.85h-2.85zM411.8 285.7h2.85v2.85h-2.85zM421.8 288.2h2.85v2.85h-2.85zM424.3 285.7h2.85v2.85h-2.85zM451.8 285.7h2.85v2.85h-2.85zM454.3 285.7h2.85v2.85h-2.85zM469.3 288.2h2.85v2.85h-2.85zM476.8 285.7h2.85v2.85h-2.85z"/><path fill="#3f1bd5" d="M401.8 298.2h2.85v2.85h-2.85zM414.3 285.7h2.85v2.85h-2.85z"/><path fill="#3915c3" d="M401.8 303.2h2.85v2.85h-2.85zM419.3 285.7h2.85v2.85h-2.85z"/><path fill="#3f27ed" d="M401.8 325.7h2.85v2.85h-2.85zM441.8 285.7h2.85v2.85h-2.85z"/><path fill="#3f33ed" d="M401.8 328.2h2.85v2.85h-2.85zM401.8 333.2h2.85v2.85h-2.85zM401.8 340.7h2.85v2.85h-2.85zM404.3 295.7h2.85v2.85h-2.85zM404.3 298.2h2.85v2.85h-2.85zM404.3 308.2h2.85v2.85h-2.85zM404.3 335.7h2.85v2.85h-2.85zM404.3 338.2h2.85v2.85h-2.85zM404.3 358.2h2.85v2.85h-2.85zM404.3 360.7h2.85v2.85h-2.85zM411.8 288.2h2.85v2.85h-2.85zM414.3 288.2h2.85v2.85h-2.85zM424.3 288.2h2.85v2.85h-2.85zM444.3 285.7h2.85v2.85h-2.85zM449.3 285.7h2.85v2.85h-2.85zM451.8 288.2h2.85v2.85h-2.85zM454.3 288.2h2.85v2.85h-2.85zM456.8 285.7h2.85v2.85h-2.85zM474.3 288.2h2.85v2.85h-2.85zM476.8 288.2h2.85v2.85h-2.85z"/><path fill="#3f6ff9" d="M401.8 330.7h2.85v2.85h-2.85zM404.3 333.2h2.85v2.85h-2.85zM446.8 285.7h2.85v2.85h-2.85zM449.3 288.2h2.85v2.85h-2.85z"/><path fill="#3f45f3" d="M401.8 343.2h2.85v2.85h-2.85zM404.3 348.2h2.85v2.85h-2.85zM459.3 285.7h2.85v2.85h-2.85zM464.3 288.2h2.85v2.85h-2.85z"/><path fill="#3f1be1" d="M401.8 348.2h2.85v2.85h-2.85zM404.3 293.2h2.85v2.85h-2.85zM404.3 355.7h2.85v2.85h-2.85zM409.3 288.2h2.85v2.85h-2.85zM464.3 285.7h2.85v2.85h-2.85zM471.8 288.2h2.85v2.85h-2.85z"/><path fill="#33036f" d="M404.3 288.2h2.85v2.85h-2.85z"/><path fill="#390fa5" d="M404.3 290.7h2.85v2.85h-2.85zM406.8 288.2h2.85v2.85h-2.85z"/><path fill="#3f51f3" d="M404.3 310.7h2.85v2.85h-2.85zM426.8 288.2h2.85v2.85h-2.85z"/><path fill="#3f57f3" d="M404.3 313.2h2.85v2.85h-2.85zM429.3 288.2h2.85v2.85h-2.85z"/><path fill="#3f5df3" d="M404.3 315.7h2.85v2.85h-2.85zM404.3 318.2h2.85v2.85h-2.85zM404.3 320.7h2.85v2.85h-2.85zM404.3 323.2h2.85v2.85h-2.85zM404.3 345.7h2.85v2.85h-2.85zM431.8 288.2h2.85v2.85h-2.85zM434.3 288.2h2.85v2.85h-2.85zM436.8 288.2h2.85v2.85h-2.85zM439.3 288.2h2.85v2.85h-2.85zM461.8 288.2h2.85v2.85h-2.85z"/><path fill="#3f63f9" d="M404.3 325.7h2.85v2.85h-2.85zM441.8 288.2h2.85v2.85h-2.85z"/><path fill="#3f75f9" d="M404.3 328.2h2.85v2.85h-2.85zM404.3 340.7h2.85v2.85h-2.85zM444.3 288.2h2.85v2.85h-2.85zM456.8 288.2h2.85v2.85h-2.85z"/><path fill="#45b1ff" d="M404.3 330.7h2.85v2.85h-2.85zM446.8 288.2h2.85v2.85h-2.85z"/><path fill="#3f87f9" d="M404.3 343.2h2.85v2.85h-2.85zM459.3 288.2h2.85v2.85h-2.85z"/><path fill="#3f39f3" d="M406.8 290.7h2.85v2.85h-2.85z"/><path fill="#3fa5ff" d="M406.8 293.2h2.85v2.85h-2.85zM409.3 290.7h2.85v2.85h-2.85z"/><path fill="#4bbdf9" d="M406.8 295.7h2.85v2.85h-2.85zM406.8 298.2h2.85v2.85h-2.85zM406.8 300.7h2.85v2.85h-2.85zM406.8 308.2h2.85v2.85h-2.85zM406.8 335.7h2.85v2.85h-2.85zM406.8 338.2h2.85v2.85h-2.85zM406.8 358.2h2.85v2.85h-2.85zM406.8 360.7h2.85v2.85h-2.85zM411.8 290.7h2.85v2.85h-2.85zM414.3 290.7h2.85v2.85h-2.85zM416.8 290.7h2.85v2.85h-2.85zM424.3 290.7h2.85v2.85h-2.85zM451.8 290.7h2.85v2.85h-2.85zM454.3 290.7h2.85v2.85h-2.85zM474.3 290.7h2.85v2.85h-2.85zM476.8 290.7h2.85v2.85h-2.85z"/><path fill="#45abff" d="M406.8 303.2h2.85v2.85h-2.85zM419.3 290.7h2.85v2.85h-2.85z"/><path fill="#3f8df9" d="M406.8 305.7h2.85v2.85h-2.85zM406.8 353.2h2.85v2.85h-2.85zM421.8 290.7h2.85v2.85h-2.85zM469.3 290.7h2.85v2.85h-2.85z"/><path fill="#51d5f9" d="M406.8 310.7h2.85v2.85h-2.85zM426.8 290.7h2.85v2.85h-2.85z"/><path fill="#57d5f3" d="M406.8 313.2h2.85v2.85h-2.85zM406.8 315.7h2.85v2.85h-2.85zM406.8 318.2h2.85v2.85h-2.85zM406.8 320.7h2.85v2.85h-2.85zM429.3 290.7h2.85v2.85h-2.85zM431.8 290.7h2.85v2.85h-2.85zM434.3 290.7h2.85v2.85h-2.85zM436.8 290.7h2.85v2.85h-2.85z"/><path fill="#57dbf3" d="M406.8 323.2h2.85v2.85h-2.85zM406.8 345.7h2.85v2.85h-2.85zM419.3 305.7h2.85v2.85h-2.85zM419.3 353.2h2.85v2.85h-2.85zM421.8 303.2h2.85v2.85h-2.85zM439.3 290.7h2.85v2.85h-2.85zM461.8 290.7h2.85v2.85h-2.85zM469.3 303.2h2.85v2.85h-2.85zM471.8 355.7h2.85v2.85h-2.85z"/><path fill="#57e1f3" d="M406.8 325.7h2.85v2.85h-2.85zM409.3 355.7h2.85v2.85h-2.85zM441.8 290.7h2.85v2.85h-2.85zM471.8 293.2h2.85v2.85h-2.85z"/><path fill="#5de7f3" d="M406.8 328.2h2.85v2.85h-2.85zM406.8 333.2h2.85v2.85h-2.85zM406.8 340.7h2.85v2.85h-2.85zM409.3 293.2h2.85v2.85h-2.85zM419.3 355.7h2.85v2.85h-2.85zM444.3 290.7h2.85v2.85h-2.85zM449.3 290.7h2.85v2.85h-2.85zM456.8 290.7h2.85v2.85h-2.85zM471.8 303.2h2.85v2.85h-2.85z"/><path fill="#3fe757" d="M406.8 330.7h2.85v2.85h-2.85zM416.8 350.7h2.85v2.85h-2.85zM419.3 348.2h2.85v2.85h-2.85zM421.8 325.7h2.85v2.85h-2.85zM426.8 355.7h2.85v2.85h-2.85zM441.8 305.7h2.85v2.85h-2.85zM446.8 290.7h2.85v2.85h-2.85zM464.3 303.2h2.85v2.85h-2.85zM466.8 300.7h2.85v2.85h-2.85zM466.8 358.2h2.85v2.85h-2.85zM471.8 310.7h2.85v2.85h-2.85zM474.3 350.7h2.85v2.85h-2.85z"/><path fill="#5deddb" d="M406.8 343.2h2.85v2.85h-2.85zM459.3 290.7h2.85v2.85h-2.85zM466.8 355.7h2.85v2.85h-2.85zM471.8 350.7h2.85v2.85h-2.85z"/><path fill="#51c9f9" d="M406.8 348.2h2.85v2.85h-2.85zM464.3 290.7h2.85v2.85h-2.85z"/><path fill="#45b7ff" d="M406.8 350.7h2.85v2.85h-2.85zM466.8 290.7h2.85v2.85h-2.85z"/><path fill="#3f9fff" d="M406.8 355.7h2.85v2.85h-2.85zM471.8 290.7h2.85v2.85h-2.85z"/><path fill="#51edb1" d="M409.3 295.7h2.85v2.85h-2.85zM409.3 308.2h2.85v2.85h-2.85zM409.3 335.7h2.85v2.85h-2.85zM411.8 293.2h2.85v2.85h-2.85zM424.3 293.2h2.85v2.85h-2.85zM451.8 293.2h2.85v2.85h-2.85z"/><path fill="#51eda5" d="M409.3 298.2h2.85v2.85h-2.85zM409.3 360.7h2.85v2.85h-2.85zM414.3 293.2h2.85v2.85h-2.85zM476.8 293.2h2.85v2.85h-2.85z"/><path fill="#51edb7" d="M409.3 300.7h2.85v2.85h-2.85zM409.3 358.2h2.85v2.85h-2.85zM414.3 355.7h2.85v2.85h-2.85zM416.8 293.2h2.85v2.85h-2.85zM471.8 298.2h2.85v2.85h-2.85zM471.8 360.7h2.85v2.85h-2.85zM474.3 293.2h2.85v2.85h-2.85zM476.8 355.7h2.85v2.85h-2.85z"/><path fill="#5dedf3" d="M409.3 303.2h2.85v2.85h-2.85zM416.8 305.7h2.85v2.85h-2.85zM416.8 353.2h2.85v2.85h-2.85zM419.3 293.2h2.85v2.85h-2.85zM421.8 300.7h2.85v2.85h-2.85zM421.8 350.7h2.85v2.85h-2.85zM421.8 358.2h2.85v2.85h-2.85zM466.8 305.7h2.85v2.85h-2.85zM466.8 353.2h2.85v2.85h-2.85zM469.3 300.7h2.85v2.85h-2.85zM469.3 350.7h2.85v2.85h-2.85zM474.3 305.7h2.85v2.85h-2.85z"/><path fill="#57d5f9" d="M409.3 305.7h2.85v2.85h-2.85zM409.3 353.2h2.85v2.85h-2.85zM421.8 293.2h2.85v2.85h-2.85zM469.3 293.2h2.85v2.85h-2.85z"/><path fill="#39e13f" d="M409.3 310.7h2.85v2.85h-2.85zM411.8 300.7h2.85v2.85h-2.85zM414.3 350.7h2.85v2.85h-2.85zM416.8 295.7h2.85v2.85h-2.85zM416.8 335.7h2.85v2.85h-2.85zM426.8 293.2h2.85v2.85h-2.85zM431.8 355.7h2.85v2.85h-2.85zM434.3 355.7h2.85v2.85h-2.85zM436.8 355.7h2.85v2.85h-2.85zM451.8 300.7h2.85v2.85h-2.85zM466.8 298.2h2.85v2.85h-2.85zM471.8 315.7h2.85v2.85h-2.85zM471.8 318.2h2.85v2.85h-2.85zM471.8 320.7h2.85v2.85h-2.85zM474.3 358.2h2.85v2.85h-2.85z"/><path fill="#33e12d" d="M409.3 313.2h2.85v2.85h-2.85zM411.8 338.2h2.85v2.85h-2.85zM414.3 300.7h2.85v2.85h-2.85zM414.3 358.2h2.85v2.85h-2.85zM416.8 298.2h2.85v2.85h-2.85zM421.8 333.2h2.85v2.85h-2.85zM424.3 338.2h2.85v2.85h-2.85zM429.3 293.2h2.85v2.85h-2.85zM449.3 305.7h2.85v2.85h-2.85zM449.3 353.2h2.85v2.85h-2.85zM451.8 338.2h2.85v2.85h-2.85zM454.3 295.7h2.85v2.85h-2.85zM454.3 308.2h2.85v2.85h-2.85zM454.3 335.7h2.85v2.85h-2.85zM469.3 333.2h2.85v2.85h-2.85zM474.3 298.2h2.85v2.85h-2.85zM474.3 360.7h2.85v2.85h-2.85zM476.8 358.2h2.85v2.85h-2.85z"/><path fill="#33e127" d="M409.3 315.7h2.85v2.85h-2.85zM409.3 318.2h2.85v2.85h-2.85zM409.3 320.7h2.85v2.85h-2.85zM411.8 298.2h2.85v2.85h-2.85zM411.8 360.7h2.85v2.85h-2.85zM414.3 295.7h2.85v2.85h-2.85zM414.3 335.7h2.85v2.85h-2.85zM424.3 360.7h2.85v2.85h-2.85zM431.8 293.2h2.85v2.85h-2.85zM434.3 293.2h2.85v2.85h-2.85zM436.8 293.2h2.85v2.85h-2.85zM451.8 298.2h2.85v2.85h-2.85zM451.8 360.7h2.85v2.85h-2.85zM454.3 338.2h2.85v2.85h-2.85zM476.8 295.7h2.85v2.85h-2.85zM476.8 308.2h2.85v2.85h-2.85zM476.8 335.7h2.85v2.85h-2.85z"/><path fill="#33e121" d="M409.3 323.2h2.85v2.85h-2.85zM409.3 345.7h2.85v2.85h-2.85zM414.3 298.2h2.85v2.85h-2.85zM414.3 308.2h2.85v2.85h-2.85zM414.3 338.2h2.85v2.85h-2.85zM414.3 360.7h2.85v2.85h-2.85zM419.3 310.7h2.85v2.85h-2.85zM421.8 328.2h2.85v2.85h-2.85zM421.8 340.7h2.85v2.85h-2.85zM424.3 298.2h2.85v2.85h-2.85zM426.8 303.2h2.85v2.85h-2.85zM439.3 293.2h2.85v2.85h-2.85zM441.8 355.7h2.85v2.85h-2.85zM444.3 305.7h2.85v2.85h-2.85zM444.3 353.2h2.85v2.85h-2.85zM454.3 298.2h2.85v2.85h-2.85zM454.3 360.7h2.85v2.85h-2.85zM456.8 305.7h2.85v2.85h-2.85zM456.8 353.2h2.85v2.85h-2.85zM461.8 293.2h2.85v2.85h-2.85zM469.3 328.2h2.85v2.85h-2.85zM469.3 340.7h2.85v2.85h-2.85zM471.8 325.7h2.85v2.85h-2.85zM476.8 298.2h2.85v2.85h-2.85zM476.8 338.2h2.85v2.85h-2.85zM476.8 360.7h2.85v2.85h-2.85z"/><path fill="#39e121" d="M409.3 325.7h2.85v2.85h-2.85zM419.3 313.2h2.85v2.85h-2.85zM419.3 315.7h2.85v2.85h-2.85zM419.3 318.2h2.85v2.85h-2.85zM419.3 320.7h2.85v2.85h-2.85zM429.3 303.2h2.85v2.85h-2.85zM431.8 303.2h2.85v2.85h-2.85zM434.3 303.2h2.85v2.85h-2.85zM436.8 303.2h2.85v2.85h-2.85zM441.8 293.2h2.85v2.85h-2.85zM464.3 350.7h2.85v2.85h-2.85zM466.8 348.2h2.85v2.85h-2.85z"/><path fill="#51e727" d="M409.3 328.2h2.85v2.85h-2.85zM409.3 340.7h2.85v2.85h-2.85zM426.8 350.7h2.85v2.85h-2.85zM444.3 293.2h2.85v2.85h-2.85zM456.8 293.2h2.85v2.85h-2.85zM466.8 310.7h2.85v2.85h-2.85z"/><path fill="#b1f333" d="M409.3 330.7h2.85v2.85h-2.85zM411.8 343.2h2.85v2.85h-2.85zM414.3 343.2h2.85v2.85h-2.85zM424.3 343.2h2.85v2.85h-2.85zM426.8 325.7h2.85v2.85h-2.85zM429.3 315.7h2.85v2.85h-2.85zM429.3 318.2h2.85v2.85h-2.85zM429.3 320.7h2.85v2.85h-2.85zM429.3 323.2h2.85v2.85h-2.85zM429.3 345.7h2.85v2.85h-2.85zM431.8 313.2h2.85v2.85h-2.85zM431.8 315.7h2.85v2.85h-2.85zM431.8 318.2h2.85v2.85h-2.85zM431.8 320.7h2.85v2.85h-2.85zM431.8 323.2h2.85v2.85h-2.85zM431.8 345.7h2.85v2.85h-2.85zM434.3 313.2h2.85v2.85h-2.85zM434.3 315.7h2.85v2.85h-2.85zM434.3 318.2h2.85v2.85h-2.85zM434.3 320.7h2.85v2.85h-2.85zM434.3 323.2h2.85v2.85h-2.85zM434.3 345.7h2.85v2.85h-2.85zM436.8 313.2h2.85v2.85h-2.85zM436.8 315.7h2.85v2.85h-2.85zM436.8 318.2h2.85v2.85h-2.85zM436.8 320.7h2.85v2.85h-2.85zM436.8 323.2h2.85v2.85h-2.85zM436.8 345.7h2.85v2.85h-2.85zM439.3 313.2h2.85v2.85h-2.85zM439.3 315.7h2.85v2.85h-2.85zM439.3 318.2h2.85v2.85h-2.85zM439.3 320.7h2.85v2.85h-2.85zM441.8 310.7h2.85v2.85h-2.85zM444.3 348.2h2.85v2.85h-2.85zM446.8 293.2h2.85v2.85h-2.85zM454.3 343.2h2.85v2.85h-2.85zM456.8 348.2h2.85v2.85h-2.85zM459.3 295.7h2.85v2.85h-2.85zM459.3 298.2h2.85v2.85h-2.85zM459.3 308.2h2.85v2.85h-2.85zM459.3 338.2h2.85v2.85h-2.85zM459.3 360.7h2.85v2.85h-2.85zM461.8 313.2h2.85v2.85h-2.85zM461.8 315.7h2.85v2.85h-2.85zM461.8 318.2h2.85v2.85h-2.85zM461.8 320.7h2.85v2.85h-2.85zM464.3 328.2h2.85v2.85h-2.85zM464.3 340.7h2.85v2.85h-2.85zM476.8 343.2h2.85v2.85h-2.85z"/><path fill="#4be121" d="M409.3 333.2h2.85v2.85h-2.85zM414.3 348.2h2.85v2.85h-2.85zM419.3 325.7h2.85v2.85h-2.85zM421.8 343.2h2.85v2.85h-2.85zM441.8 303.2h2.85v2.85h-2.85zM449.3 293.2h2.85v2.85h-2.85zM459.3 305.7h2.85v2.85h-2.85zM459.3 353.2h2.85v2.85h-2.85zM464.3 298.2h2.85v2.85h-2.85zM469.3 343.2h2.85v2.85h-2.85z"/><path fill="#51edab" d="M409.3 338.2h2.85v2.85h-2.85zM419.3 350.7h2.85v2.85h-2.85zM454.3 293.2h2.85v2.85h-2.85zM466.8 303.2h2.85v2.85h-2.85z"/><path fill="#69e727" d="M409.3 343.2h2.85v2.85h-2.85zM411.8 315.7h2.85v2.85h-2.85zM411.8 318.2h2.85v2.85h-2.85zM411.8 320.7h2.85v2.85h-2.85zM411.8 323.2h2.85v2.85h-2.85zM411.8 345.7h2.85v2.85h-2.85zM416.8 323.2h2.85v2.85h-2.85zM416.8 345.7h2.85v2.85h-2.85zM424.3 313.2h2.85v2.85h-2.85zM424.3 315.7h2.85v2.85h-2.85zM424.3 318.2h2.85v2.85h-2.85zM424.3 320.7h2.85v2.85h-2.85zM429.3 308.2h2.85v2.85h-2.85zM429.3 338.2h2.85v2.85h-2.85zM429.3 360.7h2.85v2.85h-2.85zM431.8 295.7h2.85v2.85h-2.85zM431.8 308.2h2.85v2.85h-2.85zM431.8 335.7h2.85v2.85h-2.85zM431.8 338.2h2.85v2.85h-2.85zM434.3 295.7h2.85v2.85h-2.85zM434.3 308.2h2.85v2.85h-2.85zM434.3 335.7h2.85v2.85h-2.85zM434.3 338.2h2.85v2.85h-2.85zM436.8 295.7h2.85v2.85h-2.85zM436.8 308.2h2.85v2.85h-2.85zM436.8 335.7h2.85v2.85h-2.85zM436.8 338.2h2.85v2.85h-2.85zM439.3 295.7h2.85v2.85h-2.85zM439.3 300.7h2.85v2.85h-2.85zM439.3 335.7h2.85v2.85h-2.85zM439.3 358.2h2.85v2.85h-2.85zM441.8 350.7h2.85v2.85h-2.85zM451.8 315.7h2.85v2.85h-2.85zM451.8 318.2h2.85v2.85h-2.85zM451.8 320.7h2.85v2.85h-2.85zM451.8 323.2h2.85v2.85h-2.85zM451.8 345.7h2.85v2.85h-2.85zM454.3 313.2h2.85v2.85h-2.85zM454.3 315.7h2.85v2.85h-2.85zM454.3 318.2h2.85v2.85h-2.85zM454.3 320.7h2.85v2.85h-2.85zM459.3 293.2h2.85v2.85h-2.85zM461.8 295.7h2.85v2.85h-2.85zM461.8 300.7h2.85v2.85h-2.85zM461.8 335.7h2.85v2.85h-2.85zM461.8 358.2h2.85v2.85h-2.85zM466.8 325.7h2.85v2.85h-2.85zM474.3 323.2h2.85v2.85h-2.85zM474.3 345.7h2.85v2.85h-2.85zM476.8 313.2h2.85v2.85h-2.85z"/><path fill="#45e775" d="M409.3 348.2h2.85v2.85h-2.85zM421.8 313.2h2.85v2.85h-2.85zM429.3 305.7h2.85v2.85h-2.85zM429.3 353.2h2.85v2.85h-2.85zM464.3 293.2h2.85v2.85h-2.85zM469.3 313.2h2.85v2.85h-2.85z"/><path fill="#57edc9" d="M409.3 350.7h2.85v2.85h-2.85zM416.8 355.7h2.85v2.85h-2.85zM466.8 293.2h2.85v2.85h-2.85zM471.8 300.7h2.85v2.85h-2.85zM471.8 358.2h2.85v2.85h-2.85zM474.3 355.7h2.85v2.85h-2.85z"/><path fill="#33e133" d="M411.8 295.7h2.85v2.85h-2.85zM411.8 308.2h2.85v2.85h-2.85zM411.8 335.7h2.85v2.85h-2.85zM416.8 338.2h2.85v2.85h-2.85zM416.8 360.7h2.85v2.85h-2.85zM424.3 295.7h2.85v2.85h-2.85zM424.3 308.2h2.85v2.85h-2.85zM424.3 335.7h2.85v2.85h-2.85zM451.8 295.7h2.85v2.85h-2.85zM451.8 308.2h2.85v2.85h-2.85zM451.8 335.7h2.85v2.85h-2.85zM454.3 300.7h2.85v2.85h-2.85zM454.3 358.2h2.85v2.85h-2.85zM474.3 338.2h2.85v2.85h-2.85zM476.8 300.7h2.85v2.85h-2.85z"/><path fill="#4be793" d="M411.8 303.2h2.85v2.85h-2.85zM419.3 295.7h2.85v2.85h-2.85zM419.3 308.2h2.85v2.85h-2.85zM419.3 335.7h2.85v2.85h-2.85zM424.3 303.2h2.85v2.85h-2.85zM451.8 303.2h2.85v2.85h-2.85z"/><path fill="#63f3f3" d="M411.8 305.7h2.85v2.85h-2.85zM421.8 295.7h2.85v2.85h-2.85zM421.8 335.7h2.85v2.85h-2.85zM451.8 305.7h2.85v2.85h-2.85z"/><path fill="#5de727" d="M411.8 310.7h2.85v2.85h-2.85zM419.3 328.2h2.85v2.85h-2.85zM419.3 333.2h2.85v2.85h-2.85zM424.3 310.7h2.85v2.85h-2.85zM426.8 295.7h2.85v2.85h-2.85zM426.8 308.2h2.85v2.85h-2.85zM426.8 335.7h2.85v2.85h-2.85zM426.8 358.2h2.85v2.85h-2.85zM431.8 350.7h2.85v2.85h-2.85zM434.3 350.7h2.85v2.85h-2.85zM436.8 350.7h2.85v2.85h-2.85zM439.3 350.7h2.85v2.85h-2.85zM444.3 303.2h2.85v2.85h-2.85zM449.3 303.2h2.85v2.85h-2.85zM451.8 310.7h2.85v2.85h-2.85zM461.8 350.7h2.85v2.85h-2.85zM464.3 348.2h2.85v2.85h-2.85zM466.8 315.7h2.85v2.85h-2.85zM466.8 318.2h2.85v2.85h-2.85zM466.8 320.7h2.85v2.85h-2.85zM466.8 323.2h2.85v2.85h-2.85zM466.8 345.7h2.85v2.85h-2.85zM474.3 310.7h2.85v2.85h-2.85z"/><path fill="#63e727" d="M411.8 313.2h2.85v2.85h-2.85zM414.3 310.7h2.85v2.85h-2.85zM416.8 313.2h2.85v2.85h-2.85zM416.8 315.7h2.85v2.85h-2.85zM416.8 318.2h2.85v2.85h-2.85zM416.8 320.7h2.85v2.85h-2.85zM419.3 340.7h2.85v2.85h-2.85zM426.8 298.2h2.85v2.85h-2.85zM426.8 338.2h2.85v2.85h-2.85zM426.8 360.7h2.85v2.85h-2.85zM429.3 295.7h2.85v2.85h-2.85zM429.3 300.7h2.85v2.85h-2.85zM429.3 335.7h2.85v2.85h-2.85zM429.3 358.2h2.85v2.85h-2.85zM431.8 300.7h2.85v2.85h-2.85zM431.8 358.2h2.85v2.85h-2.85zM434.3 300.7h2.85v2.85h-2.85zM434.3 358.2h2.85v2.85h-2.85zM436.8 300.7h2.85v2.85h-2.85zM436.8 358.2h2.85v2.85h-2.85zM451.8 313.2h2.85v2.85h-2.85zM454.3 310.7h2.85v2.85h-2.85zM456.8 303.2h2.85v2.85h-2.85zM459.3 355.7h2.85v2.85h-2.85zM471.8 343.2h2.85v2.85h-2.85zM474.3 313.2h2.85v2.85h-2.85zM474.3 315.7h2.85v2.85h-2.85zM474.3 318.2h2.85v2.85h-2.85zM474.3 320.7h2.85v2.85h-2.85zM476.8 310.7h2.85v2.85h-2.85z"/><path fill="#75e727" d="M411.8 325.7h2.85v2.85h-2.85zM414.3 323.2h2.85v2.85h-2.85zM414.3 345.7h2.85v2.85h-2.85zM424.3 325.7h2.85v2.85h-2.85zM439.3 298.2h2.85v2.85h-2.85zM441.8 295.7h2.85v2.85h-2.85zM441.8 308.2h2.85v2.85h-2.85zM441.8 335.7h2.85v2.85h-2.85zM441.8 358.2h2.85v2.85h-2.85zM451.8 325.7h2.85v2.85h-2.85zM461.8 298.2h2.85v2.85h-2.85zM474.3 325.7h2.85v2.85h-2.85z"/><path fill="#8ded2d" d="M411.8 328.2h2.85v2.85h-2.85zM411.8 333.2h2.85v2.85h-2.85zM416.8 328.2h2.85v2.85h-2.85zM416.8 340.7h2.85v2.85h-2.85zM421.8 330.7h2.85v2.85h-2.85zM424.3 333.2h2.85v2.85h-2.85zM444.3 295.7h2.85v2.85h-2.85zM444.3 300.7h2.85v2.85h-2.85zM444.3 335.7h2.85v2.85h-2.85zM444.3 358.2h2.85v2.85h-2.85zM446.8 305.7h2.85v2.85h-2.85zM449.3 295.7h2.85v2.85h-2.85zM449.3 308.2h2.85v2.85h-2.85zM449.3 335.7h2.85v2.85h-2.85zM449.3 338.2h2.85v2.85h-2.85zM451.8 328.2h2.85v2.85h-2.85zM451.8 333.2h2.85v2.85h-2.85zM454.3 333.2h2.85v2.85h-2.85zM456.8 300.7h2.85v2.85h-2.85zM456.8 358.2h2.85v2.85h-2.85zM474.3 328.2h2.85v2.85h-2.85zM474.3 340.7h2.85v2.85h-2.85z"/><path fill="#d5f32d" d="M411.8 330.7h2.85v2.85h-2.85zM414.3 330.7h2.85v2.85h-2.85zM424.3 330.7h2.85v2.85h-2.85zM431.8 343.2h2.85v2.85h-2.85zM434.3 343.2h2.85v2.85h-2.85zM436.8 343.2h2.85v2.85h-2.85zM439.3 343.2h2.85v2.85h-2.85zM444.3 328.2h2.85v2.85h-2.85zM444.3 333.2h2.85v2.85h-2.85zM446.8 295.7h2.85v2.85h-2.85zM446.8 298.2h2.85v2.85h-2.85zM446.8 308.2h2.85v2.85h-2.85zM446.8 335.7h2.85v2.85h-2.85zM446.8 338.2h2.85v2.85h-2.85zM446.8 360.7h2.85v2.85h-2.85zM449.3 328.2h2.85v2.85h-2.85zM449.3 333.2h2.85v2.85h-2.85zM449.3 340.7h2.85v2.85h-2.85zM451.8 330.7h2.85v2.85h-2.85zM454.3 330.7h2.85v2.85h-2.85zM456.8 333.2h2.85v2.85h-2.85zM459.3 315.7h2.85v2.85h-2.85zM459.3 318.2h2.85v2.85h-2.85zM459.3 320.7h2.85v2.85h-2.85zM459.3 323.2h2.85v2.85h-2.85zM459.3 345.7h2.85v2.85h-2.85zM461.8 343.2h2.85v2.85h-2.85zM476.8 330.7h2.85v2.85h-2.85z"/><path fill="#93ed2d" d="M411.8 340.7h2.85v2.85h-2.85zM414.3 333.2h2.85v2.85h-2.85zM424.3 328.2h2.85v2.85h-2.85zM424.3 340.7h2.85v2.85h-2.85zM441.8 348.2h2.85v2.85h-2.85zM444.3 308.2h2.85v2.85h-2.85zM444.3 338.2h2.85v2.85h-2.85zM444.3 360.7h2.85v2.85h-2.85zM446.8 353.2h2.85v2.85h-2.85zM449.3 298.2h2.85v2.85h-2.85zM449.3 360.7h2.85v2.85h-2.85zM451.8 340.7h2.85v2.85h-2.85zM454.3 328.2h2.85v2.85h-2.85zM454.3 340.7h2.85v2.85h-2.85zM456.8 295.7h2.85v2.85h-2.85zM456.8 308.2h2.85v2.85h-2.85zM456.8 335.7h2.85v2.85h-2.85zM456.8 338.2h2.85v2.85h-2.85zM464.3 325.7h2.85v2.85h-2.85zM469.3 330.7h2.85v2.85h-2.85zM476.8 328.2h2.85v2.85h-2.85zM476.8 333.2h2.85v2.85h-2.85z"/><path fill="#45e121" d="M411.8 348.2h2.85v2.85h-2.85zM424.3 348.2h2.85v2.85h-2.85zM444.3 355.7h2.85v2.85h-2.85zM451.8 348.2h2.85v2.85h-2.85zM454.3 348.2h2.85v2.85h-2.85zM456.8 355.7h2.85v2.85h-2.85zM464.3 295.7h2.85v2.85h-2.85zM464.3 308.2h2.85v2.85h-2.85zM464.3 335.7h2.85v2.85h-2.85zM464.3 338.2h2.85v2.85h-2.85zM464.3 360.7h2.85v2.85h-2.85zM471.8 328.2h2.85v2.85h-2.85zM471.8 340.7h2.85v2.85h-2.85zM476.8 348.2h2.85v2.85h-2.85z"/><path fill="#39e751" d="M411.8 350.7h2.85v2.85h-2.85zM451.8 350.7h2.85v2.85h-2.85zM466.8 295.7h2.85v2.85h-2.85zM466.8 335.7h2.85v2.85h-2.85z"/><path fill="#63f3ed" d="M411.8 353.2h2.85v2.85h-2.85zM421.8 308.2h2.85v2.85h-2.85zM424.3 305.7h2.85v2.85h-2.85zM451.8 353.2h2.85v2.85h-2.85zM469.3 295.7h2.85v2.85h-2.85zM469.3 335.7h2.85v2.85h-2.85z"/><path fill="#57edc3" d="M411.8 355.7h2.85v2.85h-2.85zM424.3 355.7h2.85v2.85h-2.85zM451.8 355.7h2.85v2.85h-2.85zM471.8 295.7h2.85v2.85h-2.85zM471.8 308.2h2.85v2.85h-2.85zM471.8 335.7h2.85v2.85h-2.85z"/><path fill="#39e139" d="M411.8 358.2h2.85v2.85h-2.85zM416.8 308.2h2.85v2.85h-2.85zM424.3 300.7h2.85v2.85h-2.85zM451.8 358.2h2.85v2.85h-2.85zM474.3 295.7h2.85v2.85h-2.85zM474.3 335.7h2.85v2.85h-2.85z"/><path fill="#45e787" d="M414.3 303.2h2.85v2.85h-2.85zM419.3 298.2h2.85v2.85h-2.85zM426.8 353.2h2.85v2.85h-2.85zM469.3 310.7h2.85v2.85h-2.85z"/><path fill="#5dede1" d="M414.3 305.7h2.85v2.85h-2.85zM414.3 353.2h2.85v2.85h-2.85zM421.8 298.2h2.85v2.85h-2.85zM469.3 298.2h2.85v2.85h-2.85z"/><path fill="#6fe727" d="M414.3 313.2h2.85v2.85h-2.85zM414.3 315.7h2.85v2.85h-2.85zM414.3 318.2h2.85v2.85h-2.85zM414.3 320.7h2.85v2.85h-2.85zM416.8 325.7h2.85v2.85h-2.85zM424.3 323.2h2.85v2.85h-2.85zM424.3 345.7h2.85v2.85h-2.85zM429.3 298.2h2.85v2.85h-2.85zM431.8 298.2h2.85v2.85h-2.85zM431.8 360.7h2.85v2.85h-2.85zM434.3 298.2h2.85v2.85h-2.85zM434.3 360.7h2.85v2.85h-2.85zM436.8 298.2h2.85v2.85h-2.85zM436.8 360.7h2.85v2.85h-2.85zM439.3 308.2h2.85v2.85h-2.85zM439.3 338.2h2.85v2.85h-2.85zM439.3 360.7h2.85v2.85h-2.85zM441.8 300.7h2.85v2.85h-2.85zM454.3 323.2h2.85v2.85h-2.85zM454.3 345.7h2.85v2.85h-2.85zM461.8 308.2h2.85v2.85h-2.85zM461.8 338.2h2.85v2.85h-2.85zM461.8 360.7h2.85v2.85h-2.85zM476.8 315.7h2.85v2.85h-2.85zM476.8 318.2h2.85v2.85h-2.85zM476.8 320.7h2.85v2.85h-2.85zM476.8 323.2h2.85v2.85h-2.85zM476.8 345.7h2.85v2.85h-2.85z"/><path fill="#7bed2d" d="M414.3 325.7h2.85v2.85h-2.85zM441.8 298.2h2.85v2.85h-2.85zM449.3 350.7h2.85v2.85h-2.85zM466.8 333.2h2.85v2.85h-2.85z"/><path fill="#99ed2d" d="M414.3 328.2h2.85v2.85h-2.85zM414.3 340.7h2.85v2.85h-2.85zM426.8 310.7h2.85v2.85h-2.85zM444.3 298.2h2.85v2.85h-2.85zM456.8 298.2h2.85v2.85h-2.85zM456.8 360.7h2.85v2.85h-2.85zM476.8 340.7h2.85v2.85h-2.85z"/><path fill="#39e145" d="M416.8 300.7h2.85v2.85h-2.85zM416.8 358.2h2.85v2.85h-2.85zM429.3 355.7h2.85v2.85h-2.85zM466.8 360.7h2.85v2.85h-2.85zM471.8 313.2h2.85v2.85h-2.85zM474.3 300.7h2.85v2.85h-2.85zM476.8 350.7h2.85v2.85h-2.85z"/><path fill="#4be799" d="M416.8 303.2h2.85v2.85h-2.85zM419.3 300.7h2.85v2.85h-2.85zM419.3 358.2h2.85v2.85h-2.85zM474.3 303.2h2.85v2.85h-2.85z"/><path fill="#57e727" d="M416.8 310.7h2.85v2.85h-2.85zM426.8 300.7h2.85v2.85h-2.85zM429.3 350.7h2.85v2.85h-2.85zM466.8 313.2h2.85v2.85h-2.85z"/><path fill="#cff32d" d="M416.8 330.7h2.85v2.85h-2.85zM426.8 343.2h2.85v2.85h-2.85zM429.3 343.2h2.85v2.85h-2.85zM446.8 300.7h2.85v2.85h-2.85zM446.8 350.7h2.85v2.85h-2.85zM446.8 358.2h2.85v2.85h-2.85zM459.3 310.7h2.85v2.85h-2.85zM459.3 313.2h2.85v2.85h-2.85zM466.8 330.7h2.85v2.85h-2.85zM474.3 330.7h2.85v2.85h-2.85z"/><path fill="#87ed2d" d="M416.8 333.2h2.85v2.85h-2.85zM431.8 348.2h2.85v2.85h-2.85zM434.3 348.2h2.85v2.85h-2.85zM436.8 348.2h2.85v2.85h-2.85zM439.3 348.2h2.85v2.85h-2.85zM449.3 300.7h2.85v2.85h-2.85zM449.3 358.2h2.85v2.85h-2.85zM461.8 348.2h2.85v2.85h-2.85zM464.3 315.7h2.85v2.85h-2.85zM464.3 318.2h2.85v2.85h-2.85zM464.3 320.7h2.85v2.85h-2.85zM464.3 323.2h2.85v2.85h-2.85zM464.3 345.7h2.85v2.85h-2.85zM474.3 333.2h2.85v2.85h-2.85z"/><path fill="#abed2d" d="M416.8 343.2h2.85v2.85h-2.85zM426.8 323.2h2.85v2.85h-2.85zM426.8 345.7h2.85v2.85h-2.85zM429.3 313.2h2.85v2.85h-2.85zM439.3 310.7h2.85v2.85h-2.85zM446.8 355.7h2.85v2.85h-2.85zM449.3 348.2h2.85v2.85h-2.85zM459.3 300.7h2.85v2.85h-2.85zM459.3 358.2h2.85v2.85h-2.85zM461.8 310.7h2.85v2.85h-2.85zM464.3 333.2h2.85v2.85h-2.85zM471.8 330.7h2.85v2.85h-2.85zM474.3 343.2h2.85v2.85h-2.85z"/><path fill="#3fe121" d="M416.8 348.2h2.85v2.85h-2.85zM419.3 323.2h2.85v2.85h-2.85zM419.3 345.7h2.85v2.85h-2.85zM439.3 303.2h2.85v2.85h-2.85zM449.3 355.7h2.85v2.85h-2.85zM461.8 303.2h2.85v2.85h-2.85zM464.3 300.7h2.85v2.85h-2.85zM464.3 358.2h2.85v2.85h-2.85zM471.8 333.2h2.85v2.85h-2.85zM474.3 348.2h2.85v2.85h-2.85z"/><path fill="#5dede7" d="M419.3 303.2h2.85v2.85h-2.85zM421.8 360.7h2.85v2.85h-2.85zM454.3 353.2h2.85v2.85h-2.85zM469.3 338.2h2.85v2.85h-2.85zM469.3 360.7h2.85v2.85h-2.85zM476.8 305.7h2.85v2.85h-2.85zM476.8 353.2h2.85v2.85h-2.85z"/><path fill="#bdf32d" d="M419.3 330.7h2.85v2.85h-2.85zM426.8 328.2h2.85v2.85h-2.85zM426.8 333.2h2.85v2.85h-2.85zM426.8 340.7h2.85v2.85h-2.85zM429.3 333.2h2.85v2.85h-2.85zM441.8 325.7h2.85v2.85h-2.85zM444.3 310.7h2.85v2.85h-2.85zM446.8 303.2h2.85v2.85h-2.85zM449.3 310.7h2.85v2.85h-2.85zM449.3 313.2h2.85v2.85h-2.85zM456.8 310.7h2.85v2.85h-2.85zM459.3 348.2h2.85v2.85h-2.85zM464.3 343.2h2.85v2.85h-2.85z"/><path fill="#4be78d" d="M419.3 338.2h2.85v2.85h-2.85zM454.3 303.2h2.85v2.85h-2.85zM464.3 355.7h2.85v2.85h-2.85zM471.8 348.2h2.85v2.85h-2.85z"/><path fill="#7be727" d="M419.3 343.2h2.85v2.85h-2.85zM426.8 348.2h2.85v2.85h-2.85zM441.8 338.2h2.85v2.85h-2.85zM441.8 360.7h2.85v2.85h-2.85zM454.3 325.7h2.85v2.85h-2.85zM459.3 303.2h2.85v2.85h-2.85zM464.3 310.7h2.85v2.85h-2.85zM476.8 325.7h2.85v2.85h-2.85z"/><path fill="#4be787" d="M419.3 360.7h2.85v2.85h-2.85zM421.8 310.7h2.85v2.85h-2.85zM426.8 305.7h2.85v2.85h-2.85zM476.8 303.2h2.85v2.85h-2.85z"/><path fill="#4bc9f9" d="M421.8 305.7h2.85v2.85h-2.85zM421.8 353.2h2.85v2.85h-2.85zM469.3 305.7h2.85v2.85h-2.85zM469.3 353.2h2.85v2.85h-2.85z"/><path fill="#45e76f" d="M421.8 315.7h2.85v2.85h-2.85zM421.8 318.2h2.85v2.85h-2.85zM421.8 320.7h2.85v2.85h-2.85zM431.8 305.7h2.85v2.85h-2.85zM431.8 353.2h2.85v2.85h-2.85zM434.3 305.7h2.85v2.85h-2.85zM434.3 353.2h2.85v2.85h-2.85zM436.8 305.7h2.85v2.85h-2.85zM436.8 353.2h2.85v2.85h-2.85zM469.3 315.7h2.85v2.85h-2.85zM469.3 318.2h2.85v2.85h-2.85zM469.3 320.7h2.85v2.85h-2.85z"/><path fill="#3fe769" d="M421.8 323.2h2.85v2.85h-2.85zM421.8 345.7h2.85v2.85h-2.85zM439.3 305.7h2.85v2.85h-2.85zM439.3 353.2h2.85v2.85h-2.85zM461.8 305.7h2.85v2.85h-2.85zM461.8 353.2h2.85v2.85h-2.85zM466.8 350.7h2.85v2.85h-2.85zM469.3 323.2h2.85v2.85h-2.85zM469.3 345.7h2.85v2.85h-2.85z"/><path fill="#5df3ed" d="M421.8 338.2h2.85v2.85h-2.85zM424.3 353.2h2.85v2.85h-2.85zM454.3 305.7h2.85v2.85h-2.85zM469.3 308.2h2.85v2.85h-2.85z"/><path fill="#57edbd" d="M421.8 348.2h2.85v2.85h-2.85zM454.3 355.7h2.85v2.85h-2.85zM464.3 305.7h2.85v2.85h-2.85zM464.3 353.2h2.85v2.85h-2.85zM469.3 348.2h2.85v2.85h-2.85zM471.8 338.2h2.85v2.85h-2.85z"/><path fill="#51cff9" d="M421.8 355.7h2.85v2.85h-2.85zM469.3 355.7h2.85v2.85h-2.85zM471.8 305.7h2.85v2.85h-2.85zM471.8 353.2h2.85v2.85h-2.85z"/><path fill="#39e14b" d="M424.3 350.7h2.85v2.85h-2.85zM454.3 350.7h2.85v2.85h-2.85zM466.8 308.2h2.85v2.85h-2.85zM466.8 338.2h2.85v2.85h-2.85z"/><path fill="#33e139" d="M424.3 358.2h2.85v2.85h-2.85zM439.3 355.7h2.85v2.85h-2.85zM461.8 355.7h2.85v2.85h-2.85zM471.8 323.2h2.85v2.85h-2.85zM471.8 345.7h2.85v2.85h-2.85zM474.3 308.2h2.85v2.85h-2.85z"/><path fill="#9fed2d" d="M426.8 313.2h2.85v2.85h-2.85zM429.3 310.7h2.85v2.85h-2.85zM459.3 350.7h2.85v2.85h-2.85zM466.8 343.2h2.85v2.85h-2.85z"/><path fill="#a5ed2d" d="M426.8 315.7h2.85v2.85h-2.85zM426.8 318.2h2.85v2.85h-2.85zM426.8 320.7h2.85v2.85h-2.85zM431.8 310.7h2.85v2.85h-2.85zM434.3 310.7h2.85v2.85h-2.85zM436.8 310.7h2.85v2.85h-2.85z"/><path fill="#f3f32d" d="M426.8 330.7h2.85v2.85h-2.85zM446.8 310.7h2.85v2.85h-2.85z"/><path fill="#b7f32d" d="M429.3 325.7h2.85v2.85h-2.85zM431.8 325.7h2.85v2.85h-2.85zM434.3 325.7h2.85v2.85h-2.85zM436.8 325.7h2.85v2.85h-2.85zM439.3 325.7h2.85v2.85h-2.85zM441.8 313.2h2.85v2.85h-2.85zM441.8 315.7h2.85v2.85h-2.85zM441.8 318.2h2.85v2.85h-2.85zM441.8 320.7h2.85v2.85h-2.85zM441.8 323.2h2.85v2.85h-2.85zM441.8 345.7h2.85v2.85h-2.85zM461.8 325.7h2.85v2.85h-2.85z"/><path fill="#c3f32d" d="M429.3 328.2h2.85v2.85h-2.85zM429.3 340.7h2.85v2.85h-2.85zM431.8 328.2h2.85v2.85h-2.85zM431.8 333.2h2.85v2.85h-2.85zM431.8 340.7h2.85v2.85h-2.85zM434.3 328.2h2.85v2.85h-2.85zM434.3 333.2h2.85v2.85h-2.85zM434.3 340.7h2.85v2.85h-2.85zM436.8 328.2h2.85v2.85h-2.85zM436.8 333.2h2.85v2.85h-2.85zM436.8 340.7h2.85v2.85h-2.85zM439.3 328.2h2.85v2.85h-2.85zM439.3 333.2h2.85v2.85h-2.85zM444.3 313.2h2.85v2.85h-2.85zM444.3 315.7h2.85v2.85h-2.85zM444.3 318.2h2.85v2.85h-2.85zM444.3 320.7h2.85v2.85h-2.85zM444.3 323.2h2.85v2.85h-2.85zM444.3 345.7h2.85v2.85h-2.85zM449.3 315.7h2.85v2.85h-2.85zM449.3 318.2h2.85v2.85h-2.85zM449.3 320.7h2.85v2.85h-2.85zM449.3 323.2h2.85v2.85h-2.85zM449.3 345.7h2.85v2.85h-2.85zM456.8 313.2h2.85v2.85h-2.85zM456.8 315.7h2.85v2.85h-2.85zM456.8 318.2h2.85v2.85h-2.85zM456.8 320.7h2.85v2.85h-2.85zM461.8 328.2h2.85v2.85h-2.85zM461.8 333.2h2.85v2.85h-2.85z"/><path fill="#f3ed2d" d="M429.3 330.7h2.85v2.85h-2.85zM431.8 330.7h2.85v2.85h-2.85zM434.3 330.7h2.85v2.85h-2.85zM436.8 330.7h2.85v2.85h-2.85zM446.8 313.2h2.85v2.85h-2.85zM446.8 315.7h2.85v2.85h-2.85zM446.8 318.2h2.85v2.85h-2.85zM446.8 320.7h2.85v2.85h-2.85zM459.3 343.2h2.85v2.85h-2.85z"/><path fill="#81ed2d" d="M429.3 348.2h2.85v2.85h-2.85zM444.3 350.7h2.85v2.85h-2.85zM456.8 350.7h2.85v2.85h-2.85zM464.3 313.2h2.85v2.85h-2.85zM466.8 328.2h2.85v2.85h-2.85zM466.8 340.7h2.85v2.85h-2.85z"/><path fill="#b7f333" d="M439.3 323.2h2.85v2.85h-2.85zM439.3 345.7h2.85v2.85h-2.85zM461.8 323.2h2.85v2.85h-2.85zM461.8 345.7h2.85v2.85h-2.85z"/><path fill="#f3e72d" d="M439.3 330.7h2.85v2.85h-2.85zM446.8 323.2h2.85v2.85h-2.85zM446.8 345.7h2.85v2.85h-2.85zM461.8 330.7h2.85v2.85h-2.85z"/><path fill="#c9f32d" d="M439.3 340.7h2.85v2.85h-2.85zM441.8 328.2h2.85v2.85h-2.85zM441.8 333.2h2.85v2.85h-2.85zM441.8 340.7h2.85v2.85h-2.85zM444.3 325.7h2.85v2.85h-2.85zM449.3 325.7h2.85v2.85h-2.85zM456.8 323.2h2.85v2.85h-2.85zM456.8 325.7h2.85v2.85h-2.85zM456.8 345.7h2.85v2.85h-2.85zM461.8 340.7h2.85v2.85h-2.85z"/><path fill="#f3e12d" d="M441.8 330.7h2.85v2.85h-2.85zM446.8 325.7h2.85v2.85h-2.85z"/><path fill="#dbf32d" d="M441.8 343.2h2.85v2.85h-2.85zM444.3 340.7h2.85v2.85h-2.85zM456.8 328.2h2.85v2.85h-2.85zM456.8 340.7h2.85v2.85h-2.85zM459.3 325.7h2.85v2.85h-2.85z"/><path fill="#3fe751" d="M441.8 353.2h2.85v2.85h-2.85zM469.3 325.7h2.85v2.85h-2.85z"/><path fill="#f3d52d" d="M444.3 330.7h2.85v2.85h-2.85zM446.8 328.2h2.85v2.85h-2.85zM446.8 333.2h2.85v2.85h-2.85zM446.8 340.7h2.85v2.85h-2.85zM449.3 330.7h2.85v2.85h-2.85zM456.8 330.7h2.85v2.85h-2.85z"/><path fill="#e7f32d" d="M444.3 343.2h2.85v2.85h-2.85zM449.3 343.2h2.85v2.85h-2.85zM456.8 343.2h2.85v2.85h-2.85zM459.3 328.2h2.85v2.85h-2.85zM459.3 333.2h2.85v2.85h-2.85zM459.3 340.7h2.85v2.85h-2.85z"/><path fill="#f37b21" d="M446.8 330.7h2.85v2.85h-2.85z"/><path fill="#f3c32d" d="M446.8 343.2h2.85v2.85h-2.85zM459.3 330.7h2.85v2.85h-2.85z"/><path fill="#e1f32d" d="M446.8 348.2h2.85v2.85h-2.85zM464.3 330.7h2.85v2.85h-2.85z"/><path fill="#abf333" d="M451.8 343.2h2.85v2.85h-2.85zM459.3 335.7h2.85v2.85h-2.85z"/><path fill="#63edf3" d="M469.3 358.2h2.85v2.85h-2.85zM474.3 353.2h2.85v2.85h-2.85z"/></g><line x1="394.3" y1="278.2" x2="479.3" y2="363.2" stroke="#605050" stroke-opacity="0.45" stroke-width="0.45"/></g><g clip-path="url(#cpa)"><g filter="url(#bl2)"><rect x="559.7" y="274.6" width="91.5" height="91.5" fill="rgb(155, 237, 45)"/><path fill="#99ed2d" d="M562.7 277.6h2.86v2.86h-2.86zM562.7 280.1h2.86v2.86h-2.86zM562.7 282.6h2.86v2.86h-2.86zM562.7 285.1h2.86v2.86h-2.86zM562.7 287.7h2.86v2.86h-2.86zM565.2 277.6h2.86v2.86h-2.86zM565.2 280.1h2.86v2.86h-2.86zM565.2 282.6h2.86v2.86h-2.86zM565.2 285.1h2.86v2.86h-2.86zM565.2 287.7h2.86v2.86h-2.86zM567.7 277.6h2.86v2.86h-2.86zM567.7 280.1h2.86v2.86h-2.86zM567.7 282.6h2.86v2.86h-2.86zM567.7 285.1h2.86v2.86h-2.86zM567.7 287.7h2.86v2.86h-2.86zM570.2 277.6h2.86v2.86h-2.86zM570.2 280.1h2.86v2.86h-2.86zM570.2 282.6h2.86v2.86h-2.86zM570.2 285.1h2.86v2.86h-2.86zM570.2 287.7h2.86v2.86h-2.86zM572.8 277.6h2.86v2.86h-2.86zM572.8 280.1h2.86v2.86h-2.86zM572.8 282.6h2.86v2.86h-2.86zM572.8 285.1h2.86v2.86h-2.86zM572.8 287.7h2.86v2.86h-2.86zM575.3 290.2h2.86v2.86h-2.86zM575.3 292.7h2.86v2.86h-2.86zM575.3 295.2h2.86v2.86h-2.86zM575.3 297.7h2.86v2.86h-2.86zM577.8 290.2h2.86v2.86h-2.86zM577.8 292.7h2.86v2.86h-2.86zM577.8 295.2h2.86v2.86h-2.86zM577.8 297.7h2.86v2.86h-2.86zM580.3 290.2h2.86v2.86h-2.86zM580.3 292.7h2.86v2.86h-2.86zM580.3 295.2h2.86v2.86h-2.86zM580.3 297.7h2.86v2.86h-2.86zM582.8 297.7h2.86v2.86h-2.86zM585.3 300.2h2.86v2.86h-2.86zM587.8 302.7h2.86v2.86h-2.86zM590.4 305.3h2.86v2.86h-2.86zM592.9 307.8h2.86v2.86h-2.86zM595.4 310.3h2.86v2.86h-2.86zM595.4 325.4h2.86v2.86h-2.86zM595.4 327.9h2.86v2.86h-2.86zM595.4 340.5h2.86v2.86h-2.86zM595.4 348.0h2.86v2.86h-2.86zM597.9 312.8h2.86v2.86h-2.86zM597.9 360.6h2.86v2.86h-2.86zM600.4 315.3h2.86v2.86h-2.86zM600.4 360.6h2.86v2.86h-2.86zM602.9 317.8h2.86v2.86h-2.86zM602.9 320.4h2.86v2.86h-2.86zM602.9 322.9h2.86v2.86h-2.86zM602.9 325.4h2.86v2.86h-2.86zM602.9 327.9h2.86v2.86h-2.86zM602.9 330.4h2.86v2.86h-2.86zM602.9 332.9h2.86v2.86h-2.86zM602.9 335.4h2.86v2.86h-2.86zM602.9 338.0h2.86v2.86h-2.86zM602.9 348.0h2.86v2.86h-2.86zM602.9 350.5h2.86v2.86h-2.86zM602.9 353.0h2.86v2.86h-2.86zM602.9 355.6h2.86v2.86h-2.86zM602.9 358.1h2.86v2.86h-2.86zM602.9 360.6h2.86v2.86h-2.86zM605.5 317.8h2.86v2.86h-2.86zM605.5 320.4h2.86v2.86h-2.86zM605.5 322.9h2.86v2.86h-2.86zM605.5 325.4h2.86v2.86h-2.86zM605.5 327.9h2.86v2.86h-2.86zM605.5 330.4h2.86v2.86h-2.86zM605.5 332.9h2.86v2.86h-2.86zM605.5 335.4h2.86v2.86h-2.86zM605.5 338.0h2.86v2.86h-2.86zM605.5 348.0h2.86v2.86h-2.86zM605.5 350.5h2.86v2.86h-2.86zM605.5 353.0h2.86v2.86h-2.86zM605.5 355.6h2.86v2.86h-2.86zM605.5 358.1h2.86v2.86h-2.86zM605.5 360.6h2.86v2.86h-2.86zM608.0 317.8h2.86v2.86h-2.86zM608.0 320.4h2.86v2.86h-2.86zM608.0 322.9h2.86v2.86h-2.86zM608.0 325.4h2.86v2.86h-2.86zM608.0 327.9h2.86v2.86h-2.86zM608.0 330.4h2.86v2.86h-2.86zM608.0 332.9h2.86v2.86h-2.86zM608.0 335.4h2.86v2.86h-2.86zM608.0 338.0h2.86v2.86h-2.86zM608.0 348.0h2.86v2.86h-2.86zM608.0 350.5h2.86v2.86h-2.86zM608.0 353.0h2.86v2.86h-2.86zM608.0 355.6h2.86v2.86h-2.86zM608.0 358.1h2.86v2.86h-2.86zM608.0 360.6h2.86v2.86h-2.86zM610.5 317.8h2.86v2.86h-2.86zM610.5 320.4h2.86v2.86h-2.86zM610.5 322.9h2.86v2.86h-2.86zM610.5 325.4h2.86v2.86h-2.86zM610.5 327.9h2.86v2.86h-2.86zM610.5 330.4h2.86v2.86h-2.86zM610.5 332.9h2.86v2.86h-2.86zM610.5 335.4h2.86v2.86h-2.86zM610.5 338.0h2.86v2.86h-2.86zM610.5 348.0h2.86v2.86h-2.86zM610.5 350.5h2.86v2.86h-2.86zM610.5 353.0h2.86v2.86h-2.86zM610.5 355.6h2.86v2.86h-2.86zM610.5 358.1h2.86v2.86h-2.86zM610.5 360.6h2.86v2.86h-2.86zM613.0 317.8h2.86v2.86h-2.86zM613.0 320.4h2.86v2.86h-2.86zM613.0 322.9h2.86v2.86h-2.86zM613.0 325.4h2.86v2.86h-2.86zM613.0 327.9h2.86v2.86h-2.86zM613.0 330.4h2.86v2.86h-2.86zM613.0 332.9h2.86v2.86h-2.86zM613.0 335.4h2.86v2.86h-2.86zM613.0 338.0h2.86v2.86h-2.86zM613.0 348.0h2.86v2.86h-2.86zM613.0 350.5h2.86v2.86h-2.86zM613.0 353.0h2.86v2.86h-2.86zM613.0 355.6h2.86v2.86h-2.86zM613.0 358.1h2.86v2.86h-2.86zM613.0 360.6h2.86v2.86h-2.86zM615.5 317.8h2.86v2.86h-2.86zM615.5 320.4h2.86v2.86h-2.86zM615.5 322.9h2.86v2.86h-2.86zM615.5 325.4h2.86v2.86h-2.86zM615.5 327.9h2.86v2.86h-2.86zM615.5 330.4h2.86v2.86h-2.86zM615.5 332.9h2.86v2.86h-2.86zM615.5 335.4h2.86v2.86h-2.86zM615.5 338.0h2.86v2.86h-2.86zM615.5 348.0h2.86v2.86h-2.86zM615.5 350.5h2.86v2.86h-2.86zM615.5 353.0h2.86v2.86h-2.86zM615.5 355.6h2.86v2.86h-2.86zM615.5 358.1h2.86v2.86h-2.86zM615.5 360.6h2.86v2.86h-2.86zM618.0 317.8h2.86v2.86h-2.86zM618.0 320.4h2.86v2.86h-2.86zM618.0 322.9h2.86v2.86h-2.86zM618.0 325.4h2.86v2.86h-2.86zM618.0 327.9h2.86v2.86h-2.86zM618.0 330.4h2.86v2.86h-2.86zM618.0 332.9h2.86v2.86h-2.86zM618.0 335.4h2.86v2.86h-2.86zM618.0 338.0h2.86v2.86h-2.86zM618.0 348.0h2.86v2.86h-2.86zM618.0 350.5h2.86v2.86h-2.86zM618.0 353.0h2.86v2.86h-2.86zM618.0 355.6h2.86v2.86h-2.86zM618.0 358.1h2.86v2.86h-2.86zM618.0 360.6h2.86v2.86h-2.86zM620.5 317.8h2.86v2.86h-2.86zM620.5 320.4h2.86v2.86h-2.86zM620.5 322.9h2.86v2.86h-2.86zM620.5 325.4h2.86v2.86h-2.86zM620.5 327.9h2.86v2.86h-2.86zM620.5 330.4h2.86v2.86h-2.86zM620.5 332.9h2.86v2.86h-2.86zM620.5 335.4h2.86v2.86h-2.86zM620.5 338.0h2.86v2.86h-2.86zM620.5 348.0h2.86v2.86h-2.86zM620.5 350.5h2.86v2.86h-2.86zM620.5 353.0h2.86v2.86h-2.86zM620.5 355.6h2.86v2.86h-2.86zM620.5 358.1h2.86v2.86h-2.86zM620.5 360.6h2.86v2.86h-2.86zM623.1 317.8h2.86v2.86h-2.86zM623.1 320.4h2.86v2.86h-2.86zM623.1 322.9h2.86v2.86h-2.86zM623.1 325.4h2.86v2.86h-2.86zM623.1 327.9h2.86v2.86h-2.86zM623.1 330.4h2.86v2.86h-2.86zM623.1 332.9h2.86v2.86h-2.86zM623.1 335.4h2.86v2.86h-2.86zM623.1 338.0h2.86v2.86h-2.86zM623.1 348.0h2.86v2.86h-2.86zM623.1 350.5h2.86v2.86h-2.86zM623.1 353.0h2.86v2.86h-2.86zM623.1 355.6h2.86v2.86h-2.86zM623.1 358.1h2.86v2.86h-2.86zM623.1 360.6h2.86v2.86h-2.86zM625.6 310.3h2.86v2.86h-2.86zM625.6 317.8h2.86v2.86h-2.86zM625.6 320.4h2.86v2.86h-2.86zM625.6 322.9h2.86v2.86h-2.86zM625.6 325.4h2.86v2.86h-2.86zM625.6 327.9h2.86v2.86h-2.86zM625.6 330.4h2.86v2.86h-2.86zM625.6 332.9h2.86v2.86h-2.86zM625.6 335.4h2.86v2.86h-2.86zM625.6 338.0h2.86v2.86h-2.86zM625.6 340.5h2.86v2.86h-2.86zM625.6 348.0h2.86v2.86h-2.86zM625.6 350.5h2.86v2.86h-2.86zM625.6 353.0h2.86v2.86h-2.86zM625.6 355.6h2.86v2.86h-2.86zM625.6 358.1h2.86v2.86h-2.86zM625.6 360.6h2.86v2.86h-2.86zM628.1 343.0h2.86v2.86h-2.86zM630.6 310.3h2.86v2.86h-2.86zM630.6 340.5h2.86v2.86h-2.86zM630.6 345.5h2.86v2.86h-2.86zM630.6 360.6h2.86v2.86h-2.86zM633.1 317.8h2.86v2.86h-2.86zM633.1 320.4h2.86v2.86h-2.86zM633.1 322.9h2.86v2.86h-2.86zM633.1 325.4h2.86v2.86h-2.86zM633.1 327.9h2.86v2.86h-2.86zM633.1 330.4h2.86v2.86h-2.86zM633.1 332.9h2.86v2.86h-2.86zM633.1 335.4h2.86v2.86h-2.86zM633.1 338.0h2.86v2.86h-2.86zM633.1 348.0h2.86v2.86h-2.86zM633.1 350.5h2.86v2.86h-2.86zM633.1 353.0h2.86v2.86h-2.86zM633.1 355.6h2.86v2.86h-2.86zM633.1 358.1h2.86v2.86h-2.86zM633.1 360.6h2.86v2.86h-2.86zM635.6 317.8h2.86v2.86h-2.86zM635.6 320.4h2.86v2.86h-2.86zM635.6 322.9h2.86v2.86h-2.86zM635.6 325.4h2.86v2.86h-2.86zM635.6 327.9h2.86v2.86h-2.86zM635.6 330.4h2.86v2.86h-2.86zM635.6 332.9h2.86v2.86h-2.86zM635.6 335.4h2.86v2.86h-2.86zM635.6 338.0h2.86v2.86h-2.86zM635.6 348.0h2.86v2.86h-2.86zM635.6 350.5h2.86v2.86h-2.86zM635.6 353.0h2.86v2.86h-2.86zM635.6 355.6h2.86v2.86h-2.86zM635.6 358.1h2.86v2.86h-2.86zM635.6 360.6h2.86v2.86h-2.86zM638.1 317.8h2.86v2.86h-2.86zM638.1 320.4h2.86v2.86h-2.86zM638.1 322.9h2.86v2.86h-2.86zM638.1 325.4h2.86v2.86h-2.86zM638.1 327.9h2.86v2.86h-2.86zM638.1 330.4h2.86v2.86h-2.86zM638.1 332.9h2.86v2.86h-2.86zM638.1 335.4h2.86v2.86h-2.86zM638.1 338.0h2.86v2.86h-2.86zM638.1 348.0h2.86v2.86h-2.86zM638.1 350.5h2.86v2.86h-2.86zM638.1 353.0h2.86v2.86h-2.86zM638.1 355.6h2.86v2.86h-2.86zM638.1 358.1h2.86v2.86h-2.86zM638.1 360.6h2.86v2.86h-2.86zM640.7 317.8h2.86v2.86h-2.86zM640.7 320.4h2.86v2.86h-2.86zM640.7 322.9h2.86v2.86h-2.86zM640.7 325.4h2.86v2.86h-2.86zM640.7 327.9h2.86v2.86h-2.86zM640.7 330.4h2.86v2.86h-2.86zM640.7 332.9h2.86v2.86h-2.86zM640.7 335.4h2.86v2.86h-2.86zM640.7 338.0h2.86v2.86h-2.86zM640.7 348.0h2.86v2.86h-2.86zM640.7 350.5h2.86v2.86h-2.86zM640.7 353.0h2.86v2.86h-2.86zM640.7 355.6h2.86v2.86h-2.86zM640.7 358.1h2.86v2.86h-2.86zM640.7 360.6h2.86v2.86h-2.86zM643.2 312.8h2.86v2.86h-2.86zM643.2 315.3h2.86v2.86h-2.86zM643.2 317.8h2.86v2.86h-2.86zM643.2 320.4h2.86v2.86h-2.86zM643.2 322.9h2.86v2.86h-2.86zM643.2 325.4h2.86v2.86h-2.86zM643.2 327.9h2.86v2.86h-2.86zM643.2 330.4h2.86v2.86h-2.86zM643.2 332.9h2.86v2.86h-2.86zM643.2 335.4h2.86v2.86h-2.86zM643.2 338.0h2.86v2.86h-2.86zM643.2 348.0h2.86v2.86h-2.86zM643.2 350.5h2.86v2.86h-2.86zM643.2 353.0h2.86v2.86h-2.86zM643.2 355.6h2.86v2.86h-2.86zM643.2 358.1h2.86v2.86h-2.86zM643.2 360.6h2.86v2.86h-2.86zM645.7 315.3h2.86v2.86h-2.86zM645.7 317.8h2.86v2.86h-2.86zM645.7 320.4h2.86v2.86h-2.86zM645.7 322.9h2.86v2.86h-2.86zM645.7 325.4h2.86v2.86h-2.86zM645.7 327.9h2.86v2.86h-2.86zM645.7 330.4h2.86v2.86h-2.86zM645.7 332.9h2.86v2.86h-2.86zM645.7 335.4h2.86v2.86h-2.86zM645.7 338.0h2.86v2.86h-2.86zM645.7 348.0h2.86v2.86h-2.86zM645.7 350.5h2.86v2.86h-2.86zM645.7 353.0h2.86v2.86h-2.86zM645.7 355.6h2.86v2.86h-2.86zM645.7 358.1h2.86v2.86h-2.86zM645.7 360.6h2.86v2.86h-2.86z"/><path fill="#5de727" d="M562.7 290.2h2.86v2.86h-2.86zM562.7 292.7h2.86v2.86h-2.86zM562.7 295.2h2.86v2.86h-2.86zM562.7 297.7h2.86v2.86h-2.86zM562.7 300.2h2.86v2.86h-2.86zM562.7 302.7h2.86v2.86h-2.86zM562.7 305.3h2.86v2.86h-2.86zM562.7 307.8h2.86v2.86h-2.86zM562.7 310.3h2.86v2.86h-2.86zM562.7 312.8h2.86v2.86h-2.86zM562.7 315.3h2.86v2.86h-2.86zM562.7 317.8h2.86v2.86h-2.86zM562.7 320.4h2.86v2.86h-2.86zM562.7 322.9h2.86v2.86h-2.86zM562.7 325.4h2.86v2.86h-2.86zM562.7 327.9h2.86v2.86h-2.86zM562.7 330.4h2.86v2.86h-2.86zM562.7 332.9h2.86v2.86h-2.86zM562.7 335.4h2.86v2.86h-2.86zM562.7 338.0h2.86v2.86h-2.86zM562.7 340.5h2.86v2.86h-2.86zM562.7 343.0h2.86v2.86h-2.86zM562.7 345.5h2.86v2.86h-2.86zM562.7 348.0h2.86v2.86h-2.86zM562.7 350.5h2.86v2.86h-2.86zM562.7 353.0h2.86v2.86h-2.86zM562.7 355.6h2.86v2.86h-2.86zM562.7 358.1h2.86v2.86h-2.86zM562.7 360.6h2.86v2.86h-2.86zM565.2 290.2h2.86v2.86h-2.86zM565.2 292.7h2.86v2.86h-2.86zM565.2 295.2h2.86v2.86h-2.86zM565.2 297.7h2.86v2.86h-2.86zM565.2 300.2h2.86v2.86h-2.86zM565.2 302.7h2.86v2.86h-2.86zM565.2 305.3h2.86v2.86h-2.86zM565.2 307.8h2.86v2.86h-2.86zM565.2 320.4h2.86v2.86h-2.86zM565.2 322.9h2.86v2.86h-2.86zM565.2 325.4h2.86v2.86h-2.86zM565.2 335.4h2.86v2.86h-2.86zM565.2 338.0h2.86v2.86h-2.86zM565.2 340.5h2.86v2.86h-2.86zM565.2 343.0h2.86v2.86h-2.86zM565.2 345.5h2.86v2.86h-2.86zM565.2 348.0h2.86v2.86h-2.86zM565.2 350.5h2.86v2.86h-2.86zM565.2 353.0h2.86v2.86h-2.86zM565.2 355.6h2.86v2.86h-2.86zM565.2 358.1h2.86v2.86h-2.86zM565.2 360.6h2.86v2.86h-2.86zM567.7 290.2h2.86v2.86h-2.86zM567.7 292.7h2.86v2.86h-2.86zM567.7 295.2h2.86v2.86h-2.86zM567.7 297.7h2.86v2.86h-2.86zM567.7 300.2h2.86v2.86h-2.86zM570.2 290.2h2.86v2.86h-2.86zM570.2 292.7h2.86v2.86h-2.86zM570.2 295.2h2.86v2.86h-2.86zM570.2 297.7h2.86v2.86h-2.86zM570.2 300.2h2.86v2.86h-2.86zM572.8 290.2h2.86v2.86h-2.86zM572.8 292.7h2.86v2.86h-2.86zM572.8 295.2h2.86v2.86h-2.86zM572.8 297.7h2.86v2.86h-2.86zM590.4 320.4h2.86v2.86h-2.86zM590.4 325.4h2.86v2.86h-2.86zM590.4 335.4h2.86v2.86h-2.86zM592.9 315.3h2.86v2.86h-2.86zM635.6 312.8h2.86v2.86h-2.86z"/><path fill="#57e727" d="M565.2 310.3h2.86v2.86h-2.86zM565.2 312.8h2.86v2.86h-2.86zM565.2 315.3h2.86v2.86h-2.86zM565.2 317.8h2.86v2.86h-2.86zM565.2 327.9h2.86v2.86h-2.86zM565.2 330.4h2.86v2.86h-2.86zM565.2 332.9h2.86v2.86h-2.86zM567.7 302.7h2.86v2.86h-2.86zM567.7 360.6h2.86v2.86h-2.86zM572.8 300.2h2.86v2.86h-2.86zM587.8 305.3h2.86v2.86h-2.86zM590.4 310.3h2.86v2.86h-2.86zM595.4 315.3h2.86v2.86h-2.86zM613.0 315.3h2.86v2.86h-2.86z"/><path fill="#51e727" d="M567.7 305.3h2.86v2.86h-2.86zM567.7 307.8h2.86v2.86h-2.86zM567.7 310.3h2.86v2.86h-2.86zM567.7 317.8h2.86v2.86h-2.86zM567.7 320.4h2.86v2.86h-2.86zM567.7 322.9h2.86v2.86h-2.86zM567.7 325.4h2.86v2.86h-2.86zM567.7 327.9h2.86v2.86h-2.86zM567.7 332.9h2.86v2.86h-2.86zM567.7 335.4h2.86v2.86h-2.86zM567.7 338.0h2.86v2.86h-2.86zM567.7 340.5h2.86v2.86h-2.86zM567.7 343.0h2.86v2.86h-2.86zM567.7 345.5h2.86v2.86h-2.86zM567.7 348.0h2.86v2.86h-2.86zM567.7 350.5h2.86v2.86h-2.86zM567.7 353.0h2.86v2.86h-2.86zM567.7 355.6h2.86v2.86h-2.86zM567.7 358.1h2.86v2.86h-2.86zM575.3 302.7h2.86v2.86h-2.86zM590.4 332.9h2.86v2.86h-2.86zM618.0 312.8h2.86v2.86h-2.86zM630.6 315.3h2.86v2.86h-2.86z"/><path fill="#4be121" d="M567.7 312.8h2.86v2.86h-2.86zM567.7 315.3h2.86v2.86h-2.86zM567.7 330.4h2.86v2.86h-2.86zM570.2 302.7h2.86v2.86h-2.86zM590.4 317.8h2.86v2.86h-2.86zM590.4 327.9h2.86v2.86h-2.86z"/><path fill="#3fe121" d="M570.2 305.3h2.86v2.86h-2.86zM570.2 307.8h2.86v2.86h-2.86zM570.2 320.4h2.86v2.86h-2.86zM570.2 322.9h2.86v2.86h-2.86zM570.2 325.4h2.86v2.86h-2.86zM570.2 335.4h2.86v2.86h-2.86zM570.2 338.0h2.86v2.86h-2.86zM570.2 340.5h2.86v2.86h-2.86zM570.2 343.0h2.86v2.86h-2.86zM570.2 345.5h2.86v2.86h-2.86zM570.2 348.0h2.86v2.86h-2.86zM570.2 350.5h2.86v2.86h-2.86zM570.2 353.0h2.86v2.86h-2.86zM570.2 355.6h2.86v2.86h-2.86zM570.2 358.1h2.86v2.86h-2.86zM608.0 312.8h2.86v2.86h-2.86z"/><path fill="#39e121" d="M570.2 310.3h2.86v2.86h-2.86zM570.2 332.9h2.86v2.86h-2.86zM575.3 360.6h2.86v2.86h-2.86zM587.8 307.8h2.86v2.86h-2.86zM590.4 312.8h2.86v2.86h-2.86zM628.1 307.8h2.86v2.86h-2.86z"/><path fill="#33e133" d="M570.2 312.8h2.86v2.86h-2.86zM572.8 360.6h2.86v2.86h-2.86zM587.8 325.4h2.86v2.86h-2.86z"/><path fill="#39e139" d="M570.2 315.3h2.86v2.86h-2.86zM575.3 305.3h2.86v2.86h-2.86zM587.8 320.4h2.86v2.86h-2.86zM628.1 360.6h2.86v2.86h-2.86z"/><path fill="#33e121" d="M570.2 317.8h2.86v2.86h-2.86zM570.2 327.9h2.86v2.86h-2.86zM572.8 302.7h2.86v2.86h-2.86zM587.8 343.0h2.86v2.86h-2.86zM587.8 358.1h2.86v2.86h-2.86zM590.4 315.3h2.86v2.86h-2.86zM590.4 330.4h2.86v2.86h-2.86z"/><path fill="#33e139" d="M570.2 330.4h2.86v2.86h-2.86z"/><path fill="#45e121" d="M570.2 360.6h2.86v2.86h-2.86zM585.3 302.7h2.86v2.86h-2.86zM587.8 360.6h2.86v2.86h-2.86zM592.9 312.8h2.86v2.86h-2.86z"/><path fill="#39e751" d="M572.8 305.3h2.86v2.86h-2.86zM575.3 335.4h2.86v2.86h-2.86zM582.8 302.7h2.86v2.86h-2.86z"/><path fill="#3fe75d" d="M572.8 307.8h2.86v2.86h-2.86zM572.8 325.4h2.86v2.86h-2.86zM572.8 335.4h2.86v2.86h-2.86zM575.3 320.4h2.86v2.86h-2.86zM580.3 302.7h2.86v2.86h-2.86zM585.3 360.6h2.86v2.86h-2.86z"/><path fill="#45e787" d="M572.8 310.3h2.86v2.86h-2.86zM628.1 340.5h2.86v2.86h-2.86zM628.1 358.1h2.86v2.86h-2.86z"/><path fill="#57edd5" d="M572.8 312.8h2.86v2.86h-2.86z"/><path fill="#5deddb" d="M572.8 315.3h2.86v2.86h-2.86zM572.8 330.4h2.86v2.86h-2.86zM577.8 322.9h2.86v2.86h-2.86z"/><path fill="#4be793" d="M572.8 317.8h2.86v2.86h-2.86zM585.3 305.3h2.86v2.86h-2.86z"/><path fill="#3fe763" d="M572.8 320.4h2.86v2.86h-2.86zM587.8 310.3h2.86v2.86h-2.86z"/><path fill="#3fe757" d="M572.8 322.9h2.86v2.86h-2.86zM572.8 338.0h2.86v2.86h-2.86zM572.8 340.5h2.86v2.86h-2.86zM572.8 343.0h2.86v2.86h-2.86zM572.8 345.5h2.86v2.86h-2.86zM572.8 348.0h2.86v2.86h-2.86zM572.8 350.5h2.86v2.86h-2.86zM572.8 353.0h2.86v2.86h-2.86zM572.8 355.6h2.86v2.86h-2.86zM575.3 307.8h2.86v2.86h-2.86z"/><path fill="#4be799" d="M572.8 327.9h2.86v2.86h-2.86z"/><path fill="#4be787" d="M572.8 332.9h2.86v2.86h-2.86zM587.8 317.8h2.86v2.86h-2.86zM615.5 312.8h2.86v2.86h-2.86z"/><path fill="#3fe751" d="M572.8 358.1h2.86v2.86h-2.86zM575.3 325.4h2.86v2.86h-2.86z"/><path fill="#c3f32d" d="M575.3 277.6h2.86v2.86h-2.86zM575.3 280.1h2.86v2.86h-2.86zM575.3 282.6h2.86v2.86h-2.86zM575.3 285.1h2.86v2.86h-2.86zM575.3 287.7h2.86v2.86h-2.86zM577.8 277.6h2.86v2.86h-2.86zM577.8 280.1h2.86v2.86h-2.86zM577.8 282.6h2.86v2.86h-2.86zM577.8 285.1h2.86v2.86h-2.86zM577.8 287.7h2.86v2.86h-2.86zM580.3 277.6h2.86v2.86h-2.86zM580.3 280.1h2.86v2.86h-2.86zM580.3 282.6h2.86v2.86h-2.86zM580.3 285.1h2.86v2.86h-2.86zM580.3 287.7h2.86v2.86h-2.86zM582.8 277.6h2.86v2.86h-2.86zM582.8 280.1h2.86v2.86h-2.86zM582.8 282.6h2.86v2.86h-2.86zM582.8 285.1h2.86v2.86h-2.86zM582.8 287.7h2.86v2.86h-2.86zM585.3 277.6h2.86v2.86h-2.86zM585.3 280.1h2.86v2.86h-2.86zM585.3 282.6h2.86v2.86h-2.86zM585.3 285.1h2.86v2.86h-2.86zM585.3 287.7h2.86v2.86h-2.86zM587.8 277.6h2.86v2.86h-2.86zM587.8 280.1h2.86v2.86h-2.86zM587.8 282.6h2.86v2.86h-2.86zM590.4 277.6h2.86v2.86h-2.86zM590.4 280.1h2.86v2.86h-2.86zM590.4 282.6h2.86v2.86h-2.86zM590.4 302.7h2.86v2.86h-2.86zM592.9 277.6h2.86v2.86h-2.86zM592.9 280.1h2.86v2.86h-2.86zM592.9 282.6h2.86v2.86h-2.86zM595.4 277.6h2.86v2.86h-2.86zM595.4 280.1h2.86v2.86h-2.86zM595.4 305.3h2.86v2.86h-2.86zM597.9 277.6h2.86v2.86h-2.86zM597.9 280.1h2.86v2.86h-2.86zM597.9 332.9h2.86v2.86h-2.86zM597.9 350.5h2.86v2.86h-2.86zM600.4 277.6h2.86v2.86h-2.86zM600.4 280.1h2.86v2.86h-2.86zM600.4 307.8h2.86v2.86h-2.86zM600.4 310.3h2.86v2.86h-2.86zM600.4 325.4h2.86v2.86h-2.86zM600.4 327.9h2.86v2.86h-2.86zM600.4 345.5h2.86v2.86h-2.86zM602.9 277.6h2.86v2.86h-2.86zM602.9 280.1h2.86v2.86h-2.86zM605.5 277.6h2.86v2.86h-2.86zM605.5 280.1h2.86v2.86h-2.86zM605.5 282.6h2.86v2.86h-2.86zM605.5 305.3h2.86v2.86h-2.86zM608.0 277.6h2.86v2.86h-2.86zM608.0 280.1h2.86v2.86h-2.86zM608.0 282.6h2.86v2.86h-2.86zM610.5 277.6h2.86v2.86h-2.86zM610.5 280.1h2.86v2.86h-2.86zM610.5 282.6h2.86v2.86h-2.86zM610.5 305.3h2.86v2.86h-2.86zM613.0 277.6h2.86v2.86h-2.86zM613.0 280.1h2.86v2.86h-2.86zM615.5 277.6h2.86v2.86h-2.86zM615.5 280.1h2.86v2.86h-2.86zM618.0 277.6h2.86v2.86h-2.86zM618.0 280.1h2.86v2.86h-2.86zM620.5 277.6h2.86v2.86h-2.86zM620.5 280.1h2.86v2.86h-2.86zM620.5 282.6h2.86v2.86h-2.86zM620.5 305.3h2.86v2.86h-2.86zM623.1 277.6h2.86v2.86h-2.86zM623.1 280.1h2.86v2.86h-2.86zM623.1 282.6h2.86v2.86h-2.86zM625.6 277.6h2.86v2.86h-2.86zM625.6 280.1h2.86v2.86h-2.86zM625.6 282.6h2.86v2.86h-2.86zM628.1 277.6h2.86v2.86h-2.86zM628.1 280.1h2.86v2.86h-2.86zM628.1 282.6h2.86v2.86h-2.86zM630.6 277.6h2.86v2.86h-2.86zM630.6 280.1h2.86v2.86h-2.86zM630.6 282.6h2.86v2.86h-2.86zM633.1 277.6h2.86v2.86h-2.86zM633.1 280.1h2.86v2.86h-2.86zM633.1 282.6h2.86v2.86h-2.86zM635.6 277.6h2.86v2.86h-2.86zM635.6 280.1h2.86v2.86h-2.86zM635.6 282.6h2.86v2.86h-2.86zM638.1 277.6h2.86v2.86h-2.86zM638.1 280.1h2.86v2.86h-2.86zM638.1 282.6h2.86v2.86h-2.86zM640.7 277.6h2.86v2.86h-2.86zM640.7 280.1h2.86v2.86h-2.86zM640.7 282.6h2.86v2.86h-2.86zM643.2 277.6h2.86v2.86h-2.86zM643.2 280.1h2.86v2.86h-2.86zM643.2 282.6h2.86v2.86h-2.86zM645.7 277.6h2.86v2.86h-2.86zM645.7 280.1h2.86v2.86h-2.86zM645.7 282.6h2.86v2.86h-2.86z"/><path fill="#8ded2d" d="M575.3 300.2h2.86v2.86h-2.86zM590.4 343.0h2.86v2.86h-2.86zM623.1 315.3h2.86v2.86h-2.86zM638.1 312.8h2.86v2.86h-2.86zM640.7 312.8h2.86v2.86h-2.86z"/><path fill="#4bed9f" d="M575.3 310.3h2.86v2.86h-2.86zM575.3 332.9h2.86v2.86h-2.86z"/><path fill="#57e1f3" d="M575.3 312.8h2.86v2.86h-2.86zM575.3 330.4h2.86v2.86h-2.86zM580.3 322.9h2.86v2.86h-2.86zM580.3 338.0h2.86v2.86h-2.86zM580.3 340.5h2.86v2.86h-2.86zM580.3 343.0h2.86v2.86h-2.86zM580.3 345.5h2.86v2.86h-2.86zM580.3 348.0h2.86v2.86h-2.86zM580.3 350.5h2.86v2.86h-2.86zM580.3 353.0h2.86v2.86h-2.86zM580.3 355.6h2.86v2.86h-2.86zM582.8 322.9h2.86v2.86h-2.86zM582.8 335.4h2.86v2.86h-2.86zM585.3 310.3h2.86v2.86h-2.86zM585.3 332.9h2.86v2.86h-2.86zM628.1 315.3h2.86v2.86h-2.86z"/><path fill="#57dbf3" d="M575.3 315.3h2.86v2.86h-2.86zM580.3 307.8h2.86v2.86h-2.86zM580.3 325.4h2.86v2.86h-2.86zM580.3 335.4h2.86v2.86h-2.86zM582.8 307.8h2.86v2.86h-2.86zM582.8 320.4h2.86v2.86h-2.86zM582.8 325.4h2.86v2.86h-2.86z"/><path fill="#51edb7" d="M575.3 317.8h2.86v2.86h-2.86zM580.3 360.6h2.86v2.86h-2.86zM585.3 338.0h2.86v2.86h-2.86zM585.3 340.5h2.86v2.86h-2.86zM585.3 343.0h2.86v2.86h-2.86zM585.3 345.5h2.86v2.86h-2.86zM585.3 348.0h2.86v2.86h-2.86zM585.3 350.5h2.86v2.86h-2.86zM585.3 353.0h2.86v2.86h-2.86zM585.3 355.6h2.86v2.86h-2.86zM610.5 312.8h2.86v2.86h-2.86z"/><path fill="#39e14b" d="M575.3 322.9h2.86v2.86h-2.86zM575.3 338.0h2.86v2.86h-2.86zM575.3 340.5h2.86v2.86h-2.86zM575.3 343.0h2.86v2.86h-2.86zM575.3 345.5h2.86v2.86h-2.86zM575.3 348.0h2.86v2.86h-2.86zM575.3 350.5h2.86v2.86h-2.86zM575.3 353.0h2.86v2.86h-2.86zM575.3 355.6h2.86v2.86h-2.86z"/><path fill="#57edbd" d="M575.3 327.9h2.86v2.86h-2.86zM577.8 305.3h2.86v2.86h-2.86zM585.3 322.9h2.86v2.86h-2.86z"/><path fill="#39e13f" d="M575.3 358.1h2.86v2.86h-2.86z"/><path fill="#87ed2d" d="M577.8 300.2h2.86v2.86h-2.86zM582.8 300.2h2.86v2.86h-2.86zM592.9 340.5h2.86v2.86h-2.86zM592.9 345.5h2.86v2.86h-2.86zM592.9 360.6h2.86v2.86h-2.86zM620.5 312.8h2.86v2.86h-2.86zM635.6 315.3h2.86v2.86h-2.86z"/><path fill="#33e127" d="M577.8 302.7h2.86v2.86h-2.86zM587.8 338.0h2.86v2.86h-2.86zM587.8 340.5h2.86v2.86h-2.86zM587.8 345.5h2.86v2.86h-2.86zM587.8 348.0h2.86v2.86h-2.86zM587.8 350.5h2.86v2.86h-2.86zM587.8 353.0h2.86v2.86h-2.86zM587.8 355.6h2.86v2.86h-2.86z"/><path fill="#5dede7" d="M577.8 307.8h2.86v2.86h-2.86zM577.8 325.4h2.86v2.86h-2.86z"/><path fill="#57d5f9" d="M577.8 310.3h2.86v2.86h-2.86zM580.3 320.4h2.86v2.86h-2.86z"/><path fill="#3f8df9" d="M577.8 312.8h2.86v2.86h-2.86z"/><path fill="#3f7bf9" d="M577.8 315.3h2.86v2.86h-2.86z"/><path fill="#51c9f9" d="M577.8 317.8h2.86v2.86h-2.86zM577.8 327.9h2.86v2.86h-2.86z"/><path fill="#63edf3" d="M577.8 320.4h2.86v2.86h-2.86z"/><path fill="#3f81f9" d="M577.8 330.4h2.86v2.86h-2.86z"/><path fill="#51d5f9" d="M577.8 332.9h2.86v2.86h-2.86zM585.3 327.9h2.86v2.86h-2.86z"/><path fill="#5dede1" d="M577.8 335.4h2.86v2.86h-2.86z"/><path fill="#5dedd5" d="M577.8 338.0h2.86v2.86h-2.86zM577.8 340.5h2.86v2.86h-2.86zM577.8 343.0h2.86v2.86h-2.86zM577.8 345.5h2.86v2.86h-2.86zM577.8 348.0h2.86v2.86h-2.86zM577.8 350.5h2.86v2.86h-2.86zM577.8 353.0h2.86v2.86h-2.86zM577.8 355.6h2.86v2.86h-2.86zM585.3 320.4h2.86v2.86h-2.86z"/><path fill="#57edc9" d="M577.8 358.1h2.86v2.86h-2.86zM585.3 325.4h2.86v2.86h-2.86z"/><path fill="#45e775" d="M577.8 360.6h2.86v2.86h-2.86zM587.8 332.9h2.86v2.86h-2.86z"/><path fill="#81ed2d" d="M580.3 300.2h2.86v2.86h-2.86zM592.9 310.3h2.86v2.86h-2.86zM592.9 320.4h2.86v2.86h-2.86zM592.9 322.9h2.86v2.86h-2.86zM592.9 325.4h2.86v2.86h-2.86zM592.9 335.4h2.86v2.86h-2.86zM592.9 338.0h2.86v2.86h-2.86zM592.9 348.0h2.86v2.86h-2.86zM592.9 350.5h2.86v2.86h-2.86zM592.9 353.0h2.86v2.86h-2.86zM592.9 355.6h2.86v2.86h-2.86zM592.9 358.1h2.86v2.86h-2.86zM600.4 312.8h2.86v2.86h-2.86zM602.9 312.8h2.86v2.86h-2.86zM605.5 312.8h2.86v2.86h-2.86zM618.0 315.3h2.86v2.86h-2.86z"/><path fill="#5de7f3" d="M580.3 305.3h2.86v2.86h-2.86zM582.8 358.1h2.86v2.86h-2.86z"/><path fill="#45b7ff" d="M580.3 310.3h2.86v2.86h-2.86zM580.3 332.9h2.86v2.86h-2.86zM582.8 332.9h2.86v2.86h-2.86z"/><path fill="#3f27ed" d="M580.3 312.8h2.86v2.86h-2.86zM582.8 330.4h2.86v2.86h-2.86z"/><path fill="#3f1be1" d="M580.3 315.3h2.86v2.86h-2.86z"/><path fill="#3fabff" d="M580.3 317.8h2.86v2.86h-2.86zM585.3 312.8h2.86v2.86h-2.86z"/><path fill="#3fa5ff" d="M580.3 327.9h2.86v2.86h-2.86zM585.3 330.4h2.86v2.86h-2.86z"/><path fill="#3f1bed" d="M580.3 330.4h2.86v2.86h-2.86z"/><path fill="#5de1f3" d="M580.3 358.1h2.86v2.86h-2.86zM582.8 338.0h2.86v2.86h-2.86zM582.8 340.5h2.86v2.86h-2.86zM582.8 343.0h2.86v2.86h-2.86zM582.8 345.5h2.86v2.86h-2.86zM582.8 348.0h2.86v2.86h-2.86zM582.8 350.5h2.86v2.86h-2.86zM582.8 353.0h2.86v2.86h-2.86zM582.8 355.6h2.86v2.86h-2.86z"/><path fill="#9fed2d" d="M582.8 290.2h2.86v2.86h-2.86zM582.8 292.7h2.86v2.86h-2.86zM582.8 295.2h2.86v2.86h-2.86zM595.4 345.5h2.86v2.86h-2.86zM597.9 358.1h2.86v2.86h-2.86zM600.4 353.0h2.86v2.86h-2.86zM600.4 355.6h2.86v2.86h-2.86zM600.4 358.1h2.86v2.86h-2.86zM602.9 340.5h2.86v2.86h-2.86zM602.9 345.5h2.86v2.86h-2.86zM605.5 340.5h2.86v2.86h-2.86zM605.5 345.5h2.86v2.86h-2.86zM608.0 310.3h2.86v2.86h-2.86zM608.0 340.5h2.86v2.86h-2.86zM608.0 345.5h2.86v2.86h-2.86zM610.5 310.3h2.86v2.86h-2.86zM610.5 340.5h2.86v2.86h-2.86zM610.5 345.5h2.86v2.86h-2.86zM613.0 310.3h2.86v2.86h-2.86zM613.0 340.5h2.86v2.86h-2.86zM613.0 345.5h2.86v2.86h-2.86zM615.5 340.5h2.86v2.86h-2.86zM615.5 345.5h2.86v2.86h-2.86zM618.0 340.5h2.86v2.86h-2.86zM618.0 345.5h2.86v2.86h-2.86zM620.5 340.5h2.86v2.86h-2.86zM620.5 345.5h2.86v2.86h-2.86zM623.1 340.5h2.86v2.86h-2.86zM623.1 345.5h2.86v2.86h-2.86zM625.6 345.5h2.86v2.86h-2.86zM633.1 310.3h2.86v2.86h-2.86zM633.1 340.5h2.86v2.86h-2.86zM633.1 345.5h2.86v2.86h-2.86zM635.6 310.3h2.86v2.86h-2.86zM635.6 340.5h2.86v2.86h-2.86zM635.6 345.5h2.86v2.86h-2.86zM638.1 340.5h2.86v2.86h-2.86zM638.1 345.5h2.86v2.86h-2.86zM640.7 340.5h2.86v2.86h-2.86zM640.7 345.5h2.86v2.86h-2.86zM643.2 340.5h2.86v2.86h-2.86zM643.2 345.5h2.86v2.86h-2.86zM645.7 310.3h2.86v2.86h-2.86zM645.7 312.8h2.86v2.86h-2.86zM645.7 340.5h2.86v2.86h-2.86zM645.7 345.5h2.86v2.86h-2.86z"/><path fill="#5dedf3" d="M582.8 305.3h2.86v2.86h-2.86zM587.8 315.3h2.86v2.86h-2.86zM587.8 330.4h2.86v2.86h-2.86zM613.0 312.8h2.86v2.86h-2.86zM630.6 312.8h2.86v2.86h-2.86z"/><path fill="#4bbdf9" d="M582.8 310.3h2.86v2.86h-2.86z"/><path fill="#3f33ed" d="M582.8 312.8h2.86v2.86h-2.86z"/><path fill="#3f21ed" d="M582.8 315.3h2.86v2.86h-2.86z"/><path fill="#45b1ff" d="M582.8 317.8h2.86v2.86h-2.86z"/><path fill="#45abff" d="M582.8 327.9h2.86v2.86h-2.86z"/><path fill="#51edab" d="M582.8 360.6h2.86v2.86h-2.86z"/><path fill="#abed2d" d="M585.3 290.2h2.86v2.86h-2.86zM597.9 353.0h2.86v2.86h-2.86zM597.9 355.6h2.86v2.86h-2.86zM600.4 338.0h2.86v2.86h-2.86zM628.1 305.3h2.86v2.86h-2.86z"/><path fill="#b1f333" d="M585.3 292.7h2.86v2.86h-2.86zM585.3 295.2h2.86v2.86h-2.86zM585.3 297.7h2.86v2.86h-2.86zM595.4 307.8h2.86v2.86h-2.86zM597.9 315.3h2.86v2.86h-2.86zM597.9 317.8h2.86v2.86h-2.86zM597.9 320.4h2.86v2.86h-2.86zM597.9 335.4h2.86v2.86h-2.86zM600.4 332.9h2.86v2.86h-2.86zM600.4 350.5h2.86v2.86h-2.86zM605.5 307.8h2.86v2.86h-2.86zM608.0 307.8h2.86v2.86h-2.86zM610.5 307.8h2.86v2.86h-2.86zM620.5 307.8h2.86v2.86h-2.86zM623.1 307.8h2.86v2.86h-2.86zM625.6 307.8h2.86v2.86h-2.86zM630.6 307.8h2.86v2.86h-2.86zM633.1 307.8h2.86v2.86h-2.86zM635.6 307.8h2.86v2.86h-2.86zM638.1 307.8h2.86v2.86h-2.86zM640.7 307.8h2.86v2.86h-2.86zM643.2 307.8h2.86v2.86h-2.86zM645.7 307.8h2.86v2.86h-2.86z"/><path fill="#57edc3" d="M585.3 307.8h2.86v2.86h-2.86zM585.3 335.4h2.86v2.86h-2.86z"/><path fill="#3f9fff" d="M585.3 315.3h2.86v2.86h-2.86z"/><path fill="#57d5f3" d="M585.3 317.8h2.86v2.86h-2.86z"/><path fill="#51edb1" d="M585.3 358.1h2.86v2.86h-2.86zM595.4 312.8h2.86v2.86h-2.86z"/><path fill="#c9f32d" d="M587.8 285.1h2.86v2.86h-2.86zM587.8 290.2h2.86v2.86h-2.86zM595.4 282.6h2.86v2.86h-2.86zM597.9 282.6h2.86v2.86h-2.86zM597.9 307.8h2.86v2.86h-2.86zM600.4 282.6h2.86v2.86h-2.86zM602.9 282.6h2.86v2.86h-2.86zM602.9 305.3h2.86v2.86h-2.86zM613.0 282.6h2.86v2.86h-2.86zM613.0 305.3h2.86v2.86h-2.86zM615.5 282.6h2.86v2.86h-2.86zM618.0 282.6h2.86v2.86h-2.86zM618.0 305.3h2.86v2.86h-2.86zM645.7 285.1h2.86v2.86h-2.86zM645.7 302.7h2.86v2.86h-2.86z"/><path fill="#cff32d" d="M587.8 287.7h2.86v2.86h-2.86zM587.8 300.2h2.86v2.86h-2.86zM590.4 285.1h2.86v2.86h-2.86zM592.9 285.1h2.86v2.86h-2.86zM592.9 302.7h2.86v2.86h-2.86zM592.9 343.0h2.86v2.86h-2.86zM595.4 285.1h2.86v2.86h-2.86zM597.9 305.3h2.86v2.86h-2.86zM597.9 322.9h2.86v2.86h-2.86zM605.5 285.1h2.86v2.86h-2.86zM608.0 285.1h2.86v2.86h-2.86zM610.5 285.1h2.86v2.86h-2.86zM618.0 285.1h2.86v2.86h-2.86zM620.5 285.1h2.86v2.86h-2.86zM623.1 285.1h2.86v2.86h-2.86zM625.6 285.1h2.86v2.86h-2.86zM628.1 285.1h2.86v2.86h-2.86zM630.6 285.1h2.86v2.86h-2.86zM633.1 285.1h2.86v2.86h-2.86zM635.6 285.1h2.86v2.86h-2.86zM638.1 285.1h2.86v2.86h-2.86zM640.7 285.1h2.86v2.86h-2.86zM643.2 285.1h2.86v2.86h-2.86zM645.7 290.2h2.86v2.86h-2.86z"/><path fill="#d5f32d" d="M587.8 292.7h2.86v2.86h-2.86zM590.4 290.2h2.86v2.86h-2.86zM597.9 285.1h2.86v2.86h-2.86zM597.9 340.5h2.86v2.86h-2.86zM600.4 285.1h2.86v2.86h-2.86zM600.4 305.3h2.86v2.86h-2.86zM602.9 285.1h2.86v2.86h-2.86zM608.0 302.7h2.86v2.86h-2.86zM610.5 302.7h2.86v2.86h-2.86zM613.0 285.1h2.86v2.86h-2.86zM615.5 285.1h2.86v2.86h-2.86zM615.5 305.3h2.86v2.86h-2.86zM620.5 302.7h2.86v2.86h-2.86zM623.1 302.7h2.86v2.86h-2.86zM625.6 302.7h2.86v2.86h-2.86zM628.1 302.7h2.86v2.86h-2.86zM630.6 302.7h2.86v2.86h-2.86zM633.1 302.7h2.86v2.86h-2.86zM635.6 302.7h2.86v2.86h-2.86zM638.1 302.7h2.86v2.86h-2.86zM640.7 302.7h2.86v2.86h-2.86zM643.2 302.7h2.86v2.86h-2.86zM645.7 287.7h2.86v2.86h-2.86z"/><path fill="#dbf32d" d="M587.8 295.2h2.86v2.86h-2.86zM587.8 297.7h2.86v2.86h-2.86zM590.4 287.7h2.86v2.86h-2.86zM592.9 290.2h2.86v2.86h-2.86zM605.5 290.2h2.86v2.86h-2.86zM605.5 302.7h2.86v2.86h-2.86zM608.0 287.7h2.86v2.86h-2.86zM608.0 290.2h2.86v2.86h-2.86zM610.5 290.2h2.86v2.86h-2.86zM620.5 287.7h2.86v2.86h-2.86zM620.5 290.2h2.86v2.86h-2.86zM623.1 287.7h2.86v2.86h-2.86zM623.1 290.2h2.86v2.86h-2.86zM625.6 287.7h2.86v2.86h-2.86zM625.6 290.2h2.86v2.86h-2.86zM628.1 287.7h2.86v2.86h-2.86zM628.1 290.2h2.86v2.86h-2.86zM630.6 287.7h2.86v2.86h-2.86zM630.6 290.2h2.86v2.86h-2.86zM633.1 287.7h2.86v2.86h-2.86zM633.1 290.2h2.86v2.86h-2.86zM635.6 287.7h2.86v2.86h-2.86zM635.6 290.2h2.86v2.86h-2.86zM638.1 287.7h2.86v2.86h-2.86zM638.1 290.2h2.86v2.86h-2.86zM640.7 287.7h2.86v2.86h-2.86zM640.7 290.2h2.86v2.86h-2.86zM643.2 287.7h2.86v2.86h-2.86zM643.2 290.2h2.86v2.86h-2.86zM645.7 300.2h2.86v2.86h-2.86zM645.7 343.0h2.86v2.86h-2.86z"/><path fill="#5df3ed" d="M587.8 312.8h2.86v2.86h-2.86z"/><path fill="#33e12d" d="M587.8 322.9h2.86v2.86h-2.86zM587.8 335.4h2.86v2.86h-2.86zM625.6 312.8h2.86v2.86h-2.86z"/><path fill="#4be78d" d="M587.8 327.9h2.86v2.86h-2.86zM628.1 317.8h2.86v2.86h-2.86zM628.1 320.4h2.86v2.86h-2.86zM628.1 322.9h2.86v2.86h-2.86zM628.1 325.4h2.86v2.86h-2.86zM628.1 327.9h2.86v2.86h-2.86zM628.1 330.4h2.86v2.86h-2.86zM628.1 332.9h2.86v2.86h-2.86zM628.1 335.4h2.86v2.86h-2.86zM628.1 338.0h2.86v2.86h-2.86zM628.1 348.0h2.86v2.86h-2.86zM628.1 350.5h2.86v2.86h-2.86zM628.1 353.0h2.86v2.86h-2.86zM628.1 355.6h2.86v2.86h-2.86z"/><path fill="#edf32d" d="M590.4 292.7h2.86v2.86h-2.86zM592.9 300.2h2.86v2.86h-2.86zM597.9 310.3h2.86v2.86h-2.86zM597.9 325.4h2.86v2.86h-2.86zM602.9 290.2h2.86v2.86h-2.86zM608.0 300.2h2.86v2.86h-2.86zM613.0 290.2h2.86v2.86h-2.86zM620.5 300.2h2.86v2.86h-2.86zM623.1 300.2h2.86v2.86h-2.86zM625.6 300.2h2.86v2.86h-2.86zM628.1 300.2h2.86v2.86h-2.86zM630.6 300.2h2.86v2.86h-2.86zM633.1 300.2h2.86v2.86h-2.86zM635.6 300.2h2.86v2.86h-2.86zM638.1 300.2h2.86v2.86h-2.86zM640.7 300.2h2.86v2.86h-2.86zM643.2 300.2h2.86v2.86h-2.86zM645.7 295.2h2.86v2.86h-2.86zM645.7 297.7h2.86v2.86h-2.86z"/><path fill="#f3e72d" d="M590.4 295.2h2.86v2.86h-2.86zM592.9 297.7h2.86v2.86h-2.86zM595.4 300.2h2.86v2.86h-2.86zM597.9 290.2h2.86v2.86h-2.86zM600.4 343.0h2.86v2.86h-2.86zM608.0 295.2h2.86v2.86h-2.86zM608.0 297.7h2.86v2.86h-2.86zM610.5 297.7h2.86v2.86h-2.86zM615.5 290.2h2.86v2.86h-2.86zM618.0 300.2h2.86v2.86h-2.86zM620.5 297.7h2.86v2.86h-2.86zM623.1 295.2h2.86v2.86h-2.86zM623.1 297.7h2.86v2.86h-2.86zM625.6 295.2h2.86v2.86h-2.86zM625.6 297.7h2.86v2.86h-2.86zM628.1 295.2h2.86v2.86h-2.86zM628.1 297.7h2.86v2.86h-2.86zM630.6 295.2h2.86v2.86h-2.86zM630.6 297.7h2.86v2.86h-2.86zM633.1 295.2h2.86v2.86h-2.86zM633.1 297.7h2.86v2.86h-2.86zM635.6 295.2h2.86v2.86h-2.86zM635.6 297.7h2.86v2.86h-2.86zM638.1 295.2h2.86v2.86h-2.86zM638.1 297.7h2.86v2.86h-2.86zM640.7 295.2h2.86v2.86h-2.86zM640.7 297.7h2.86v2.86h-2.86zM643.2 295.2h2.86v2.86h-2.86zM643.2 297.7h2.86v2.86h-2.86z"/><path fill="#f3ed2d" d="M590.4 297.7h2.86v2.86h-2.86zM592.9 292.7h2.86v2.86h-2.86zM597.9 302.7h2.86v2.86h-2.86zM597.9 327.9h2.86v2.86h-2.86zM597.9 345.5h2.86v2.86h-2.86zM600.4 302.7h2.86v2.86h-2.86zM605.5 292.7h2.86v2.86h-2.86zM615.5 302.7h2.86v2.86h-2.86z"/><path fill="#e7f32d" d="M590.4 300.2h2.86v2.86h-2.86zM595.4 287.7h2.86v2.86h-2.86zM595.4 290.2h2.86v2.86h-2.86zM595.4 343.0h2.86v2.86h-2.86zM597.9 330.4h2.86v2.86h-2.86zM602.9 287.7h2.86v2.86h-2.86zM602.9 302.7h2.86v2.86h-2.86zM602.9 343.0h2.86v2.86h-2.86zM605.5 343.0h2.86v2.86h-2.86zM608.0 343.0h2.86v2.86h-2.86zM610.5 343.0h2.86v2.86h-2.86zM613.0 287.7h2.86v2.86h-2.86zM613.0 302.7h2.86v2.86h-2.86zM613.0 343.0h2.86v2.86h-2.86zM615.5 343.0h2.86v2.86h-2.86zM618.0 287.7h2.86v2.86h-2.86zM618.0 290.2h2.86v2.86h-2.86zM618.0 343.0h2.86v2.86h-2.86zM620.5 343.0h2.86v2.86h-2.86zM623.1 343.0h2.86v2.86h-2.86zM625.6 343.0h2.86v2.86h-2.86zM630.6 343.0h2.86v2.86h-2.86zM633.1 343.0h2.86v2.86h-2.86zM635.6 343.0h2.86v2.86h-2.86zM638.1 343.0h2.86v2.86h-2.86zM640.7 343.0h2.86v2.86h-2.86zM643.2 343.0h2.86v2.86h-2.86z"/><path fill="#75e727" d="M590.4 307.8h2.86v2.86h-2.86zM623.1 312.8h2.86v2.86h-2.86z"/><path fill="#63e727" d="M590.4 322.9h2.86v2.86h-2.86zM590.4 338.0h2.86v2.86h-2.86zM590.4 340.5h2.86v2.86h-2.86zM590.4 345.5h2.86v2.86h-2.86zM590.4 348.0h2.86v2.86h-2.86zM590.4 350.5h2.86v2.86h-2.86zM590.4 353.0h2.86v2.86h-2.86zM590.4 355.6h2.86v2.86h-2.86zM590.4 358.1h2.86v2.86h-2.86zM610.5 315.3h2.86v2.86h-2.86z"/><path fill="#6fe727" d="M590.4 360.6h2.86v2.86h-2.86zM592.9 330.4h2.86v2.86h-2.86zM625.6 315.3h2.86v2.86h-2.86z"/><path fill="#e1f32d" d="M592.9 287.7h2.86v2.86h-2.86zM595.4 302.7h2.86v2.86h-2.86zM597.9 348.0h2.86v2.86h-2.86zM605.5 287.7h2.86v2.86h-2.86zM610.5 287.7h2.86v2.86h-2.86zM618.0 302.7h2.86v2.86h-2.86zM645.7 292.7h2.86v2.86h-2.86z"/><path fill="#f3e12d" d="M592.9 295.2h2.86v2.86h-2.86zM595.4 292.7h2.86v2.86h-2.86zM600.4 290.2h2.86v2.86h-2.86zM602.9 300.2h2.86v2.86h-2.86zM605.5 295.2h2.86v2.86h-2.86zM605.5 297.7h2.86v2.86h-2.86zM610.5 295.2h2.86v2.86h-2.86zM613.0 300.2h2.86v2.86h-2.86zM618.0 292.7h2.86v2.86h-2.86zM620.5 295.2h2.86v2.86h-2.86z"/><path fill="#b7f32d" d="M592.9 305.3h2.86v2.86h-2.86zM597.9 338.0h2.86v2.86h-2.86zM600.4 340.5h2.86v2.86h-2.86z"/><path fill="#7be727" d="M592.9 317.8h2.86v2.86h-2.86zM592.9 327.9h2.86v2.86h-2.86zM592.9 332.9h2.86v2.86h-2.86zM608.0 315.3h2.86v2.86h-2.86z"/><path fill="#f3cf2d" d="M595.4 295.2h2.86v2.86h-2.86zM595.4 297.7h2.86v2.86h-2.86zM618.0 295.2h2.86v2.86h-2.86zM618.0 297.7h2.86v2.86h-2.86z"/><path fill="#93ed2d" d="M595.4 317.8h2.86v2.86h-2.86zM595.4 320.4h2.86v2.86h-2.86zM595.4 322.9h2.86v2.86h-2.86zM595.4 330.4h2.86v2.86h-2.86zM595.4 332.9h2.86v2.86h-2.86zM595.4 335.4h2.86v2.86h-2.86zM595.4 338.0h2.86v2.86h-2.86zM595.4 350.5h2.86v2.86h-2.86zM595.4 353.0h2.86v2.86h-2.86zM595.4 355.6h2.86v2.86h-2.86zM595.4 358.1h2.86v2.86h-2.86zM595.4 360.6h2.86v2.86h-2.86zM602.9 315.3h2.86v2.86h-2.86zM605.5 315.3h2.86v2.86h-2.86zM620.5 315.3h2.86v2.86h-2.86zM630.6 317.8h2.86v2.86h-2.86zM630.6 320.4h2.86v2.86h-2.86zM630.6 322.9h2.86v2.86h-2.86zM630.6 325.4h2.86v2.86h-2.86zM630.6 327.9h2.86v2.86h-2.86zM630.6 330.4h2.86v2.86h-2.86zM630.6 332.9h2.86v2.86h-2.86zM630.6 335.4h2.86v2.86h-2.86zM630.6 338.0h2.86v2.86h-2.86zM630.6 348.0h2.86v2.86h-2.86zM630.6 350.5h2.86v2.86h-2.86zM630.6 353.0h2.86v2.86h-2.86zM630.6 355.6h2.86v2.86h-2.86zM630.6 358.1h2.86v2.86h-2.86zM638.1 315.3h2.86v2.86h-2.86zM640.7 315.3h2.86v2.86h-2.86z"/><path fill="#f3f32d" d="M597.9 287.7h2.86v2.86h-2.86zM600.4 287.7h2.86v2.86h-2.86zM605.5 300.2h2.86v2.86h-2.86zM608.0 292.7h2.86v2.86h-2.86zM610.5 292.7h2.86v2.86h-2.86zM610.5 300.2h2.86v2.86h-2.86zM615.5 287.7h2.86v2.86h-2.86zM620.5 292.7h2.86v2.86h-2.86zM623.1 292.7h2.86v2.86h-2.86zM625.6 292.7h2.86v2.86h-2.86zM628.1 292.7h2.86v2.86h-2.86zM630.6 292.7h2.86v2.86h-2.86zM633.1 292.7h2.86v2.86h-2.86zM635.6 292.7h2.86v2.86h-2.86zM638.1 292.7h2.86v2.86h-2.86zM640.7 292.7h2.86v2.86h-2.86zM643.2 292.7h2.86v2.86h-2.86z"/><path fill="#f3c32d" d="M597.9 292.7h2.86v2.86h-2.86zM600.4 300.2h2.86v2.86h-2.86z"/><path fill="#f3ab2d" d="M597.9 295.2h2.86v2.86h-2.86zM597.9 297.7h2.86v2.86h-2.86zM600.4 297.7h2.86v2.86h-2.86zM615.5 297.7h2.86v2.86h-2.86z"/><path fill="#f3c92d" d="M597.9 300.2h2.86v2.86h-2.86zM602.9 295.2h2.86v2.86h-2.86zM602.9 297.7h2.86v2.86h-2.86zM613.0 295.2h2.86v2.86h-2.86zM613.0 297.7h2.86v2.86h-2.86zM615.5 300.2h2.86v2.86h-2.86z"/><path fill="#f3bd2d" d="M597.9 343.0h2.86v2.86h-2.86zM600.4 292.7h2.86v2.86h-2.86zM615.5 292.7h2.86v2.86h-2.86z"/><path fill="#f3a533" d="M600.4 295.2h2.86v2.86h-2.86z"/><path fill="#a5ed2d" d="M600.4 317.8h2.86v2.86h-2.86zM600.4 320.4h2.86v2.86h-2.86zM600.4 335.4h2.86v2.86h-2.86zM602.9 310.3h2.86v2.86h-2.86zM605.5 310.3h2.86v2.86h-2.86zM615.5 310.3h2.86v2.86h-2.86zM618.0 310.3h2.86v2.86h-2.86zM620.5 310.3h2.86v2.86h-2.86zM623.1 310.3h2.86v2.86h-2.86zM638.1 310.3h2.86v2.86h-2.86zM640.7 310.3h2.86v2.86h-2.86zM643.2 310.3h2.86v2.86h-2.86z"/><path fill="#b7f333" d="M600.4 322.9h2.86v2.86h-2.86zM602.9 307.8h2.86v2.86h-2.86zM613.0 307.8h2.86v2.86h-2.86zM618.0 307.8h2.86v2.86h-2.86z"/><path fill="#bdf32d" d="M600.4 330.4h2.86v2.86h-2.86zM600.4 348.0h2.86v2.86h-2.86zM608.0 305.3h2.86v2.86h-2.86zM615.5 307.8h2.86v2.86h-2.86zM623.1 305.3h2.86v2.86h-2.86zM625.6 305.3h2.86v2.86h-2.86zM630.6 305.3h2.86v2.86h-2.86zM633.1 305.3h2.86v2.86h-2.86zM635.6 305.3h2.86v2.86h-2.86zM638.1 305.3h2.86v2.86h-2.86zM640.7 305.3h2.86v2.86h-2.86zM643.2 305.3h2.86v2.86h-2.86zM645.7 305.3h2.86v2.86h-2.86z"/><path fill="#f3db2d" d="M602.9 292.7h2.86v2.86h-2.86zM613.0 292.7h2.86v2.86h-2.86z"/><path fill="#f3a52d" d="M615.5 295.2h2.86v2.86h-2.86z"/><path fill="#69e727" d="M615.5 315.3h2.86v2.86h-2.86zM633.1 315.3h2.86v2.86h-2.86z"/><path fill="#45e781" d="M628.1 310.3h2.86v2.86h-2.86zM628.1 345.5h2.86v2.86h-2.86z"/><path fill="#3f75f9" d="M628.1 312.8h2.86v2.86h-2.86z"/><path fill="#45e76f" d="M633.1 312.8h2.86v2.86h-2.86z"/></g><line x1="562.7" y1="277.6" x2="648.2" y2="363.1" stroke="#605050" stroke-opacity="0.45" stroke-width="0.45"/></g><text x="391.8" y="278.5" font-size="6.3" text-anchor="end" fill="#000" font-weight="normal" font-style="normal" dominant-baseline="central" >1800</text><text x="391.8" y="296.2" font-size="6.3" text-anchor="end" fill="#000" font-weight="normal" font-style="normal" dominant-baseline="central" >1700</text><text x="391.8" y="312.6" font-size="6.3" text-anchor="end" fill="#000" font-weight="normal" font-style="normal" dominant-baseline="central" >1600</text><text x="391.8" y="329.4" font-size="6.3" text-anchor="end" fill="#000" font-weight="normal" font-style="normal" dominant-baseline="central" >1500</text><text x="391.8" y="346.0" font-size="6.3" text-anchor="end" fill="#000" font-weight="normal" font-style="normal" dominant-baseline="central" >1400</text><text x="391.8" y="361.6" font-size="6.3" text-anchor="end" fill="#000" font-weight="normal" font-style="normal" dominant-baseline="central" >1300</text><text x="398.3" y="368.6" font-size="6.3" text-anchor="middle" fill="#000" font-weight="normal" font-style="normal" dominant-baseline="central" >1800</text><text x="415.6" y="368.6" font-size="6.3" text-anchor="middle" fill="#000" font-weight="normal" font-style="normal" dominant-baseline="central" >1700</text><text x="431.3" y="368.6" font-size="6.3" text-anchor="middle" fill="#000" font-weight="normal" font-style="normal" dominant-baseline="central" >1600</text><text x="447.6" y="368.6" font-size="6.3" text-anchor="middle" fill="#000" font-weight="normal" font-style="normal" dominant-baseline="central" >1500</text><text x="464.0" y="368.6" font-size="6.3" text-anchor="middle" fill="#000" font-weight="normal" font-style="normal" dominant-baseline="central" >1400</text><text x="480.3" y="368.6" font-size="6.3" text-anchor="middle" fill="#000" font-weight="normal" font-style="normal" dominant-baseline="central" >1300</text><text x="438.3" y="378.2" font-size="8.4" text-anchor="middle" dominant-baseline="central">Wavenumber (cm<tspan font-size="5.8" dy="-3">−1</tspan><tspan dy="3">)</tspan></text><text transform="translate(368.9,321.2) rotate(-90)" font-size="8.4" text-anchor="middle" dominant-baseline="central">Wavenumber (cm<tspan font-size="5.8" dy="-3">−1</tspan><tspan dy="3">)</tspan></text><text x="559.5" y="280.5" font-size="6.3" text-anchor="end" fill="#000" font-weight="normal" font-style="normal" dominant-baseline="central" >1800</text><text x="559.5" y="296.8" font-size="6.3" text-anchor="end" fill="#000" font-weight="normal" font-style="normal" dominant-baseline="central" >1700</text><text x="559.5" y="312.9" font-size="6.3" text-anchor="end" fill="#000" font-weight="normal" font-style="normal" dominant-baseline="central" >1600</text><text x="559.5" y="329.2" font-size="6.3" text-anchor="end" fill="#000" font-weight="normal" font-style="normal" dominant-baseline="central" >1500</text><text x="559.5" y="346.3" font-size="6.3" text-anchor="end" fill="#000" font-weight="normal" font-style="normal" dominant-baseline="central" >1400</text><text x="559.5" y="362.2" font-size="6.3" text-anchor="end" fill="#000" font-weight="normal" font-style="normal" dominant-baseline="central" >1300</text><text x="566.3" y="369.5" font-size="6.3" text-anchor="middle" fill="#000" font-weight="normal" font-style="normal" dominant-baseline="central" >1800</text><text x="582.2" y="369.5" font-size="6.3" text-anchor="middle" fill="#000" font-weight="normal" font-style="normal" dominant-baseline="central" >1700</text><text x="598.5" y="369.5" font-size="6.3" text-anchor="middle" fill="#000" font-weight="normal" font-style="normal" dominant-baseline="central" >1600</text><text x="615.6" y="369.5" font-size="6.3" text-anchor="middle" fill="#000" font-weight="normal" font-style="normal" dominant-baseline="central" >1500</text><text x="631.7" y="369.5" font-size="6.3" text-anchor="middle" fill="#000" font-weight="normal" font-style="normal" dominant-baseline="central" >1400</text><text x="648.0" y="369.5" font-size="6.3" text-anchor="middle" fill="#000" font-weight="normal" font-style="normal" dominant-baseline="central" >1300</text><text x="606.6" y="379.2" font-size="8.4" text-anchor="middle" dominant-baseline="central">Wavenumber (cm<tspan font-size="5.8" dy="-3">−1</tspan><tspan dy="3">)</tspan></text><text transform="translate(537,320.6) rotate(-90)" font-size="8.4" text-anchor="middle" dominant-baseline="central">Wavenumber (cm<tspan font-size="5.8" dy="-3">−1</tspan><tspan dy="3">)</tspan></text><rect x="500.9" y="276.2" width="3.9" height="92.4" fill="url(#cbar)" stroke="none" stroke-width="1" /><text x="503.0" y="270.1" font-size="9.5" text-anchor="middle" fill="#000" font-weight="normal" font-style="normal" dominant-baseline="central" >1.2</text><text x="503.0" y="375.3" font-size="9.5" text-anchor="middle" fill="#000" font-weight="normal" font-style="normal" dominant-baseline="central" >0</text><rect x="670.0" y="276.8" width="4.0" height="91.5" fill="url(#cbar)" stroke="none" stroke-width="1" /><text x="671.5" y="269.5" font-size="9.5" text-anchor="middle" fill="#000" font-weight="normal" font-style="normal" dominant-baseline="central" >0.07</text><text x="670.0" y="376.8" font-size="9.5" text-anchor="middle" fill="#000" font-weight="normal" font-style="normal" dominant-baseline="central" >−0.07</text><text x="0.5" y="408.5" font-size="16" text-anchor="start" fill="#000" font-weight="bold" font-style="normal" dominant-baseline="central" >f</text><text x="68.7" y="411.2" font-size="14.5" font-weight="bold" fill="#f0358a" dominant-baseline="central" textLength="16.1" lengthAdjust="spacingAndGlyphs">N<tspan font-size="10" dy="3.8">2</tspan></text><path d="M86,407.8 L98.5,407.8 L98.5,404.6 L104.8,410 L98.5,415.4 L98.5,412.2 L86,412.2Z" fill="#000"/><text x="110.9" y="411.2" font-size="14.5" font-weight="bold" fill="#2e6aa0" dominant-baseline="central" textLength="23.5" lengthAdjust="spacingAndGlyphs">CO<tspan font-size="10" dy="3.8">2</tspan></text><text x="149.3" y="411.2" font-size="14.5" font-weight="bold" fill="#2e6aa0" dominant-baseline="central" textLength="25.3" lengthAdjust="spacingAndGlyphs">CO<tspan font-size="10" dy="3.8">2</tspan></text><path d="M178.6,407.8 L190,407.8 L190,404.6 L196.3,410 L190,415.4 L190,412.2 L178.6,412.2Z" fill="#000"/><text x="205.2" y="411.2" font-size="14.5" font-weight="bold" fill="#f0358a" dominant-baseline="central" textLength="16.6" lengthAdjust="spacingAndGlyphs">N<tspan font-size="10" dy="3.8">2</tspan></text><rect x="63.4" y="422.5" width="19.4" height="109.0" fill="#f6e4f8" stroke="none" stroke-width="1" /><rect x="82.8" y="422.5" width="59.6" height="109.0" fill="#d4ece8" stroke="none" stroke-width="1" /><rect x="149.6" y="422.5" width="19.9" height="109.0" fill="#d4ece8" stroke="none" stroke-width="1" /><rect x="169.5" y="422.5" width="98.8" height="109.0" fill="#f6e4f8" stroke="none" stroke-width="1" /><defs><radialGradient id="insg" cx="52%" cy="48%" r="60%"><stop offset="0" stop-color="#ffffff"/><stop offset="0.35" stop-color="#e8eef8"/><stop offset="1" stop-color="#b8c4e4"/></radialGradient></defs><rect x="70.8" y="427.3" width="57.0" height="44.4" fill="url(#insg)" stroke="none" stroke-width="1" /><path d="M71,440 Q72.5,441.7 74.0,440.7 Q75.5,444.3 77.0,442.5 Q78.5,445.6 80.0,443.9 Q81.5,441.0 83.0,441.1 Q84.5,444.4 86.0,443.8" stroke="#999" stroke-width="0.7" fill="none" /><path d="M72,458 Q73.5,458.9 75.0,460.4 Q76.5,459.2 78.0,460.2 Q79.5,460.8 81.0,460.5 Q82.5,456.4 84.0,457.6 Q85.5,457.9 87.0,456.2" stroke="#999" stroke-width="0.7" fill="none" /><path d="M75,466 Q76.5,466.2 78.0,467.6 Q79.5,467.9 81.0,469.4 Q82.5,468.6 84.0,470.1 Q85.5,468.6 87.0,467.1 Q88.5,464.2 90.0,465.3" stroke="#999" stroke-width="0.7" fill="none" /><path d="M112,431 Q113.5,435.4 115.0,433.9 Q116.5,434.5 118.0,432.6 Q119.5,433.6 121.0,432.9 Q122.5,432.9 124.0,431.1 Q125.5,434.1 127.0,432.2" stroke="#999" stroke-width="0.7" fill="none" /><path d="M118,440 Q119.5,441.6 121.0,442.4 Q122.5,440.2 124.0,441.5 Q125.5,437.7 127.0,439.4 Q128.5,438.6 130.0,438.2 Q131.5,435.9 133.0,435.2" stroke="#999" stroke-width="0.7" fill="none" /><path d="M100,462 Q101.5,460.3 103.0,461.0 Q104.5,462.9 106.0,462.9 Q107.5,461.8 109.0,461.8 Q110.5,461.3 112.0,463.1 Q113.5,464.0 115.0,465.9" stroke="#999" stroke-width="0.7" fill="none" /><line x1="110.0" y1="447.0" x2="104.0" y2="445.0" stroke="#5a8ac4" stroke-width="1.3" /><line x1="99.0" y1="453.0" x2="101.0" y2="459.0" stroke="#5a8ac4" stroke-width="1.3" /><line x1="94.0" y1="463.0" x2="88.0" y2="462.0" stroke="#5a8ac4" stroke-width="1.3" /><line x1="86.0" y1="463.0" x2="84.0" y2="459.0" stroke="#5a8ac4" stroke-width="1.3" /><line x1="116.0" y1="441.0" x2="119.0" y2="437.0" stroke="#5a8ac4" stroke-width="1.3" /><line x1="101.0" y1="449.0" x2="97.0" y2="452.0" stroke="#5a8ac4" stroke-width="1.3" /><line x1="83.5" y1="428.5" x2="86.0" y2="428.3" stroke="#333" stroke-width="0.45" /><line x1="94.8" y1="428.5" x2="97.8" y2="427.6" stroke="#333" stroke-width="0.45" /><line x1="107.1" y1="428.4" x2="109.5" y2="428.5" stroke="#333" stroke-width="0.45" /><line x1="99.8" y1="431.4" x2="102.7" y2="431.3" stroke="#333" stroke-width="0.45" /><line x1="108.7" y1="431.6" x2="111.8" y2="431.6" stroke="#333" stroke-width="0.45" /><line x1="74.3" y1="434.5" x2="77.1" y2="434.7" stroke="#333" stroke-width="0.45" /><line x1="77.1" y1="434.7" x2="79.4" y2="434.0" stroke="#333" stroke-width="0.45" /><line x1="79.4" y1="434.0" x2="82.7" y2="434.6" stroke="#333" stroke-width="0.45" /><line x1="82.7" y1="434.6" x2="86.0" y2="434.1" stroke="#333" stroke-width="0.45" /><line x1="88.8" y1="434.0" x2="92.0" y2="434.3" stroke="#333" stroke-width="0.45" /><line x1="92.0" y1="434.3" x2="94.7" y2="434.9" stroke="#333" stroke-width="0.45" /><line x1="94.7" y1="434.9" x2="97.7" y2="434.3" stroke="#333" stroke-width="0.45" /><line x1="97.7" y1="434.3" x2="100.8" y2="433.8" stroke="#333" stroke-width="0.45" /><line x1="100.8" y1="433.8" x2="104.1" y2="434.2" stroke="#333" stroke-width="0.45" /><line x1="81.5" y1="437.5" x2="84.5" y2="437.3" stroke="#333" stroke-width="0.45" /><line x1="84.5" y1="437.3" x2="87.6" y2="437.5" stroke="#333" stroke-width="0.45" /><line x1="94.0" y1="437.9" x2="96.1" y2="438.2" stroke="#333" stroke-width="0.45" /><line x1="96.1" y1="438.2" x2="99.5" y2="437.8" stroke="#333" stroke-width="0.45" /><line x1="99.5" y1="437.8" x2="102.0" y2="437.9" stroke="#333" stroke-width="0.45" /><line x1="73.8" y1="441.2" x2="77.2" y2="440.7" stroke="#333" stroke-width="0.45" /><line x1="77.2" y1="440.7" x2="80.5" y2="440.4" stroke="#333" stroke-width="0.45" /><line x1="80.5" y1="440.4" x2="83.0" y2="440.6" stroke="#333" stroke-width="0.45" /><line x1="83.0" y1="440.6" x2="86.4" y2="440.3" stroke="#333" stroke-width="0.45" /><line x1="89.4" y1="441.0" x2="92.6" y2="441.4" stroke="#333" stroke-width="0.45" /><line x1="95.4" y1="440.5" x2="98.3" y2="440.4" stroke="#333" stroke-width="0.45" /><line x1="103.9" y1="440.4" x2="106.5" y2="440.7" stroke="#333" stroke-width="0.45" /><line x1="78.5" y1="443.6" x2="81.8" y2="443.6" stroke="#333" stroke-width="0.45" /><line x1="81.8" y1="443.6" x2="84.0" y2="444.2" stroke="#333" stroke-width="0.45" /><line x1="83.1" y1="447.1" x2="85.6" y2="446.8" stroke="#333" stroke-width="0.45" /><line x1="89.5" y1="446.8" x2="91.6" y2="446.9" stroke="#333" stroke-width="0.45" /><line x1="81.4" y1="449.9" x2="84.5" y2="450.2" stroke="#333" stroke-width="0.45" /><line x1="117.6" y1="450.8" x2="120.5" y2="450.4" stroke="#333" stroke-width="0.45" /><line x1="120.5" y1="450.4" x2="118.9" y2="453.2" stroke="#333" stroke-width="0.45" /><line x1="120.5" y1="450.4" x2="121.7" y2="453.8" stroke="#333" stroke-width="0.45" /><line x1="118.9" y1="453.2" x2="121.7" y2="453.8" stroke="#333" stroke-width="0.45" /><line x1="116.9" y1="456.9" x2="120.4" y2="456.5" stroke="#333" stroke-width="0.45" /><line x1="116.0" y1="460.4" x2="119.2" y2="460.0" stroke="#333" stroke-width="0.45" /><line x1="119.2" y1="460.0" x2="121.5" y2="459.8" stroke="#333" stroke-width="0.45" /><line x1="105.7" y1="463.3" x2="109.0" y2="462.9" stroke="#333" stroke-width="0.45" /><line x1="111.6" y1="463.7" x2="114.8" y2="462.9" stroke="#333" stroke-width="0.45" /><line x1="120.4" y1="463.1" x2="123.3" y2="462.9" stroke="#333" stroke-width="0.45" /><line x1="116.2" y1="466.7" x2="119.1" y2="466.3" stroke="#333" stroke-width="0.45" /><line x1="119.1" y1="466.3" x2="121.8" y2="466.6" stroke="#333" stroke-width="0.45" /><line x1="99.7" y1="469.1" x2="102.5" y2="470.2" stroke="#333" stroke-width="0.45" /><line x1="102.5" y1="470.2" x2="106.0" y2="469.1" stroke="#333" stroke-width="0.45" /><line x1="106.0" y1="469.1" x2="107.9" y2="469.9" stroke="#333" stroke-width="0.45" /><line x1="107.9" y1="469.9" x2="111.2" y2="469.5" stroke="#333" stroke-width="0.45" /><line x1="121.0" y1="469.8" x2="123.4" y2="469.9" stroke="#333" stroke-width="0.45" /><circle cx="73.4" cy="428.3" r="1.75" fill="#ff3560" stroke="none" stroke-width="1" /><circle cx="73.4" cy="428.3" r="0.65" fill="#ffe0e8" stroke="none" stroke-width="1" /><circle cx="79.6" cy="428.5" r="1.3" fill="#2a3ae0" stroke="none" stroke-width="1" /><circle cx="79.6" cy="428.5" r="0.5" fill="#e8ecff" stroke="none" stroke-width="1" /><circle cx="83.5" cy="428.5" r="1.75" fill="#ff3560" stroke="none" stroke-width="1" /><circle cx="83.5" cy="428.5" r="0.65" fill="#ffe0e8" stroke="none" stroke-width="1" /><circle cx="86.0" cy="428.3" r="1.3" fill="#2a3ae0" stroke="none" stroke-width="1" /><circle cx="86.0" cy="428.3" r="0.5" fill="#e8ecff" stroke="none" stroke-width="1" /><circle cx="89.4" cy="428.4" r="1.3" fill="#2a3ae0" stroke="none" stroke-width="1" /><circle cx="89.4" cy="428.4" r="0.5" fill="#e8ecff" stroke="none" stroke-width="1" /><circle cx="91.5" cy="427.8" r="1.3" fill="#2a3ae0" stroke="none" stroke-width="1" /><circle cx="91.5" cy="427.8" r="0.5" fill="#e8ecff" stroke="none" stroke-width="1" /><circle cx="94.8" cy="428.5" r="1.75" fill="#ff3560" stroke="none" stroke-width="1" /><circle cx="94.8" cy="428.5" r="0.65" fill="#ffe0e8" stroke="none" stroke-width="1" /><circle cx="97.8" cy="427.6" r="1.75" fill="#ff3560" stroke="none" stroke-width="1" /><circle cx="97.8" cy="427.6" r="0.65" fill="#ffe0e8" stroke="none" stroke-width="1" /><circle cx="101.2" cy="428.6" r="1.75" fill="#ff3560" stroke="none" stroke-width="1" /><circle cx="101.2" cy="428.6" r="0.65" fill="#ffe0e8" stroke="none" stroke-width="1" /><circle cx="104.6" cy="428.0" r="1.75" fill="#ff3560" stroke="none" stroke-width="1" /><circle cx="104.6" cy="428.0" r="0.65" fill="#ffe0e8" stroke="none" stroke-width="1" /><circle cx="107.1" cy="428.4" r="1.75" fill="#ff3560" stroke="none" stroke-width="1" /><circle cx="107.1" cy="428.4" r="0.65" fill="#ffe0e8" stroke="none" stroke-width="1" /><circle cx="109.5" cy="428.5" r="1.75" fill="#ff3560" stroke="none" stroke-width="1" /><circle cx="109.5" cy="428.5" r="0.65" fill="#ffe0e8" stroke="none" stroke-width="1" /><circle cx="78.5" cy="430.9" r="1.75" fill="#ff3560" stroke="none" stroke-width="1" /><circle cx="78.5" cy="430.9" r="0.65" fill="#ffe0e8" stroke="none" stroke-width="1" /><circle cx="84.7" cy="431.2" r="1.75" fill="#ff3560" stroke="none" stroke-width="1" /><circle cx="84.7" cy="431.2" r="0.65" fill="#ffe0e8" stroke="none" stroke-width="1" /><circle cx="96.3" cy="431.4" r="1.75" fill="#ff3560" stroke="none" stroke-width="1" /><circle cx="96.3" cy="431.4" r="0.65" fill="#ffe0e8" stroke="none" stroke-width="1" /><circle cx="99.8" cy="431.4" r="1.3" fill="#2a3ae0" stroke="none" stroke-width="1" /><circle cx="99.8" cy="431.4" r="0.5" fill="#e8ecff" stroke="none" stroke-width="1" /><circle cx="102.7" cy="431.3" r="1.75" fill="#ff3560" stroke="none" stroke-width="1" /><circle cx="102.7" cy="431.3" r="0.65" fill="#ffe0e8" stroke="none" stroke-width="1" /><circle cx="105.2" cy="431.4" r="1.3" fill="#2a3ae0" stroke="none" stroke-width="1" /><circle cx="105.2" cy="431.4" r="0.5" fill="#e8ecff" stroke="none" stroke-width="1" /><circle cx="108.7" cy="431.6" r="1.75" fill="#ff3560" stroke="none" stroke-width="1" /><circle cx="108.7" cy="431.6" r="0.65" fill="#ffe0e8" stroke="none" stroke-width="1" /><circle cx="111.8" cy="431.6" r="1.3" fill="#2a3ae0" stroke="none" stroke-width="1" /><circle cx="111.8" cy="431.6" r="0.5" fill="#e8ecff" stroke="none" stroke-width="1" /><circle cx="74.3" cy="434.5" r="1.75" fill="#ff3560" stroke="none" stroke-width="1" /><circle cx="74.3" cy="434.5" r="0.65" fill="#ffe0e8" stroke="none" stroke-width="1" /><circle cx="77.1" cy="434.7" r="1.3" fill="#2a3ae0" stroke="none" stroke-width="1" /><circle cx="77.1" cy="434.7" r="0.5" fill="#e8ecff" stroke="none" stroke-width="1" /><circle cx="79.4" cy="434.0" r="1.75" fill="#ff3560" stroke="none" stroke-width="1" /><circle cx="79.4" cy="434.0" r="0.65" fill="#ffe0e8" stroke="none" stroke-width="1" /><circle cx="82.7" cy="434.6" r="1.75" fill="#ff3560" stroke="none" stroke-width="1" /><circle cx="82.7" cy="434.6" r="0.65" fill="#ffe0e8" stroke="none" stroke-width="1" /><circle cx="86.0" cy="434.1" r="1.75" fill="#ff3560" stroke="none" stroke-width="1" /><circle cx="86.0" cy="434.1" r="0.65" fill="#ffe0e8" stroke="none" stroke-width="1" /><circle cx="88.8" cy="434.0" r="1.75" fill="#ff3560" stroke="none" stroke-width="1" /><circle cx="88.8" cy="434.0" r="0.65" fill="#ffe0e8" stroke="none" stroke-width="1" /><circle cx="92.0" cy="434.3" r="1.75" fill="#ff3560" stroke="none" stroke-width="1" /><circle cx="92.0" cy="434.3" r="0.65" fill="#ffe0e8" stroke="none" stroke-width="1" /><circle cx="94.7" cy="434.9" r="1.75" fill="#ff3560" stroke="none" stroke-width="1" /><circle cx="94.7" cy="434.9" r="0.65" fill="#ffe0e8" stroke="none" stroke-width="1" /><circle cx="97.7" cy="434.3" r="1.3" fill="#2a3ae0" stroke="none" stroke-width="1" /><circle cx="97.7" cy="434.3" r="0.5" fill="#e8ecff" stroke="none" stroke-width="1" /><circle cx="100.8" cy="433.8" r="1.75" fill="#ff3560" stroke="none" stroke-width="1" /><circle cx="100.8" cy="433.8" r="0.65" fill="#ffe0e8" stroke="none" stroke-width="1" /><circle cx="104.1" cy="434.2" r="1.3" fill="#2a3ae0" stroke="none" stroke-width="1" /><circle cx="104.1" cy="434.2" r="0.5" fill="#e8ecff" stroke="none" stroke-width="1" /><circle cx="110.2" cy="434.2" r="1.75" fill="#ff3560" stroke="none" stroke-width="1" /><circle cx="110.2" cy="434.2" r="0.65" fill="#ffe0e8" stroke="none" stroke-width="1" /><circle cx="73.0" cy="437.5" r="1.75" fill="#ff3560" stroke="none" stroke-width="1" /><circle cx="73.0" cy="437.5" r="0.65" fill="#ffe0e8" stroke="none" stroke-width="1" /><circle cx="75.2" cy="438.2" r="1.3" fill="#2a3ae0" stroke="none" stroke-width="1" /><circle cx="75.2" cy="438.2" r="0.5" fill="#e8ecff" stroke="none" stroke-width="1" /><circle cx="79.0" cy="437.7" r="1.3" fill="#2a3ae0" stroke="none" stroke-width="1" /><circle cx="79.0" cy="437.7" r="0.5" fill="#e8ecff" stroke="none" stroke-width="1" /><circle cx="81.5" cy="437.5" r="1.3" fill="#2a3ae0" stroke="none" stroke-width="1" /><circle cx="81.5" cy="437.5" r="0.5" fill="#e8ecff" stroke="none" stroke-width="1" /><circle cx="84.5" cy="437.3" r="1.75" fill="#ff3560" stroke="none" stroke-width="1" /><circle cx="84.5" cy="437.3" r="0.65" fill="#ffe0e8" stroke="none" stroke-width="1" /><circle cx="87.6" cy="437.5" r="1.3" fill="#2a3ae0" stroke="none" stroke-width="1" /><circle cx="87.6" cy="437.5" r="0.5" fill="#e8ecff" stroke="none" stroke-width="1" /><circle cx="90.9" cy="437.0" r="1.75" fill="#ff3560" stroke="none" stroke-width="1" /><circle cx="90.9" cy="437.0" r="0.65" fill="#ffe0e8" stroke="none" stroke-width="1" /><circle cx="94.0" cy="437.9" r="1.75" fill="#ff3560" stroke="none" stroke-width="1" /><circle cx="94.0" cy="437.9" r="0.65" fill="#ffe0e8" stroke="none" stroke-width="1" /><circle cx="96.1" cy="438.2" r="1.75" fill="#ff3560" stroke="none" stroke-width="1" /><circle cx="96.1" cy="438.2" r="0.65" fill="#ffe0e8" stroke="none" stroke-width="1" /><circle cx="99.5" cy="437.8" r="1.3" fill="#2a3ae0" stroke="none" stroke-width="1" /><circle cx="99.5" cy="437.8" r="0.5" fill="#e8ecff" stroke="none" stroke-width="1" /><circle cx="102.0" cy="437.9" r="1.75" fill="#ff3560" stroke="none" stroke-width="1" /><circle cx="102.0" cy="437.9" r="0.65" fill="#ffe0e8" stroke="none" stroke-width="1" /><circle cx="105.3" cy="437.4" r="1.75" fill="#ff3560" stroke="none" stroke-width="1" /><circle cx="105.3" cy="437.4" r="0.65" fill="#ffe0e8" stroke="none" stroke-width="1" /><circle cx="108.3" cy="437.9" r="1.75" fill="#ff3560" stroke="none" stroke-width="1" /><circle cx="108.3" cy="437.9" r="0.65" fill="#ffe0e8" stroke="none" stroke-width="1" /><circle cx="73.8" cy="441.2" r="1.3" fill="#2a3ae0" stroke="none" stroke-width="1" /><circle cx="73.8" cy="441.2" r="0.5" fill="#e8ecff" stroke="none" stroke-width="1" /><circle cx="77.2" cy="440.7" r="1.3" fill="#2a3ae0" stroke="none" stroke-width="1" /><circle cx="77.2" cy="440.7" r="0.5" fill="#e8ecff" stroke="none" stroke-width="1" /><circle cx="80.5" cy="440.4" r="1.75" fill="#ff3560" stroke="none" stroke-width="1" /><circle cx="80.5" cy="440.4" r="0.65" fill="#ffe0e8" stroke="none" stroke-width="1" /><circle cx="83.0" cy="440.6" r="1.75" fill="#ff3560" stroke="none" stroke-width="1" /><circle cx="83.0" cy="440.6" r="0.65" fill="#ffe0e8" stroke="none" stroke-width="1" /><circle cx="86.4" cy="440.3" r="1.3" fill="#2a3ae0" stroke="none" stroke-width="1" /><circle cx="86.4" cy="440.3" r="0.5" fill="#e8ecff" stroke="none" stroke-width="1" /><circle cx="89.4" cy="441.0" r="1.3" fill="#2a3ae0" stroke="none" stroke-width="1" /><circle cx="89.4" cy="441.0" r="0.5" fill="#e8ecff" stroke="none" stroke-width="1" /><circle cx="92.6" cy="441.4" r="1.75" fill="#ff3560" stroke="none" stroke-width="1" /><circle cx="92.6" cy="441.4" r="0.65" fill="#ffe0e8" stroke="none" stroke-width="1" /><circle cx="95.4" cy="440.5" r="1.3" fill="#2a3ae0" stroke="none" stroke-width="1" /><circle cx="95.4" cy="440.5" r="0.5" fill="#e8ecff" stroke="none" stroke-width="1" /><circle cx="98.3" cy="440.4" r="1.3" fill="#2a3ae0" stroke="none" stroke-width="1" /><circle cx="98.3" cy="440.4" r="0.5" fill="#e8ecff" stroke="none" stroke-width="1" /><circle cx="103.9" cy="440.4" r="1.75" fill="#ff3560" stroke="none" stroke-width="1" /><circle cx="103.9" cy="440.4" r="0.65" fill="#ffe0e8" stroke="none" stroke-width="1" /><circle cx="106.5" cy="440.7" r="1.75" fill="#ff3560" stroke="none" stroke-width="1" /><circle cx="106.5" cy="440.7" r="0.65" fill="#ffe0e8" stroke="none" stroke-width="1" /><circle cx="72.5" cy="444.5" r="1.75" fill="#ff3560" stroke="none" stroke-width="1" /><circle cx="72.5" cy="444.5" r="0.65" fill="#ffe0e8" stroke="none" stroke-width="1" /><circle cx="75.2" cy="444.1" r="1.3" fill="#2a3ae0" stroke="none" stroke-width="1" /><circle cx="75.2" cy="444.1" r="0.5" fill="#e8ecff" stroke="none" stroke-width="1" /><circle cx="78.5" cy="443.6" r="1.75" fill="#ff3560" stroke="none" stroke-width="1" /><circle cx="78.5" cy="443.6" r="0.65" fill="#ffe0e8" stroke="none" stroke-width="1" /><circle cx="81.8" cy="443.6" r="1.75" fill="#ff3560" stroke="none" stroke-width="1" /><circle cx="81.8" cy="443.6" r="0.65" fill="#ffe0e8" stroke="none" stroke-width="1" /><circle cx="84.0" cy="444.2" r="1.75" fill="#ff3560" stroke="none" stroke-width="1" /><circle cx="84.0" cy="444.2" r="0.65" fill="#ffe0e8" stroke="none" stroke-width="1" /><circle cx="92.9" cy="444.3" r="1.75" fill="#ff3560" stroke="none" stroke-width="1" /><circle cx="92.9" cy="444.3" r="0.65" fill="#ffe0e8" stroke="none" stroke-width="1" /><circle cx="73.5" cy="446.6" r="1.75" fill="#ff3560" stroke="none" stroke-width="1" /><circle cx="73.5" cy="446.6" r="0.65" fill="#ffe0e8" stroke="none" stroke-width="1" /><circle cx="83.1" cy="447.1" r="1.75" fill="#ff3560" stroke="none" stroke-width="1" /><circle cx="83.1" cy="447.1" r="0.65" fill="#ffe0e8" stroke="none" stroke-width="1" /><circle cx="85.6" cy="446.8" r="1.75" fill="#ff3560" stroke="none" stroke-width="1" /><circle cx="85.6" cy="446.8" r="0.65" fill="#ffe0e8" stroke="none" stroke-width="1" /><circle cx="89.5" cy="446.8" r="1.75" fill="#ff3560" stroke="none" stroke-width="1" /><circle cx="89.5" cy="446.8" r="0.65" fill="#ffe0e8" stroke="none" stroke-width="1" /><circle cx="91.6" cy="446.9" r="1.75" fill="#ff3560" stroke="none" stroke-width="1" /><circle cx="91.6" cy="446.9" r="0.65" fill="#ffe0e8" stroke="none" stroke-width="1" /><circle cx="72.1" cy="450.1" r="1.3" fill="#2a3ae0" stroke="none" stroke-width="1" /><circle cx="72.1" cy="450.1" r="0.5" fill="#e8ecff" stroke="none" stroke-width="1" /><circle cx="81.4" cy="449.9" r="1.3" fill="#2a3ae0" stroke="none" stroke-width="1" /><circle cx="81.4" cy="449.9" r="0.5" fill="#e8ecff" stroke="none" stroke-width="1" /><circle cx="84.5" cy="450.2" r="1.75" fill="#ff3560" stroke="none" stroke-width="1" /><circle cx="84.5" cy="450.2" r="0.65" fill="#ffe0e8" stroke="none" stroke-width="1" /><circle cx="111.4" cy="450.4" r="1.75" fill="#ff3560" stroke="none" stroke-width="1" /><circle cx="111.4" cy="450.4" r="0.65" fill="#ffe0e8" stroke="none" stroke-width="1" /><circle cx="117.6" cy="450.8" r="1.75" fill="#ff3560" stroke="none" stroke-width="1" /><circle cx="117.6" cy="450.8" r="0.65" fill="#ffe0e8" stroke="none" stroke-width="1" /><circle cx="120.5" cy="450.4" r="1.75" fill="#ff3560" stroke="none" stroke-width="1" /><circle cx="120.5" cy="450.4" r="0.65" fill="#ffe0e8" stroke="none" stroke-width="1" /><circle cx="118.9" cy="453.2" r="1.75" fill="#ff3560" stroke="none" stroke-width="1" /><circle cx="118.9" cy="453.2" r="0.65" fill="#ffe0e8" stroke="none" stroke-width="1" /><circle cx="121.7" cy="453.8" r="1.75" fill="#ff3560" stroke="none" stroke-width="1" /><circle cx="121.7" cy="453.8" r="0.65" fill="#ffe0e8" stroke="none" stroke-width="1" /><circle cx="125.3" cy="453.7" r="1.75" fill="#ff3560" stroke="none" stroke-width="1" /><circle cx="125.3" cy="453.7" r="0.65" fill="#ffe0e8" stroke="none" stroke-width="1" /><circle cx="108.8" cy="457.3" r="1.3" fill="#2a3ae0" stroke="none" stroke-width="1" /><circle cx="108.8" cy="457.3" r="0.5" fill="#e8ecff" stroke="none" stroke-width="1" /><circle cx="116.9" cy="456.9" r="1.3" fill="#2a3ae0" stroke="none" stroke-width="1" /><circle cx="116.9" cy="456.9" r="0.5" fill="#e8ecff" stroke="none" stroke-width="1" /><circle cx="120.4" cy="456.5" r="1.75" fill="#ff3560" stroke="none" stroke-width="1" /><circle cx="120.4" cy="456.5" r="0.65" fill="#ffe0e8" stroke="none" stroke-width="1" /><circle cx="126.2" cy="456.6" r="1.3" fill="#2a3ae0" stroke="none" stroke-width="1" /><circle cx="126.2" cy="456.6" r="0.5" fill="#e8ecff" stroke="none" stroke-width="1" /><circle cx="106.4" cy="459.8" r="1.75" fill="#ff3560" stroke="none" stroke-width="1" /><circle cx="106.4" cy="459.8" r="0.65" fill="#ffe0e8" stroke="none" stroke-width="1" /><circle cx="113.4" cy="460.5" r="1.75" fill="#ff3560" stroke="none" stroke-width="1" /><circle cx="113.4" cy="460.5" r="0.65" fill="#ffe0e8" stroke="none" stroke-width="1" /><circle cx="116.0" cy="460.4" r="1.75" fill="#ff3560" stroke="none" stroke-width="1" /><circle cx="116.0" cy="460.4" r="0.65" fill="#ffe0e8" stroke="none" stroke-width="1" /><circle cx="119.2" cy="460.0" r="1.75" fill="#ff3560" stroke="none" stroke-width="1" /><circle cx="119.2" cy="460.0" r="0.65" fill="#ffe0e8" stroke="none" stroke-width="1" /><circle cx="121.5" cy="459.8" r="1.3" fill="#2a3ae0" stroke="none" stroke-width="1" /><circle cx="121.5" cy="459.8" r="0.5" fill="#e8ecff" stroke="none" stroke-width="1" /><circle cx="103.0" cy="463.3" r="1.75" fill="#ff3560" stroke="none" stroke-width="1" /><circle cx="103.0" cy="463.3" r="0.65" fill="#ffe0e8" stroke="none" stroke-width="1" /><circle cx="105.7" cy="463.3" r="1.75" fill="#ff3560" stroke="none" stroke-width="1" /><circle cx="105.7" cy="463.3" r="0.65" fill="#ffe0e8" stroke="none" stroke-width="1" /><circle cx="109.0" cy="462.9" r="1.75" fill="#ff3560" stroke="none" stroke-width="1" /><circle cx="109.0" cy="462.9" r="0.65" fill="#ffe0e8" stroke="none" stroke-width="1" /><circle cx="111.6" cy="463.7" r="1.75" fill="#ff3560" stroke="none" stroke-width="1" /><circle cx="111.6" cy="463.7" r="0.65" fill="#ffe0e8" stroke="none" stroke-width="1" /><circle cx="114.8" cy="462.9" r="1.75" fill="#ff3560" stroke="none" stroke-width="1" /><circle cx="114.8" cy="462.9" r="0.65" fill="#ffe0e8" stroke="none" stroke-width="1" /><circle cx="120.4" cy="463.1" r="1.3" fill="#2a3ae0" stroke="none" stroke-width="1" /><circle cx="120.4" cy="463.1" r="0.5" fill="#e8ecff" stroke="none" stroke-width="1" /><circle cx="123.3" cy="462.9" r="1.3" fill="#2a3ae0" stroke="none" stroke-width="1" /><circle cx="123.3" cy="462.9" r="0.5" fill="#e8ecff" stroke="none" stroke-width="1" /><circle cx="126.1" cy="462.6" r="1.75" fill="#ff3560" stroke="none" stroke-width="1" /><circle cx="126.1" cy="462.6" r="0.65" fill="#ffe0e8" stroke="none" stroke-width="1" /><circle cx="97.6" cy="466.0" r="1.75" fill="#ff3560" stroke="none" stroke-width="1" /><circle cx="97.6" cy="466.0" r="0.65" fill="#ffe0e8" stroke="none" stroke-width="1" /><circle cx="110.2" cy="467.0" r="1.75" fill="#ff3560" stroke="none" stroke-width="1" /><circle cx="110.2" cy="467.0" r="0.65" fill="#ffe0e8" stroke="none" stroke-width="1" /><circle cx="112.5" cy="466.0" r="1.75" fill="#ff3560" stroke="none" stroke-width="1" /><circle cx="112.5" cy="466.0" r="0.65" fill="#ffe0e8" stroke="none" stroke-width="1" /><circle cx="116.2" cy="466.7" r="1.75" fill="#ff3560" stroke="none" stroke-width="1" /><circle cx="116.2" cy="466.7" r="0.65" fill="#ffe0e8" stroke="none" stroke-width="1" /><circle cx="119.1" cy="466.3" r="1.75" fill="#ff3560" stroke="none" stroke-width="1" /><circle cx="119.1" cy="466.3" r="0.65" fill="#ffe0e8" stroke="none" stroke-width="1" /><circle cx="121.8" cy="466.6" r="1.3" fill="#2a3ae0" stroke="none" stroke-width="1" /><circle cx="121.8" cy="466.6" r="0.5" fill="#e8ecff" stroke="none" stroke-width="1" /><circle cx="99.7" cy="469.1" r="1.75" fill="#ff3560" stroke="none" stroke-width="1" /><circle cx="99.7" cy="469.1" r="0.65" fill="#ffe0e8" stroke="none" stroke-width="1" /><circle cx="102.5" cy="470.2" r="1.75" fill="#ff3560" stroke="none" stroke-width="1" /><circle cx="102.5" cy="470.2" r="0.65" fill="#ffe0e8" stroke="none" stroke-width="1" /><circle cx="106.0" cy="469.1" r="1.3" fill="#2a3ae0" stroke="none" stroke-width="1" /><circle cx="106.0" cy="469.1" r="0.5" fill="#e8ecff" stroke="none" stroke-width="1" /><circle cx="107.9" cy="469.9" r="1.75" fill="#ff3560" stroke="none" stroke-width="1" /><circle cx="107.9" cy="469.9" r="0.65" fill="#ffe0e8" stroke="none" stroke-width="1" /><circle cx="111.2" cy="469.5" r="1.75" fill="#ff3560" stroke="none" stroke-width="1" /><circle cx="111.2" cy="469.5" r="0.65" fill="#ffe0e8" stroke="none" stroke-width="1" /><circle cx="117.4" cy="469.6" r="1.75" fill="#ff3560" stroke="none" stroke-width="1" /><circle cx="117.4" cy="469.6" r="0.65" fill="#ffe0e8" stroke="none" stroke-width="1" /><circle cx="121.0" cy="469.8" r="1.75" fill="#ff3560" stroke="none" stroke-width="1" /><circle cx="121.0" cy="469.8" r="0.65" fill="#ffe0e8" stroke="none" stroke-width="1" /><circle cx="123.4" cy="469.9" r="1.75" fill="#ff3560" stroke="none" stroke-width="1" /><circle cx="123.4" cy="469.9" r="0.65" fill="#ffe0e8" stroke="none" stroke-width="1" /><circle cx="127.0" cy="469.8" r="1.75" fill="#ff3560" stroke="none" stroke-width="1" /><circle cx="127.0" cy="469.8" r="0.65" fill="#ffe0e8" stroke="none" stroke-width="1" /><circle cx="75.5" cy="435.0" r="3.0" fill="#ffffff" stroke="#3848f0" stroke-width="0.8" /><circle cx="75.5" cy="435.0" r="1.9" fill="#ff3560" stroke="none" stroke-width="1" /><circle cx="75.5" cy="435.0" r="0.7" fill="#ffe0e8" stroke="none" stroke-width="1" /><circle cx="84.0" cy="447.0" r="3.0" fill="#ffffff" stroke="#3848f0" stroke-width="0.8" /><circle cx="84.0" cy="447.0" r="1.9" fill="#ff3560" stroke="none" stroke-width="1" /><circle cx="84.0" cy="447.0" r="0.7" fill="#ffe0e8" stroke="none" stroke-width="1" /><circle cx="94.5" cy="455.0" r="3.0" fill="#ffffff" stroke="#3848f0" stroke-width="0.8" /><circle cx="94.5" cy="455.0" r="1.9" fill="#ff3560" stroke="none" stroke-width="1" /><circle cx="94.5" cy="455.0" r="0.7" fill="#ffe0e8" stroke="none" stroke-width="1" /><circle cx="113.5" cy="435.5" r="3.0" fill="#ffffff" stroke="#3848f0" stroke-width="0.8" /><circle cx="113.5" cy="435.5" r="1.9" fill="#ff3560" stroke="none" stroke-width="1" /><circle cx="113.5" cy="435.5" r="0.7" fill="#ffe0e8" stroke="none" stroke-width="1" /><circle cx="109.0" cy="456.0" r="3.0" fill="#ffffff" stroke="#3848f0" stroke-width="0.8" /><circle cx="109.0" cy="456.0" r="1.9" fill="#ff3560" stroke="none" stroke-width="1" /><circle cx="109.0" cy="456.0" r="0.7" fill="#ffe0e8" stroke="none" stroke-width="1" /><circle cx="101.5" cy="464.5" r="3.0" fill="#ffffff" stroke="#3848f0" stroke-width="0.8" /><circle cx="101.5" cy="464.5" r="1.9" fill="#ff3560" stroke="none" stroke-width="1" /><circle cx="101.5" cy="464.5" r="0.7" fill="#ffe0e8" stroke="none" stroke-width="1" /><circle cx="121.0" cy="448.0" r="3.0" fill="#ffffff" stroke="#3848f0" stroke-width="0.8" /><circle cx="121.0" cy="448.0" r="1.9" fill="#ff3560" stroke="none" stroke-width="1" /><circle cx="121.0" cy="448.0" r="0.7" fill="#ffe0e8" stroke="none" stroke-width="1" /><circle cx="121.3" cy="434.3" r="2.4" fill="#1010a0" stroke="none" stroke-width="1" /><circle cx="121.3" cy="434.3" r="0.8" fill="#e0e0ff" stroke="none" stroke-width="1" /><rect x="63.4" y="422.5" width="79.0" height="109.0" fill="none" stroke="#444" stroke-width="0.9" /><rect x="149.6" y="422.5" width="118.7" height="109.0" fill="none" stroke="#444" stroke-width="0.9" /><line x1="63.4" y1="527.2" x2="65.9" y2="527.2" stroke="#444" stroke-width="0.8" /><line x1="142.4" y1="527.2" x2="139.9" y2="527.2" stroke="#444" stroke-width="0.8" /><line x1="149.6" y1="527.2" x2="152.1" y2="527.2" stroke="#444" stroke-width="0.8" /><line x1="268.3" y1="527.2" x2="265.8" y2="527.2" stroke="#444" stroke-width="0.8" /><text x="61.3" y="527.2" font-size="8.2" text-anchor="end" fill="#000" font-weight="normal" font-style="normal" dominant-baseline="central" >100</text><line x1="63.4" y1="485.2" x2="65.9" y2="485.2" stroke="#444" stroke-width="0.8" /><line x1="142.4" y1="485.2" x2="139.9" y2="485.2" stroke="#444" stroke-width="0.8" /><line x1="149.6" y1="485.2" x2="152.1" y2="485.2" stroke="#444" stroke-width="0.8" /><line x1="268.3" y1="485.2" x2="265.8" y2="485.2" stroke="#444" stroke-width="0.8" /><text x="61.3" y="485.2" font-size="8.2" text-anchor="end" fill="#000" font-weight="normal" font-style="normal" dominant-baseline="central" >110</text><line x1="63.4" y1="443.1" x2="65.9" y2="443.1" stroke="#444" stroke-width="0.8" /><line x1="142.4" y1="443.1" x2="139.9" y2="443.1" stroke="#444" stroke-width="0.8" /><line x1="149.6" y1="443.1" x2="152.1" y2="443.1" stroke="#444" stroke-width="0.8" /><line x1="268.3" y1="443.1" x2="265.8" y2="443.1" stroke="#444" stroke-width="0.8" /><text x="61.3" y="443.1" font-size="8.2" text-anchor="end" fill="#000" font-weight="normal" font-style="normal" dominant-baseline="central" >120</text><line x1="63.4" y1="506.2" x2="64.9" y2="506.2" stroke="#444" stroke-width="0.7" /><line x1="142.4" y1="506.2" x2="140.9" y2="506.2" stroke="#444" stroke-width="0.7" /><line x1="149.6" y1="506.2" x2="151.1" y2="506.2" stroke="#444" stroke-width="0.7" /><line x1="268.3" y1="506.2" x2="266.8" y2="506.2" stroke="#444" stroke-width="0.7" /><line x1="63.4" y1="464.1" x2="64.9" y2="464.1" stroke="#444" stroke-width="0.7" /><line x1="142.4" y1="464.1" x2="140.9" y2="464.1" stroke="#444" stroke-width="0.7" /><line x1="149.6" y1="464.1" x2="151.1" y2="464.1" stroke="#444" stroke-width="0.7" /><line x1="268.3" y1="464.1" x2="266.8" y2="464.1" stroke="#444" stroke-width="0.7" /><line x1="63.1" y1="422.5" x2="63.1" y2="425.0" stroke="#444" stroke-width="0.8" /><line x1="63.1" y1="531.5" x2="63.1" y2="529.0" stroke="#444" stroke-width="0.8" /><text x="63.1" y="536.2" font-size="8.9" text-anchor="middle" fill="#000" font-weight="normal" font-style="normal" dominant-baseline="central" >-100</text><line x1="82.8" y1="422.5" x2="82.8" y2="425.0" stroke="#444" stroke-width="0.8" /><line x1="82.8" y1="531.5" x2="82.8" y2="529.0" stroke="#444" stroke-width="0.8" /><text x="82.8" y="536.2" font-size="8.9" text-anchor="middle" fill="#000" font-weight="normal" font-style="normal" dominant-baseline="central" >0</text><line x1="102.5" y1="422.5" x2="102.5" y2="425.0" stroke="#444" stroke-width="0.8" /><line x1="102.5" y1="531.5" x2="102.5" y2="529.0" stroke="#444" stroke-width="0.8" /><text x="102.5" y="536.2" font-size="8.9" text-anchor="middle" fill="#000" font-weight="normal" font-style="normal" dominant-baseline="central" >100</text><line x1="122.2" y1="422.5" x2="122.2" y2="425.0" stroke="#444" stroke-width="0.8" /><line x1="122.2" y1="531.5" x2="122.2" y2="529.0" stroke="#444" stroke-width="0.8" /><text x="122.2" y="536.2" font-size="8.9" text-anchor="middle" fill="#000" font-weight="normal" font-style="normal" dominant-baseline="central" >200</text><line x1="73.0" y1="531.5" x2="73.0" y2="530.0" stroke="#444" stroke-width="0.7" /><line x1="92.6" y1="531.5" x2="92.6" y2="530.0" stroke="#444" stroke-width="0.7" /><line x1="112.3" y1="531.5" x2="112.3" y2="530.0" stroke="#444" stroke-width="0.7" /><line x1="132.1" y1="531.5" x2="132.1" y2="530.0" stroke="#444" stroke-width="0.7" /><line x1="149.7" y1="422.5" x2="149.7" y2="425.0" stroke="#444" stroke-width="0.8" /><line x1="149.7" y1="531.5" x2="149.7" y2="529.0" stroke="#444" stroke-width="0.8" /><text x="149.7" y="536.2" font-size="8.9" text-anchor="middle" fill="#000" font-weight="normal" font-style="normal" dominant-baseline="central" >-100</text><line x1="169.5" y1="422.5" x2="169.5" y2="425.0" stroke="#444" stroke-width="0.8" /><line x1="169.5" y1="531.5" x2="169.5" y2="529.0" stroke="#444" stroke-width="0.8" /><text x="169.5" y="536.2" font-size="8.9" text-anchor="middle" fill="#000" font-weight="normal" font-style="normal" dominant-baseline="central" >0</text><line x1="189.3" y1="422.5" x2="189.3" y2="425.0" stroke="#444" stroke-width="0.8" /><line x1="189.3" y1="531.5" x2="189.3" y2="529.0" stroke="#444" stroke-width="0.8" /><text x="189.3" y="536.2" font-size="8.9" text-anchor="middle" fill="#000" font-weight="normal" font-style="normal" dominant-baseline="central" >100</text><line x1="209.0" y1="422.5" x2="209.0" y2="425.0" stroke="#444" stroke-width="0.8" /><line x1="209.0" y1="531.5" x2="209.0" y2="529.0" stroke="#444" stroke-width="0.8" /><text x="209.0" y="536.2" font-size="8.9" text-anchor="middle" fill="#000" font-weight="normal" font-style="normal" dominant-baseline="central" >200</text><line x1="228.8" y1="422.5" x2="228.8" y2="425.0" stroke="#444" stroke-width="0.8" /><line x1="228.8" y1="531.5" x2="228.8" y2="529.0" stroke="#444" stroke-width="0.8" /><text x="228.8" y="536.2" font-size="8.9" text-anchor="middle" fill="#000" font-weight="normal" font-style="normal" dominant-baseline="central" >300</text><line x1="248.5" y1="422.5" x2="248.5" y2="425.0" stroke="#444" stroke-width="0.8" /><line x1="248.5" y1="531.5" x2="248.5" y2="529.0" stroke="#444" stroke-width="0.8" /><text x="248.5" y="536.2" font-size="8.9" text-anchor="middle" fill="#000" font-weight="normal" font-style="normal" dominant-baseline="central" >400</text><line x1="268.3" y1="422.5" x2="268.3" y2="425.0" stroke="#444" stroke-width="0.8" /><line x1="268.3" y1="531.5" x2="268.3" y2="529.0" stroke="#444" stroke-width="0.8" /><text x="268.3" y="536.2" font-size="8.9" text-anchor="middle" fill="#000" font-weight="normal" font-style="normal" dominant-baseline="central" >500</text><line x1="159.6" y1="531.5" x2="159.6" y2="530.0" stroke="#444" stroke-width="0.7" /><line x1="179.4" y1="531.5" x2="179.4" y2="530.0" stroke="#444" stroke-width="0.7" /><line x1="199.1" y1="531.5" x2="199.1" y2="530.0" stroke="#444" stroke-width="0.7" /><line x1="218.9" y1="531.5" x2="218.9" y2="530.0" stroke="#444" stroke-width="0.7" /><line x1="238.7" y1="531.5" x2="238.7" y2="530.0" stroke="#444" stroke-width="0.7" /><line x1="258.4" y1="531.5" x2="258.4" y2="530.0" stroke="#444" stroke-width="0.7" /><text transform="translate(39.2,482.7) rotate(-90)" font-size="10.2" text-anchor="middle" dominant-baseline="central">Weight (wt%)</text><text x="157.7" y="547.3" font-size="9.9" text-anchor="middle" fill="#000" font-weight="normal" font-style="normal" dominant-baseline="central" >Time (min)</text><line x1="63.1" y1="527.0" x2="82.8" y2="527.0" stroke="#ff70c8" stroke-width="1.8" /><path d="M82.8,526.8 L83.8,526.8 L84.8,526.8 L85.8,526.7 L86.7,526.7 L87.7,526.7 L88.7,526.7 L89.7,526.7 L90.7,526.7 L91.7,526.7 L92.6,526.6 L93.6,526.6 L94.6,526.6 L95.6,526.6 L96.6,526.6 L97.6,526.6 L98.6,526.6 L99.5,526.5 L100.5,526.5 L101.5,526.5 L102.5,526.5 L103.5,526.5 L104.5,526.5 L105.5,526.5 L106.4,526.4 L107.4,526.4 L108.4,526.4 L109.4,526.4 L110.4,526.4 L111.4,526.4 L112.3,526.4 L113.3,526.3 L114.3,526.3 L115.3,526.3 L116.3,526.3 L117.3,526.3 L118.3,526.3 L119.2,526.3 L120.2,526.2 L121.2,526.2 L122.2,526.2 L123.2,526.2 L124.2,526.2 L125.2,526.2 L126.1,526.2 L127.1,526.1 L128.1,526.1 L129.1,526.1 L130.1,526.1 L131.1,526.1 L132.1,526.1 L133.0,526.1 L134.0,526.1 L135.0,526.0 L136.0,526.0 L137.0,526.0 L138.0,526.0 L138.9,526.0 L139.9,526.0 L140.9,526.0 L141.9,525.9" stroke="#9aa82a" stroke-width="1.8" fill="none" /><path d="M82.8,527.2 L83.8,520.0 L84.8,516.8 L85.8,515.4 L86.7,514.8 L87.7,514.5 L88.7,514.3 L89.7,514.2 L90.7,514.2 L91.7,514.1 L92.6,514.1 L93.6,514.1 L94.6,514.0 L95.6,514.0 L96.6,514.0 L97.6,513.9 L98.6,513.9 L99.5,513.9 L100.5,513.8 L101.5,513.8 L102.5,513.8 L103.5,513.8 L104.5,513.7 L105.5,513.7 L106.4,513.7 L107.4,513.7 L108.4,513.7 L109.4,513.7 L110.4,513.6 L111.4,513.6 L112.3,513.6 L113.3,513.6 L114.3,513.6 L115.3,513.6 L116.3,513.6 L117.3,513.5 L118.3,513.5 L119.2,513.5 L120.2,513.5 L121.2,513.5 L122.2,513.5 L123.2,513.5 L124.2,513.5 L125.2,513.5 L126.1,513.5 L127.1,513.5 L128.1,513.4 L129.1,513.4 L130.1,513.4 L131.1,513.4 L132.1,513.4 L133.0,513.4 L134.0,513.4 L135.0,513.4 L136.0,513.4 L137.0,513.4 L138.0,513.4 L138.9,513.4 L139.9,513.4 L140.9,513.4 L141.9,513.4" stroke="#e0308a" stroke-width="1.8" fill="none" /><path d="M82.8,527.2 L83.8,519.7 L84.8,514.6 L85.8,511.0 L86.7,508.6 L87.7,506.9 L88.7,505.8 L89.7,504.9 L90.7,504.4 L91.7,503.9 L92.6,503.6 L93.6,503.4 L94.6,503.2 L95.6,503.0 L96.6,502.9 L97.6,502.8 L98.6,502.7 L99.5,502.7 L100.5,502.6 L101.5,502.5 L102.5,502.4 L103.5,502.4 L104.5,502.3 L105.5,502.3 L106.4,502.2 L107.4,502.2 L108.4,502.1 L109.4,502.1 L110.4,502.0 L111.4,502.0 L112.3,501.9 L113.3,501.9 L114.3,501.9 L115.3,501.8 L116.3,501.8 L117.3,501.8 L118.3,501.7 L119.2,501.7 L120.2,501.7 L121.2,501.6 L122.2,501.6 L123.2,501.6 L124.2,501.5 L125.2,501.5 L126.1,501.5 L127.1,501.5 L128.1,501.4 L129.1,501.4 L130.1,501.4 L131.1,501.4 L132.1,501.3 L133.0,501.3 L134.0,501.3 L135.0,501.3 L136.0,501.3 L137.0,501.2 L138.0,501.2 L138.9,501.2 L139.9,501.2 L140.9,501.2 L141.9,501.2" stroke="#3a86f0" stroke-width="1.8" fill="none" /><path d="M82.8,527.2 L83.8,518.2 L84.8,511.4 L85.8,506.3 L86.7,502.3 L87.7,499.3 L88.7,497.1 L89.7,495.3 L90.7,494.0 L91.7,492.9 L92.6,492.1 L93.6,491.5 L94.6,491.0 L95.6,490.7 L96.6,490.4 L97.6,490.1 L98.6,489.9 L99.5,489.8 L100.5,489.6 L101.5,489.5 L102.5,489.4 L103.5,489.3 L104.5,489.3 L105.5,489.2 L106.4,489.1 L107.4,489.1 L108.4,489.0 L109.4,489.0 L110.4,488.9 L111.4,488.9 L112.3,488.9 L113.3,488.8 L114.3,488.8 L115.3,488.7 L116.3,488.7 L117.3,488.7 L118.3,488.6 L119.2,488.6 L120.2,488.6 L121.2,488.5 L122.2,488.5 L123.2,488.5 L124.2,488.4 L125.2,488.4 L126.1,488.4 L127.1,488.3 L128.1,488.3 L129.1,488.3 L130.1,488.3 L131.1,488.2 L132.1,488.2 L133.0,488.2 L134.0,488.2 L135.0,488.1 L136.0,488.1 L137.0,488.1 L138.0,488.1 L138.9,488.1 L139.9,488.0 L140.9,488.0 L141.9,488.0" stroke="#2e7a6a" stroke-width="1.8" fill="none" /><path d="M82.8,527.2 L83.8,519.2 L84.8,513.5 L85.8,509.3 L86.7,506.0 L87.7,503.5 L88.7,501.5 L89.7,499.7 L90.7,498.2 L91.7,496.9 L92.6,495.7 L93.6,494.6 L94.6,493.5 L95.6,492.5 L96.6,491.6 L97.6,490.7 L98.6,489.9 L99.5,489.1 L100.5,488.3 L101.5,487.6 L102.5,486.9 L103.5,486.2 L104.5,485.6 L105.5,484.9 L106.4,484.4 L107.4,483.8 L108.4,483.2 L109.4,482.7 L110.4,482.2 L111.4,481.7 L112.3,481.3 L113.3,480.8 L114.3,480.4 L115.3,480.0 L116.3,479.6 L117.3,479.2 L118.3,478.9 L119.2,478.5 L120.2,478.2 L121.2,477.9 L122.2,477.6 L123.2,477.3 L124.2,477.0 L125.2,476.7 L126.1,476.5 L127.1,476.2 L128.1,476.0 L129.1,475.8 L130.1,475.6 L131.1,475.3 L132.1,475.1 L133.0,475.0 L134.0,474.8 L135.0,474.6 L136.0,474.4 L137.0,474.3 L138.0,474.1 L138.9,474.0 L139.9,473.8 L140.9,473.7 L141.9,473.5" stroke="#4cdc32" stroke-width="1.8" fill="none" /><line x1="149.7" y1="468.8" x2="169.5" y2="468.8" stroke="#4cdc32" stroke-width="1.8" /><path d="M169.5,468.8 L171.1,469.0 L172.8,469.3 L174.4,469.6 L176.1,469.8 L177.7,470.1 L179.4,470.3 L181.0,470.5 L182.7,470.8 L184.3,471.0 L186.0,471.2 L187.6,471.4 L189.3,471.6 L190.9,471.8 L192.6,472.0 L194.2,472.2 L195.8,472.4 L197.5,472.5 L199.1,472.7 L200.8,472.9 L202.4,473.1 L204.1,473.2 L205.7,473.4 L207.4,473.5 L209.0,473.7 L210.7,473.8 L212.3,473.9 L214.0,474.1 L215.6,474.2 L217.3,474.3 L218.9,474.5 L220.5,474.6 L222.2,474.7 L223.8,474.8 L225.5,474.9 L227.1,475.0 L228.8,475.1 L230.4,475.2 L232.1,475.3 L233.7,475.4 L235.4,475.5 L237.0,475.6 L238.7,475.7 L240.3,475.8 L242.0,475.9 L243.6,476.0 L245.2,476.0 L246.9,476.1 L248.5,476.2 L250.2,476.3 L251.8,476.3 L253.5,476.4 L255.1,476.5 L256.8,476.5 L258.4,476.6 L260.1,476.7 L261.7,476.7 L263.4,476.8 L265.0,476.8 L266.7,476.9 L268.3,476.9" stroke="#4cdc32" stroke-width="1.3" fill="none" /><line x1="149.7" y1="486.8" x2="169.5" y2="486.8" stroke="#2e7a6a" stroke-width="1.8" /><path d="M169.5,486.8 L171.1,487.3 L172.8,487.8 L174.4,488.2 L176.1,488.7 L177.7,489.1 L179.4,489.5 L181.0,489.9 L182.7,490.2 L184.3,490.6 L186.0,490.9 L187.6,491.3 L189.3,491.6 L190.9,491.9 L192.6,492.2 L194.2,492.5 L195.8,492.8 L197.5,493.0 L199.1,493.3 L200.8,493.5 L202.4,493.8 L204.1,494.0 L205.7,494.2 L207.4,494.4 L209.0,494.6 L210.7,494.8 L212.3,495.0 L214.0,495.2 L215.6,495.4 L217.3,495.5 L218.9,495.7 L220.5,495.8 L222.2,496.0 L223.8,496.1 L225.5,496.3 L227.1,496.4 L228.8,496.5 L230.4,496.7 L232.1,496.8 L233.7,496.9 L235.4,497.0 L237.0,497.1 L238.7,497.2 L240.3,497.3 L242.0,497.4 L243.6,497.5 L245.2,497.6 L246.9,497.7 L248.5,497.8 L250.2,497.8 L251.8,497.9 L253.5,498.0 L255.1,498.0 L256.8,498.1 L258.4,498.2 L260.1,498.2 L261.7,498.3 L263.4,498.4 L265.0,498.4 L266.7,498.5 L268.3,498.5" stroke="#2e7a6a" stroke-width="1.3" fill="none" /><line x1="149.7" y1="499.9" x2="169.5" y2="499.9" stroke="#3a86f0" stroke-width="1.8" /><path d="M169.5,499.9 L171.1,500.2 L172.8,500.5 L174.4,500.8 L176.1,501.0 L177.7,501.3 L179.4,501.6 L181.0,501.8 L182.7,502.1 L184.3,502.3 L186.0,502.5 L187.6,502.7 L189.3,503.0 L190.9,503.2 L192.6,503.4 L194.2,503.6 L195.8,503.7 L197.5,503.9 L199.1,504.1 L200.8,504.3 L202.4,504.4 L204.1,504.6 L205.7,504.8 L207.4,504.9 L209.0,505.1 L210.7,505.2 L212.3,505.3 L214.0,505.5 L215.6,505.6 L217.3,505.7 L218.9,505.8 L220.5,506.0 L222.2,506.1 L223.8,506.2 L225.5,506.3 L227.1,506.4 L228.8,506.5 L230.4,506.6 L232.1,506.7 L233.7,506.8 L235.4,506.9 L237.0,506.9 L238.7,507.0 L240.3,507.1 L242.0,507.2 L243.6,507.3 L245.2,507.3 L246.9,507.4 L248.5,507.5 L250.2,507.5 L251.8,507.6 L253.5,507.7 L255.1,507.7 L256.8,507.8 L258.4,507.8 L260.1,507.9 L261.7,507.9 L263.4,508.0 L265.0,508.0 L266.7,508.1 L268.3,508.1" stroke="#3a86f0" stroke-width="1.3" fill="none" /><line x1="149.7" y1="513.3" x2="169.5" y2="513.3" stroke="#e0308a" stroke-width="1.8" /><path d="M169.5,513.3 L171.1,513.7 L172.8,514.0 L174.4,514.4 L176.1,514.7 L177.7,515.0 L179.4,515.3 L181.0,515.5 L182.7,515.8 L184.3,516.0 L186.0,516.3 L187.6,516.5 L189.3,516.7 L190.9,516.9 L192.6,517.1 L194.2,517.3 L195.8,517.5 L197.5,517.7 L199.1,517.8 L200.8,518.0 L202.4,518.1 L204.1,518.3 L205.7,518.4 L207.4,518.6 L209.0,518.7 L210.7,518.8 L212.3,518.9 L214.0,519.0 L215.6,519.1 L217.3,519.2 L218.9,519.3 L220.5,519.4 L222.2,519.5 L223.8,519.6 L225.5,519.7 L227.1,519.7 L228.8,519.8 L230.4,519.9 L232.1,519.9 L233.7,520.0 L235.4,520.1 L237.0,520.1 L238.7,520.2 L240.3,520.2 L242.0,520.3 L243.6,520.3 L245.2,520.4 L246.9,520.4 L248.5,520.4 L250.2,520.5 L251.8,520.5 L253.5,520.6 L255.1,520.6 L256.8,520.6 L258.4,520.7 L260.1,520.7 L261.7,520.7 L263.4,520.7 L265.0,520.8 L266.7,520.8 L268.3,520.8" stroke="#e0308a" stroke-width="1.3" fill="none" /><line x1="149.7" y1="527.2" x2="169.5" y2="527.2" stroke="#9aa82a" stroke-width="1.8" /><path d="M169.5,527.2 L171.1,527.2 L172.8,527.2 L174.4,527.2 L176.1,527.2 L177.7,527.3 L179.4,527.3 L181.0,527.3 L182.7,527.3 L184.3,527.3 L186.0,527.3 L187.6,527.3 L189.3,527.3 L190.9,527.3 L192.6,527.3 L194.2,527.3 L195.8,527.4 L197.5,527.4 L199.1,527.4 L200.8,527.4 L202.4,527.4 L204.1,527.4 L205.7,527.4 L207.4,527.4 L209.0,527.4 L210.7,527.4 L212.3,527.4 L214.0,527.4 L215.6,527.4 L217.3,527.4 L218.9,527.4 L220.5,527.4 L222.2,527.4 L223.8,527.5 L225.5,527.5 L227.1,527.5 L228.8,527.5 L230.4,527.5 L232.1,527.5 L233.7,527.5 L235.4,527.5 L237.0,527.5 L238.7,527.5 L240.3,527.5 L242.0,527.5 L243.6,527.5 L245.2,527.5 L246.9,527.5 L248.5,527.5 L250.2,527.5 L251.8,527.5 L253.5,527.5 L255.1,527.5 L256.8,527.5 L258.4,527.5 L260.1,527.5 L261.7,527.5 L263.4,527.5 L265.0,527.5 L266.7,527.5 L268.3,527.5" stroke="#9aa82a" stroke-width="1.3" fill="none" /><line x1="169.2" y1="430.6" x2="188.6" y2="430.6" stroke="#e0308a" stroke-width="1.8" /><text x="190.6" y="430.6" font-size="9.6" text-anchor="start" fill="#000" font-weight="normal" font-style="normal" dominant-baseline="central" >H(10)</text><line x1="169.2" y1="440.3" x2="188.6" y2="440.3" stroke="#3a86f0" stroke-width="1.8" /><text x="190.6" y="440.3" font-size="9.6" text-anchor="start" fill="#000" font-weight="normal" font-style="normal" dominant-baseline="central" >H(20)</text><line x1="169.2" y1="449.4" x2="188.6" y2="449.4" stroke="#2e7a6a" stroke-width="1.8" /><text x="190.6" y="449.4" font-size="9.6" text-anchor="start" fill="#000" font-weight="normal" font-style="normal" dominant-baseline="central" >H(30)</text><line x1="219.2" y1="430.6" x2="238.6" y2="430.6" stroke="#4cdc32" stroke-width="1.8" /><text x="240.6" y="430.6" font-size="9.6" text-anchor="start" fill="#000" font-weight="normal" font-style="normal" dominant-baseline="central" >H(40)</text><line x1="219.2" y1="440.3" x2="238.6" y2="440.3" stroke="#9aa82a" stroke-width="1.8" /><text x="240.6" y="440.3" font-size="9.6" text-anchor="start" fill="#000" font-weight="normal" font-style="normal" dominant-baseline="central" >H(50)</text><text x="352.2" y="409.6" font-size="17" text-anchor="start" fill="#000" font-weight="bold" font-style="normal" dominant-baseline="central" >g</text><rect x="403.6" y="511.6" width="6.6" height="13.6" fill="#f0308a" stroke="none" stroke-width="1" /><rect x="411.5" y="499.4" width="6.6" height="25.8" fill="#4a8cf5" stroke="none" stroke-width="1" /><rect x="419.5" y="484.8" width="6.6" height="40.4" fill="#3a8074" stroke="none" stroke-width="1" /><rect x="427.5" y="470.9" width="6.6" height="54.3" fill="#40e020" stroke="none" stroke-width="1" /><rect x="435.4" y="524.2" width="6.6" height="1.0" fill="#b0b030" stroke="none" stroke-width="1" /><rect x="475.3" y="524.2" width="6.6" height="1.0" fill="#222" stroke="none" stroke-width="1" /><rect x="398.9" y="423.5" width="87.8" height="101.7" fill="none" stroke="#444" stroke-width="0.9" /><line x1="398.9" y1="525.2" x2="400.9" y2="525.2" stroke="#444" stroke-width="0.7" /><line x1="486.7" y1="525.2" x2="484.7" y2="525.2" stroke="#444" stroke-width="0.7" /><line x1="398.9" y1="508.2" x2="400.9" y2="508.2" stroke="#444" stroke-width="0.7" /><line x1="486.7" y1="508.2" x2="484.7" y2="508.2" stroke="#444" stroke-width="0.7" /><line x1="398.9" y1="491.2" x2="400.9" y2="491.2" stroke="#444" stroke-width="0.7" /><line x1="486.7" y1="491.2" x2="484.7" y2="491.2" stroke="#444" stroke-width="0.7" /><line x1="398.9" y1="474.3" x2="400.9" y2="474.3" stroke="#444" stroke-width="0.7" /><line x1="486.7" y1="474.3" x2="484.7" y2="474.3" stroke="#444" stroke-width="0.7" /><line x1="398.9" y1="457.3" x2="400.9" y2="457.3" stroke="#444" stroke-width="0.7" /><line x1="486.7" y1="457.3" x2="484.7" y2="457.3" stroke="#444" stroke-width="0.7" /><line x1="398.9" y1="440.3" x2="400.9" y2="440.3" stroke="#444" stroke-width="0.7" /><line x1="486.7" y1="440.3" x2="484.7" y2="440.3" stroke="#444" stroke-width="0.7" /><line x1="398.9" y1="423.3" x2="400.9" y2="423.3" stroke="#444" stroke-width="0.7" /><line x1="486.7" y1="423.3" x2="484.7" y2="423.3" stroke="#444" stroke-width="0.7" /><line x1="398.9" y1="525.2" x2="398.9" y2="523.0" stroke="#444" stroke-width="0.7" /><line x1="398.9" y1="423.5" x2="398.9" y2="425.7" stroke="#444" stroke-width="0.7" /><text x="398.9" y="530.8" font-size="9.6" text-anchor="middle" fill="#000" font-weight="normal" font-style="normal" dominant-baseline="central" >0</text><line x1="406.9" y1="525.2" x2="406.9" y2="523.9" stroke="#444" stroke-width="0.7" /><line x1="406.9" y1="423.5" x2="406.9" y2="424.8" stroke="#444" stroke-width="0.7" /><line x1="414.8" y1="525.2" x2="414.8" y2="523.0" stroke="#444" stroke-width="0.7" /><line x1="414.8" y1="423.5" x2="414.8" y2="425.7" stroke="#444" stroke-width="0.7" /><text x="414.8" y="530.8" font-size="9.6" text-anchor="middle" fill="#000" font-weight="normal" font-style="normal" dominant-baseline="central" >20</text><line x1="422.8" y1="525.2" x2="422.8" y2="523.9" stroke="#444" stroke-width="0.7" /><line x1="422.8" y1="423.5" x2="422.8" y2="424.8" stroke="#444" stroke-width="0.7" /><line x1="430.8" y1="525.2" x2="430.8" y2="523.0" stroke="#444" stroke-width="0.7" /><line x1="430.8" y1="423.5" x2="430.8" y2="425.7" stroke="#444" stroke-width="0.7" /><text x="430.8" y="530.8" font-size="9.6" text-anchor="middle" fill="#000" font-weight="normal" font-style="normal" dominant-baseline="central" >40</text><line x1="438.8" y1="525.2" x2="438.8" y2="523.9" stroke="#444" stroke-width="0.7" /><line x1="438.8" y1="423.5" x2="438.8" y2="424.8" stroke="#444" stroke-width="0.7" /><line x1="446.7" y1="525.2" x2="446.7" y2="523.0" stroke="#444" stroke-width="0.7" /><line x1="446.7" y1="423.5" x2="446.7" y2="425.7" stroke="#444" stroke-width="0.7" /><text x="446.7" y="530.8" font-size="9.6" text-anchor="middle" fill="#000" font-weight="normal" font-style="normal" dominant-baseline="central" >60</text><line x1="454.7" y1="525.2" x2="454.7" y2="523.9" stroke="#444" stroke-width="0.7" /><line x1="454.7" y1="423.5" x2="454.7" y2="424.8" stroke="#444" stroke-width="0.7" /><line x1="462.7" y1="525.2" x2="462.7" y2="523.0" stroke="#444" stroke-width="0.7" /><line x1="462.7" y1="423.5" x2="462.7" y2="425.7" stroke="#444" stroke-width="0.7" /><text x="462.7" y="530.8" font-size="9.6" text-anchor="middle" fill="#000" font-weight="normal" font-style="normal" dominant-baseline="central" >80</text><line x1="470.6" y1="525.2" x2="470.6" y2="523.9" stroke="#444" stroke-width="0.7" /><line x1="470.6" y1="423.5" x2="470.6" y2="424.8" stroke="#444" stroke-width="0.7" /><line x1="478.6" y1="525.2" x2="478.6" y2="523.0" stroke="#444" stroke-width="0.7" /><line x1="478.6" y1="423.5" x2="478.6" y2="425.7" stroke="#444" stroke-width="0.7" /><text x="478.6" y="530.8" font-size="9.6" text-anchor="middle" fill="#000" font-weight="normal" font-style="normal" dominant-baseline="central" >100</text><text x="409.4" y="436.5" font-size="11.6" dominant-baseline="central">H(<tspan font-style="italic">n</tspan>)</text><text x="442.8" y="542.6" font-size="11.6" text-anchor="middle" fill="#000" font-weight="normal" font-style="normal" dominant-baseline="central" >PEI (wt%)</text><rect x="496.7" y="512.0" width="6.6" height="13.2" fill="#f0308a" stroke="none" stroke-width="1" /><rect x="504.6" y="497.2" width="6.6" height="28.0" fill="#4a8cf5" stroke="none" stroke-width="1" /><rect x="512.6" y="482.4" width="6.6" height="42.8" fill="#3a8074" stroke="none" stroke-width="1" /><rect x="520.6" y="470.5" width="6.6" height="54.7" fill="#40e020" stroke="none" stroke-width="1" /><rect x="528.6" y="455.6" width="6.6" height="69.6" fill="#a8b030" stroke="none" stroke-width="1" /><rect x="536.5" y="520.8" width="6.6" height="4.4" fill="#f08040" stroke="none" stroke-width="1" /><rect x="568.4" y="524.2" width="6.6" height="1.0" fill="#222" stroke="none" stroke-width="1" /><rect x="492.0" y="423.5" width="87.4" height="101.7" fill="none" stroke="#444" stroke-width="0.9" /><line x1="492.0" y1="525.2" x2="494.0" y2="525.2" stroke="#444" stroke-width="0.7" /><line x1="579.4" y1="525.2" x2="577.4" y2="525.2" stroke="#444" stroke-width="0.7" /><line x1="492.0" y1="508.2" x2="494.0" y2="508.2" stroke="#444" stroke-width="0.7" /><line x1="579.4" y1="508.2" x2="577.4" y2="508.2" stroke="#444" stroke-width="0.7" /><line x1="492.0" y1="491.2" x2="494.0" y2="491.2" stroke="#444" stroke-width="0.7" /><line x1="579.4" y1="491.2" x2="577.4" y2="491.2" stroke="#444" stroke-width="0.7" /><line x1="492.0" y1="474.3" x2="494.0" y2="474.3" stroke="#444" stroke-width="0.7" /><line x1="579.4" y1="474.3" x2="577.4" y2="474.3" stroke="#444" stroke-width="0.7" /><line x1="492.0" y1="457.3" x2="494.0" y2="457.3" stroke="#444" stroke-width="0.7" /><line x1="579.4" y1="457.3" x2="577.4" y2="457.3" stroke="#444" stroke-width="0.7" /><line x1="492.0" y1="440.3" x2="494.0" y2="440.3" stroke="#444" stroke-width="0.7" /><line x1="579.4" y1="440.3" x2="577.4" y2="440.3" stroke="#444" stroke-width="0.7" /><line x1="492.0" y1="423.3" x2="494.0" y2="423.3" stroke="#444" stroke-width="0.7" /><line x1="579.4" y1="423.3" x2="577.4" y2="423.3" stroke="#444" stroke-width="0.7" /><line x1="492.0" y1="525.2" x2="492.0" y2="523.0" stroke="#444" stroke-width="0.7" /><line x1="492.0" y1="423.5" x2="492.0" y2="425.7" stroke="#444" stroke-width="0.7" /><text x="492.0" y="530.8" font-size="9.6" text-anchor="middle" fill="#000" font-weight="normal" font-style="normal" dominant-baseline="central" >0</text><line x1="500.0" y1="525.2" x2="500.0" y2="523.9" stroke="#444" stroke-width="0.7" /><line x1="500.0" y1="423.5" x2="500.0" y2="424.8" stroke="#444" stroke-width="0.7" /><line x1="507.9" y1="525.2" x2="507.9" y2="523.0" stroke="#444" stroke-width="0.7" /><line x1="507.9" y1="423.5" x2="507.9" y2="425.7" stroke="#444" stroke-width="0.7" /><text x="507.9" y="530.8" font-size="9.6" text-anchor="middle" fill="#000" font-weight="normal" font-style="normal" dominant-baseline="central" >20</text><line x1="515.9" y1="525.2" x2="515.9" y2="523.9" stroke="#444" stroke-width="0.7" /><line x1="515.9" y1="423.5" x2="515.9" y2="424.8" stroke="#444" stroke-width="0.7" /><line x1="523.9" y1="525.2" x2="523.9" y2="523.0" stroke="#444" stroke-width="0.7" /><line x1="523.9" y1="423.5" x2="523.9" y2="425.7" stroke="#444" stroke-width="0.7" /><text x="523.9" y="530.8" font-size="9.6" text-anchor="middle" fill="#000" font-weight="normal" font-style="normal" dominant-baseline="central" >40</text><line x1="531.9" y1="525.2" x2="531.9" y2="523.9" stroke="#444" stroke-width="0.7" /><line x1="531.9" y1="423.5" x2="531.9" y2="424.8" stroke="#444" stroke-width="0.7" /><line x1="539.8" y1="525.2" x2="539.8" y2="523.0" stroke="#444" stroke-width="0.7" /><line x1="539.8" y1="423.5" x2="539.8" y2="425.7" stroke="#444" stroke-width="0.7" /><text x="539.8" y="530.8" font-size="9.6" text-anchor="middle" fill="#000" font-weight="normal" font-style="normal" dominant-baseline="central" >60</text><line x1="547.8" y1="525.2" x2="547.8" y2="523.9" stroke="#444" stroke-width="0.7" /><line x1="547.8" y1="423.5" x2="547.8" y2="424.8" stroke="#444" stroke-width="0.7" /><line x1="555.8" y1="525.2" x2="555.8" y2="523.0" stroke="#444" stroke-width="0.7" /><line x1="555.8" y1="423.5" x2="555.8" y2="425.7" stroke="#444" stroke-width="0.7" /><text x="555.8" y="530.8" font-size="9.6" text-anchor="middle" fill="#000" font-weight="normal" font-style="normal" dominant-baseline="central" >80</text><line x1="563.7" y1="525.2" x2="563.7" y2="523.9" stroke="#444" stroke-width="0.7" /><line x1="563.7" y1="423.5" x2="563.7" y2="424.8" stroke="#444" stroke-width="0.7" /><line x1="571.7" y1="525.2" x2="571.7" y2="523.0" stroke="#444" stroke-width="0.7" /><line x1="571.7" y1="423.5" x2="571.7" y2="425.7" stroke="#444" stroke-width="0.7" /><text x="571.7" y="530.8" font-size="9.6" text-anchor="middle" fill="#000" font-weight="normal" font-style="normal" dominant-baseline="central" >100</text><text x="502.5" y="436.5" font-size="11.6" dominant-baseline="central">M(<tspan font-style="italic">n</tspan>)</text><text x="535.7" y="542.6" font-size="11.6" text-anchor="middle" fill="#000" font-weight="normal" font-style="normal" dominant-baseline="central" >PEI (wt%)</text><rect x="589.5" y="515.0" width="6.6" height="10.2" fill="#f0308a" stroke="none" stroke-width="1" /><rect x="597.4" y="500.9" width="6.6" height="24.3" fill="#4a8cf5" stroke="none" stroke-width="1" /><rect x="605.4" y="483.9" width="6.6" height="41.3" fill="#3a8074" stroke="none" stroke-width="1" /><rect x="613.4" y="471.9" width="6.6" height="53.3" fill="#40e020" stroke="none" stroke-width="1" /><rect x="621.4" y="458.3" width="6.6" height="66.9" fill="#a8b030" stroke="none" stroke-width="1" /><rect x="629.3" y="443.7" width="6.6" height="81.5" fill="#f08040" stroke="none" stroke-width="1" /><rect x="637.3" y="437.9" width="6.6" height="87.3" fill="#7a4010" stroke="none" stroke-width="1" /><rect x="645.3" y="524.2" width="6.6" height="1.0" fill="#999" stroke="none" stroke-width="1" /><rect x="661.2" y="524.2" width="6.6" height="1.0" fill="#222" stroke="none" stroke-width="1" /><rect x="584.8" y="423.5" width="87.4" height="101.7" fill="none" stroke="#444" stroke-width="0.9" /><line x1="584.8" y1="525.2" x2="586.8" y2="525.2" stroke="#444" stroke-width="0.7" /><line x1="672.2" y1="525.2" x2="670.2" y2="525.2" stroke="#444" stroke-width="0.7" /><line x1="584.8" y1="508.2" x2="586.8" y2="508.2" stroke="#444" stroke-width="0.7" /><line x1="672.2" y1="508.2" x2="670.2" y2="508.2" stroke="#444" stroke-width="0.7" /><line x1="584.8" y1="491.2" x2="586.8" y2="491.2" stroke="#444" stroke-width="0.7" /><line x1="672.2" y1="491.2" x2="670.2" y2="491.2" stroke="#444" stroke-width="0.7" /><line x1="584.8" y1="474.3" x2="586.8" y2="474.3" stroke="#444" stroke-width="0.7" /><line x1="672.2" y1="474.3" x2="670.2" y2="474.3" stroke="#444" stroke-width="0.7" /><line x1="584.8" y1="457.3" x2="586.8" y2="457.3" stroke="#444" stroke-width="0.7" /><line x1="672.2" y1="457.3" x2="670.2" y2="457.3" stroke="#444" stroke-width="0.7" /><line x1="584.8" y1="440.3" x2="586.8" y2="440.3" stroke="#444" stroke-width="0.7" /><line x1="672.2" y1="440.3" x2="670.2" y2="440.3" stroke="#444" stroke-width="0.7" /><line x1="584.8" y1="423.3" x2="586.8" y2="423.3" stroke="#444" stroke-width="0.7" /><line x1="672.2" y1="423.3" x2="670.2" y2="423.3" stroke="#444" stroke-width="0.7" /><line x1="584.8" y1="525.2" x2="584.8" y2="523.0" stroke="#444" stroke-width="0.7" /><line x1="584.8" y1="423.5" x2="584.8" y2="425.7" stroke="#444" stroke-width="0.7" /><text x="584.8" y="530.8" font-size="9.6" text-anchor="middle" fill="#000" font-weight="normal" font-style="normal" dominant-baseline="central" >0</text><line x1="592.8" y1="525.2" x2="592.8" y2="523.9" stroke="#444" stroke-width="0.7" /><line x1="592.8" y1="423.5" x2="592.8" y2="424.8" stroke="#444" stroke-width="0.7" /><line x1="600.7" y1="525.2" x2="600.7" y2="523.0" stroke="#444" stroke-width="0.7" /><line x1="600.7" y1="423.5" x2="600.7" y2="425.7" stroke="#444" stroke-width="0.7" /><text x="600.7" y="530.8" font-size="9.6" text-anchor="middle" fill="#000" font-weight="normal" font-style="normal" dominant-baseline="central" >20</text><line x1="608.7" y1="525.2" x2="608.7" y2="523.9" stroke="#444" stroke-width="0.7" /><line x1="608.7" y1="423.5" x2="608.7" y2="424.8" stroke="#444" stroke-width="0.7" /><line x1="616.7" y1="525.2" x2="616.7" y2="523.0" stroke="#444" stroke-width="0.7" /><line x1="616.7" y1="423.5" x2="616.7" y2="425.7" stroke="#444" stroke-width="0.7" /><text x="616.7" y="530.8" font-size="9.6" text-anchor="middle" fill="#000" font-weight="normal" font-style="normal" dominant-baseline="central" >40</text><line x1="624.6" y1="525.2" x2="624.6" y2="523.9" stroke="#444" stroke-width="0.7" /><line x1="624.6" y1="423.5" x2="624.6" y2="424.8" stroke="#444" stroke-width="0.7" /><line x1="632.6" y1="525.2" x2="632.6" y2="523.0" stroke="#444" stroke-width="0.7" /><line x1="632.6" y1="423.5" x2="632.6" y2="425.7" stroke="#444" stroke-width="0.7" /><text x="632.6" y="530.8" font-size="9.6" text-anchor="middle" fill="#000" font-weight="normal" font-style="normal" dominant-baseline="central" >60</text><line x1="640.6" y1="525.2" x2="640.6" y2="523.9" stroke="#444" stroke-width="0.7" /><line x1="640.6" y1="423.5" x2="640.6" y2="424.8" stroke="#444" stroke-width="0.7" /><line x1="648.6" y1="525.2" x2="648.6" y2="523.0" stroke="#444" stroke-width="0.7" /><line x1="648.6" y1="423.5" x2="648.6" y2="425.7" stroke="#444" stroke-width="0.7" /><text x="648.6" y="530.8" font-size="9.6" text-anchor="middle" fill="#000" font-weight="normal" font-style="normal" dominant-baseline="central" >80</text><line x1="656.5" y1="525.2" x2="656.5" y2="523.9" stroke="#444" stroke-width="0.7" /><line x1="656.5" y1="423.5" x2="656.5" y2="424.8" stroke="#444" stroke-width="0.7" /><line x1="664.5" y1="525.2" x2="664.5" y2="523.0" stroke="#444" stroke-width="0.7" /><line x1="664.5" y1="423.5" x2="664.5" y2="425.7" stroke="#444" stroke-width="0.7" /><text x="664.5" y="530.8" font-size="9.6" text-anchor="middle" fill="#000" font-weight="normal" font-style="normal" dominant-baseline="central" >100</text><text x="595.3" y="436.5" font-size="11.6" dominant-baseline="central">L(<tspan font-style="italic">n</tspan>)</text><text x="628.5" y="542.6" font-size="11.6" text-anchor="middle" fill="#000" font-weight="normal" font-style="normal" dominant-baseline="central" >PEI (wt%)</text><text x="396.5" y="525.2" font-size="9.6" text-anchor="end" fill="#000" font-weight="normal" font-style="normal" dominant-baseline="central" >0</text><text x="396.5" y="508.2" font-size="9.6" text-anchor="end" fill="#000" font-weight="normal" font-style="normal" dominant-baseline="central" >1</text><text x="396.5" y="491.2" font-size="9.6" text-anchor="end" fill="#000" font-weight="normal" font-style="normal" dominant-baseline="central" >2</text><text x="396.5" y="474.3" font-size="9.6" text-anchor="end" fill="#000" font-weight="normal" font-style="normal" dominant-baseline="central" >3</text><text x="396.5" y="457.3" font-size="9.6" text-anchor="end" fill="#000" font-weight="normal" font-style="normal" dominant-baseline="central" >4</text><text x="396.5" y="440.3" font-size="9.6" text-anchor="end" fill="#000" font-weight="normal" font-style="normal" dominant-baseline="central" >5</text><text x="396.5" y="423.3" font-size="9.6" text-anchor="end" fill="#000" font-weight="normal" font-style="normal" dominant-baseline="central" >6</text><text transform="translate(381.5,474.5) rotate(-90)" font-size="11.3" text-anchor="middle" dominant-baseline="central">CO<tspan font-size="7" dy="2.5">2</tspan><tspan dy="-2.5"> (mmol g</tspan><tspan font-size="7" dy="-3.5">−1</tspan><tspan dy="3.5">)</tspan></text></svg></body></html>
